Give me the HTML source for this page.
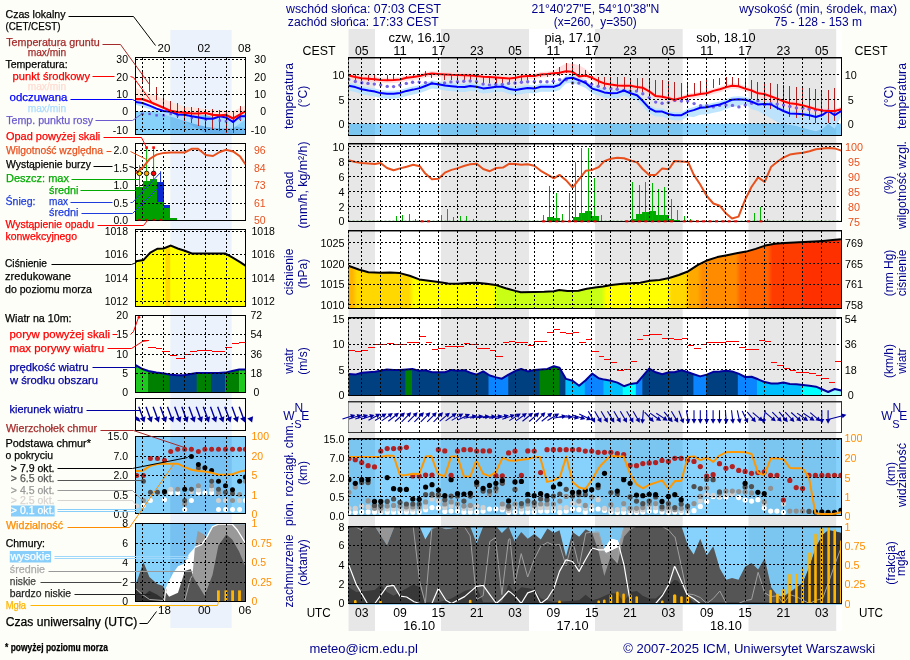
<!DOCTYPE html>
<html><head><meta charset="utf-8"><title>Meteogram</title>
<style>html,body{margin:0;padding:0;background:#fefef8}svg{display:block;will-change:transform;font-family:"Liberation Sans",sans-serif}</style></head>
<body><svg width="910" height="660" viewBox="0 0 910 660">
<rect width="910" height="660" fill="#fefef8"/>
<rect x="170.3" y="30" width="61.4" height="598" fill="#ecf2fc"/>
<defs>
<clipPath id="lc1"><rect x="135.5" y="57.5" width="110.0" height="77.0"/></clipPath>
<clipPath id="lc2"><rect x="135.5" y="143.5" width="110.0" height="77.0"/></clipPath>
<clipPath id="lc3"><rect x="135.5" y="229.5" width="110.0" height="77.0"/></clipPath>
<clipPath id="lc4"><rect x="135.5" y="315.5" width="110.0" height="77.0"/></clipPath>
<clipPath id="lc5"><rect x="135.5" y="398.5" width="110.0" height="32.0"/></clipPath>
<clipPath id="lc6"><rect x="135.5" y="436.5" width="110.0" height="77.0"/></clipPath>
<clipPath id="lc7"><rect x="135.5" y="523.5" width="110.0" height="78.0"/></clipPath>
</defs>
<g clip-path="url(#lc1)">
<rect x="135.5" y="111.4" width="110.0" height="23.1" fill="rgba(25,168,252,0.52)"/>
<rect x="170.3" y="111.4" width="61.4" height="23.1" fill="rgba(0,10,60,0.06)"/>
<polygon points="170.7,112.6 205.8,133.7 245.4,134.3 245.4,128.5 233.1,125.8 215.5,124.9 197.9,121.4 183.8,116.2" fill="#5aa5e6" fill-opacity="0.6"/>
<polygon points="135.8,88.0 142.5,90.7 156.6,95.9 170.7,102.1 184.7,106.5 198.8,108.2 212.9,110.0 226.0,110.0 233.1,110.9 245.4,105.6 245.4,113.4 240.1,116.4 233.1,120.4 226.0,116.9 219.9,117.3 212.9,116.9 205.8,115.0 198.8,115.5 191.8,115.5 184.7,114.6 177.7,114.1 170.7,112.9 163.6,109.7 156.6,106.7 149.6,103.7 142.5,101.1 135.8,101.1" fill="#ffe4dc"/>
<polygon points="135.8,102.1 142.5,103.0 149.6,105.6 156.6,108.6 163.6,110.9 170.7,111.8 177.7,114.4 184.7,114.7 191.8,116.2 198.8,117.4 205.8,118.8 212.9,118.8 219.9,116.2 226.0,117.4 233.1,122.0 240.1,116.2 245.4,116.2 245.4,119.7 240.1,123.2 233.1,128.5 219.9,128.5 205.8,126.7 191.8,123.2 177.7,118.8 163.6,114.4 149.6,109.1 135.8,104.7" fill="#b4e1ff" fill-opacity="0.9"/>
<line x1="142.5" y1="72.2" x2="142.5" y2="82.7" stroke="#b22222" stroke-width="1" shape-rendering="crispEdges"/>
<line x1="149.5" y1="77.5" x2="149.5" y2="92.4" stroke="#b22222" stroke-width="1" shape-rendering="crispEdges"/>
<line x1="156.5" y1="87.1" x2="156.5" y2="99.5" stroke="#b22222" stroke-width="1" shape-rendering="crispEdges"/>
<line x1="163.5" y1="95.9" x2="163.5" y2="107.4" stroke="#b22222" stroke-width="1" shape-rendering="crispEdges"/>
<line x1="170.5" y1="101.2" x2="170.5" y2="114.4" stroke="#b22222" stroke-width="1" shape-rendering="crispEdges"/>
<line x1="177.5" y1="103.0" x2="177.5" y2="117.9" stroke="#b22222" stroke-width="1" shape-rendering="crispEdges"/>
<line x1="184.5" y1="105.6" x2="184.5" y2="121.4" stroke="#b22222" stroke-width="1" shape-rendering="crispEdges"/>
<line x1="191.5" y1="107.4" x2="191.5" y2="123.2" stroke="#b22222" stroke-width="1" shape-rendering="crispEdges"/>
<line x1="198.5" y1="108.2" x2="198.5" y2="125.8" stroke="#b22222" stroke-width="1" shape-rendering="crispEdges"/>
<line x1="205.5" y1="109.1" x2="205.5" y2="127.6" stroke="#b22222" stroke-width="1" shape-rendering="crispEdges"/>
<line x1="212.5" y1="109.1" x2="212.5" y2="129.3" stroke="#b22222" stroke-width="1" shape-rendering="crispEdges"/>
<line x1="219.5" y1="110.0" x2="219.5" y2="131.1" stroke="#b22222" stroke-width="1" shape-rendering="crispEdges"/>
<line x1="226.5" y1="110.9" x2="226.5" y2="132.9" stroke="#b22222" stroke-width="1" shape-rendering="crispEdges"/>
<line x1="233.5" y1="111.8" x2="233.5" y2="132.9" stroke="#b22222" stroke-width="1" shape-rendering="crispEdges"/>
<line x1="240.5" y1="105.6" x2="240.5" y2="120.5" stroke="#b22222" stroke-width="1" shape-rendering="crispEdges"/>
<rect x="141.3" y="112.7" width="2.4" height="2.4" fill="#6a55e0"/>
<rect x="148.4" y="112.7" width="2.4" height="2.4" fill="#6a55e0"/>
<rect x="155.4" y="114.1" width="2.4" height="2.4" fill="#6a55e0"/>
<rect x="162.4" y="114.1" width="2.4" height="2.4" fill="#6a55e0"/>
<rect x="169.5" y="112.8" width="2.4" height="2.4" fill="#6a55e0"/>
<rect x="176.5" y="114.1" width="2.4" height="2.4" fill="#6a55e0"/>
<rect x="190.6" y="116.7" width="2.4" height="2.4" fill="#6a55e0"/>
<rect x="204.6" y="118.5" width="2.4" height="2.4" fill="#6a55e0"/>
<rect x="218.7" y="119.3" width="2.4" height="2.4" fill="#6a55e0"/>
<rect x="224.8" y="120.2" width="2.4" height="2.4" fill="#6a55e0"/>
<rect x="231.9" y="120.2" width="2.4" height="2.4" fill="#6a55e0"/>
<rect x="238.9" y="117.6" width="2.4" height="2.4" fill="#6a55e0"/>
<polyline points="135.8,102.1 142.5,103.0 149.6,105.6 156.6,108.6 163.6,110.9 170.7,111.8 177.7,114.4 184.7,114.7 191.8,116.2 198.8,117.4 205.8,118.8 212.9,118.8 219.9,116.2 226.0,117.4 233.1,122.0 240.1,116.2 245.4,116.2" fill="none" stroke="#0000ff" stroke-width="2"/>
<polyline points="135.8,99.1 142.5,99.1 149.6,101.7 156.6,104.7 163.6,107.7 170.7,110.9 177.7,112.1 184.7,112.6 191.8,113.5 198.8,113.5 205.8,113.0 212.9,114.9 219.9,115.3 226.0,114.9 233.1,118.4 240.1,114.4 245.4,111.4" fill="none" stroke="#ff0000" stroke-width="2.2"/>
</g>
<g clip-path="url(#lc2)">
<rect x="135.8" y="187.1" width="7.6" height="33.4" fill="#00a000" shape-rendering="crispEdges"/>
<rect x="143.4" y="181.0" width="6.2" height="39.6" fill="#00a000" shape-rendering="crispEdges"/>
<rect x="149.6" y="179.2" width="7.6" height="41.3" fill="#00a000" shape-rendering="crispEdges"/>
<rect x="157.1" y="202.1" width="6.5" height="18.5" fill="#00a000" shape-rendering="crispEdges"/>
<rect x="157.1" y="182.2" width="6.5" height="19.9" fill="#0a28d2" shape-rendering="crispEdges"/>
<rect x="163.6" y="207.9" width="6.5" height="12.7" fill="#00a000" shape-rendering="crispEdges"/>
<rect x="163.6" y="205.3" width="6.5" height="2.6" fill="#0a28d2" shape-rendering="crispEdges"/>
<rect x="170.1" y="218.4" width="6.7" height="2.1" fill="#00a000" shape-rendering="crispEdges"/>
<line x1="139.5" y1="165.2" x2="139.5" y2="187.1" stroke="#00b400" stroke-width="1"/>
<line x1="146.6" y1="147.6" x2="146.6" y2="181.0" stroke="#00b400" stroke-width="1"/>
<line x1="153.6" y1="147.6" x2="153.6" y2="179.2" stroke="#00b400" stroke-width="1"/>
<line x1="160.6" y1="171.3" x2="160.6" y2="182.2" stroke="#0a28d2" stroke-width="1"/>
</g>
<g clip-path="url(#lc3)">
<polygon points="135.8,261.3 143.4,260.1 150.4,252.5 157.5,248.7 163.6,248.5 170.7,245.5 177.7,248.5 184.7,250.8 191.8,253.4 205.8,253.4 225.2,253.4 233.1,257.8 240.1,262.2 245.4,265.7 245.5,306.5 135.5,306.5" fill="#ffff00"/>
<defs><clipPath id="lpp"><polygon points="135.8,261.3 143.4,260.1 150.4,252.5 157.5,248.7 163.6,248.5 170.7,245.5 177.7,248.5 184.7,250.8 191.8,253.4 205.8,253.4 225.2,253.4 233.1,257.8 240.1,262.2 245.4,265.7 245.5,306.5 135.5,306.5"/></clipPath></defs>
<rect x="165.4" y="229.5" width="4.8" height="77.0" fill="#ffd800" clip-path="url(#lpp)"/>
<polyline points="135.8,261.3 143.4,260.1 150.4,252.5 157.5,248.7 163.6,248.5 170.7,245.5 177.7,248.5 184.7,250.8 191.8,253.4 205.8,253.4 225.2,253.4 233.1,257.8 240.1,262.2 245.4,265.7" fill="none" stroke="#000" stroke-width="2"/>
</g>
<g clip-path="url(#lc4)">
<defs><clipPath id="lwp"><polygon points="135.6,365.1 142.5,369.0 148.4,371.0 156.3,372.4 164.2,373.4 169.1,374.4 177.0,375.3 183.9,375.3 190.8,374.0 196.7,373.0 204.6,373.0 211.5,373.0 218.4,373.0 225.3,372.6 232.2,371.0 239.1,369.6 245.6,369.6 245.5,392.5 135.5,392.5"/></clipPath></defs>
<g clip-path="url(#lwp)">
<rect x="135.6" y="315.5" width="12.7" height="77.0" fill="#1ec81e"/>
<rect x="148.0" y="315.5" width="21.4" height="77.0" fill="#008000"/>
<rect x="169.1" y="315.5" width="27.9" height="77.0" fill="#004488"/>
<rect x="196.7" y="315.5" width="14.5" height="77.0" fill="#008000"/>
<rect x="210.9" y="315.5" width="14.7" height="77.0" fill="#004488"/>
<rect x="225.3" y="315.5" width="14.1" height="77.0" fill="#008000"/>
<rect x="239.1" y="315.5" width="7.2" height="77.0" fill="#1ec81e"/>
</g>
<polyline points="135.6,365.1 142.5,369.0 148.4,371.0 156.3,372.4 164.2,373.4 169.1,374.4 177.0,375.3 183.9,375.3 190.8,374.0 196.7,373.0 204.6,373.0 211.5,373.0 218.4,373.0 225.3,372.6 232.2,371.0 239.1,369.6 245.6,369.6" fill="none" stroke="#00009c" stroke-width="2"/>
<line x1="142.5" y1="340.5" x2="149.4" y2="340.5" stroke="#f00" stroke-width="1" shape-rendering="crispEdges"/>
<line x1="148.4" y1="347.5" x2="156.3" y2="347.5" stroke="#f00" stroke-width="1" shape-rendering="crispEdges"/>
<line x1="156.3" y1="348.5" x2="162.2" y2="348.5" stroke="#f00" stroke-width="1" shape-rendering="crispEdges"/>
<line x1="162.2" y1="351.5" x2="170.1" y2="351.5" stroke="#f00" stroke-width="1" shape-rendering="crispEdges"/>
<line x1="170.1" y1="355.5" x2="177.0" y2="355.5" stroke="#f00" stroke-width="1" shape-rendering="crispEdges"/>
<line x1="176.0" y1="358.5" x2="184.9" y2="358.5" stroke="#f00" stroke-width="1" shape-rendering="crispEdges"/>
<line x1="183.9" y1="354.5" x2="190.8" y2="354.5" stroke="#f00" stroke-width="1" shape-rendering="crispEdges"/>
<line x1="189.8" y1="351.5" x2="196.7" y2="351.5" stroke="#f00" stroke-width="1" shape-rendering="crispEdges"/>
<line x1="196.7" y1="350.5" x2="204.6" y2="350.5" stroke="#f00" stroke-width="1" shape-rendering="crispEdges"/>
<line x1="204.6" y1="350.5" x2="211.5" y2="350.5" stroke="#f00" stroke-width="1" shape-rendering="crispEdges"/>
<line x1="211.5" y1="351.5" x2="218.4" y2="351.5" stroke="#f00" stroke-width="1" shape-rendering="crispEdges"/>
<line x1="218.4" y1="351.5" x2="225.3" y2="351.5" stroke="#f00" stroke-width="1" shape-rendering="crispEdges"/>
<line x1="225.3" y1="347.5" x2="232.2" y2="347.5" stroke="#f00" stroke-width="1" shape-rendering="crispEdges"/>
<line x1="232.2" y1="343.5" x2="239.1" y2="343.5" stroke="#f00" stroke-width="1" shape-rendering="crispEdges"/>
<line x1="239.1" y1="342.5" x2="245.6" y2="342.5" stroke="#f00" stroke-width="1" shape-rendering="crispEdges"/>
</g>
<g clip-path="url(#lc5)" stroke="#0000a0" fill="#0000a0" stroke-width="1">
</g>
<g clip-path="url(#lc6)">
<rect x="135.5" y="436.5" width="110.0" height="77.0" fill="rgba(25,168,252,0.52)"/>
<rect x="170.3" y="436.5" width="61.4" height="77.0" fill="rgba(0,10,60,0.06)"/>
<circle cx="143.4" cy="505.5" r="2.5" fill="#fff"/>
<circle cx="150.4" cy="500.6" r="2.5" fill="#fff"/>
<circle cx="164.5" cy="499.7" r="2.5" fill="#fff"/>
<circle cx="170.7" cy="492.7" r="2.5" fill="#fff"/>
<circle cx="177.7" cy="492.7" r="2.5" fill="#fff"/>
<circle cx="184.7" cy="509.4" r="2.5" fill="#fff"/>
<circle cx="191.4" cy="500.6" r="2.5" fill="#fff"/>
<circle cx="198.4" cy="492.7" r="2.5" fill="#fff"/>
<circle cx="204.9" cy="492.7" r="2.5" fill="#fff"/>
<circle cx="211.6" cy="492.7" r="2.5" fill="#fff"/>
<circle cx="218.5" cy="509.4" r="2.5" fill="#fff"/>
<circle cx="225.5" cy="509.4" r="2.5" fill="#fff"/>
<circle cx="232.5" cy="509.4" r="2.5" fill="#fff"/>
<circle cx="239.6" cy="509.4" r="2.5" fill="#fff"/>
<circle cx="245.4" cy="500.6" r="2.5" fill="#fff"/>
<circle cx="170.7" cy="489.2" r="2.5" fill="#d0d0d0"/>
<circle cx="136.7" cy="505.9" r="2.5" fill="#d0d0d0"/>
<circle cx="198.4" cy="490.1" r="2.5" fill="#d0d0d0"/>
<circle cx="211.6" cy="489.2" r="2.5" fill="#d0d0d0"/>
<circle cx="218.5" cy="500.6" r="2.5" fill="#d0d0d0"/>
<circle cx="225.5" cy="500.6" r="2.5" fill="#d0d0d0"/>
<circle cx="239.6" cy="500.6" r="2.5" fill="#d0d0d0"/>
<circle cx="191.4" cy="491.8" r="2.5" fill="#d0d0d0"/>
<circle cx="143.4" cy="500.6" r="2.5" fill="#909090"/>
<circle cx="177.7" cy="489.2" r="2.5" fill="#909090"/>
<circle cx="198.4" cy="485.7" r="2.5" fill="#909090"/>
<circle cx="211.6" cy="485.7" r="2.5" fill="#909090"/>
<circle cx="218.5" cy="492.7" r="2.5" fill="#909090"/>
<circle cx="239.6" cy="494.5" r="2.5" fill="#909090"/>
<circle cx="232.5" cy="500.6" r="2.5" fill="#909090"/>
<circle cx="245.4" cy="481.3" r="2.5" fill="#909090"/>
<circle cx="184.7" cy="504.1" r="2.5" fill="#909090"/>
<circle cx="143.4" cy="481.3" r="2.5" fill="#505050"/>
<circle cx="150.4" cy="492.3" r="2.5" fill="#505050"/>
<circle cx="157.5" cy="492.3" r="2.5" fill="#505050"/>
<circle cx="164.5" cy="492.3" r="2.5" fill="#505050"/>
<circle cx="191.4" cy="489.2" r="2.5" fill="#505050"/>
<circle cx="184.7" cy="500.6" r="2.5" fill="#505050"/>
<circle cx="211.6" cy="481.3" r="2.5" fill="#505050"/>
<circle cx="218.5" cy="489.2" r="2.5" fill="#505050"/>
<circle cx="225.5" cy="492.3" r="2.5" fill="#505050"/>
<circle cx="232.5" cy="493.6" r="2.5" fill="#505050"/>
<circle cx="198.4" cy="468.1" r="2.5" fill="#505050"/>
<circle cx="191.4" cy="456.6" r="2.5" fill="#000"/>
<circle cx="198.4" cy="464.6" r="2.5" fill="#000"/>
<circle cx="204.9" cy="467.7" r="2.5" fill="#000"/>
<circle cx="211.6" cy="470.4" r="2.5" fill="#000"/>
<circle cx="218.5" cy="481.3" r="2.5" fill="#000"/>
<circle cx="225.5" cy="485.7" r="2.5" fill="#000"/>
<circle cx="232.5" cy="489.7" r="2.5" fill="#000"/>
<circle cx="239.6" cy="481.3" r="2.5" fill="#000"/>
<circle cx="245.4" cy="476.9" r="2.5" fill="#000"/>
<circle cx="184.7" cy="489.2" r="2.5" fill="#000"/>
<circle cx="164.5" cy="491.5" r="2.5" fill="#000"/>
<circle cx="136.7" cy="475.5" r="2.5" fill="#b22222"/>
<circle cx="143.4" cy="475.5" r="2.5" fill="#b22222"/>
<circle cx="150.4" cy="458.4" r="2.5" fill="#b22222"/>
<circle cx="157.5" cy="458.4" r="2.5" fill="#b22222"/>
<circle cx="164.5" cy="460.2" r="2.5" fill="#b22222"/>
<circle cx="170.7" cy="451.4" r="2.5" fill="#b22222"/>
<circle cx="177.7" cy="449.3" r="2.5" fill="#b22222"/>
<circle cx="184.7" cy="449.3" r="2.5" fill="#b22222"/>
<circle cx="191.4" cy="449.3" r="2.5" fill="#b22222"/>
<circle cx="198.4" cy="451.4" r="2.5" fill="#b22222"/>
<circle cx="204.9" cy="449.3" r="2.5" fill="#b22222"/>
<circle cx="211.6" cy="449.3" r="2.5" fill="#b22222"/>
<circle cx="218.5" cy="449.3" r="2.5" fill="#b22222"/>
<circle cx="225.5" cy="449.3" r="2.5" fill="#b22222"/>
<circle cx="232.5" cy="449.3" r="2.5" fill="#b22222"/>
<circle cx="239.6" cy="449.3" r="2.5" fill="#b22222"/>
<circle cx="245.4" cy="449.3" r="2.5" fill="#b22222"/>
<polyline points="135.8,471.1 142.5,470.7 150.4,465.8 157.5,464.0 164.5,463.7 177.7,463.7 184.7,467.2 191.4,469.8 198.4,471.1 204.9,471.6 211.6,472.8 218.5,474.8 225.5,474.8 232.5,474.2 239.6,471.6 245.4,470.4" fill="none" stroke="#ff9800" stroke-width="2"/>
</g>
<g clip-path="url(#lc7)">
<rect x="135.5" y="523.5" width="110.0" height="78.0" fill="rgba(25,168,252,0.52)"/>
<rect x="170.3" y="523.5" width="61.4" height="78.0" fill="rgba(0,10,60,0.06)"/>
<polygon points="164.2,601.2 165.2,590.8 169.1,580.9 173.1,573.1 178.0,566.2 184.9,563.2 188.8,554.3 194.7,547.4 201.6,544.5 206.6,537.6 212.5,526.7 218.4,524.2 232.2,524.2 237.1,529.7 245.6,543.5 245.6,601.2" fill="#fff"/>
<polygon points="188.8,601.2 192.4,577.0 194.7,549.4 197.7,531.1 204.2,534.6 206.9,537.6 212.5,526.7 218.4,524.2 245.6,524.2 245.6,601.2" fill="#999"/>
<polygon points="135.6,601.2 135.6,584.9 143.5,562.2 149.4,577.0 157.3,583.9 163.2,585.9 166.2,592.8 169.1,596.7 178.0,592.8 184.9,571.1 190.8,569.1 193.7,578.0 204.6,595.7 212.5,575.0 218.4,545.5 226.3,534.6 232.2,539.6 239.1,551.4 245.6,567.1 245.6,601.2" fill="#555"/>
<polygon points="135.6,588.8 142.5,596.7 149.4,590.8 157.3,594.7 164.2,599.7 164.2,601.2 135.6,601.2" fill="#303030"/>
<polyline points="135.5,588.5 142.5,594.5 149.5,599.5 163.5,600.5 166.5,588.5" fill="none" stroke="#aaa" stroke-width="1"/>
<polyline points="184.5,601.5 190.5,578.5 192.5,575.5" fill="none" stroke="#aaa" stroke-width="1"/>
<polyline points="164.5,601.5 165.5,590.5 169.5,580.5" fill="none" stroke="#fff" stroke-width="1"/>
<polyline points="194.7,547.4 201.6,544.5 206.6,537.6 212.5,526.7 218.4,524.2 232.2,524.2 237.1,529.7 245.6,543.5" fill="none" stroke="#fff" stroke-width="1.3"/>
<rect x="217.0" y="590.4" width="2.8" height="10.8" fill="#ffb400"/>
<rect x="224.5" y="590.4" width="2.8" height="10.8" fill="#ffb400"/>
<rect x="231.2" y="590.4" width="2.8" height="10.8" fill="#ffb400"/>
<rect x="238.1" y="590.4" width="2.8" height="10.8" fill="#ffb400"/>
</g>
<g stroke="#000" stroke-width="1" stroke-dasharray="2 2" shape-rendering="crispEdges">
<line x1="142.5" y1="57.5" x2="142.5" y2="134.5"/>
<line x1="163.5" y1="57.5" x2="163.5" y2="134.5"/>
<line x1="184.5" y1="57.5" x2="184.5" y2="134.5"/>
<line x1="205.5" y1="57.5" x2="205.5" y2="134.5"/>
<line x1="226.5" y1="57.5" x2="226.5" y2="134.5"/>
<line x1="135.5" y1="59.5" x2="245.5" y2="59.5"/>
<line x1="135.5" y1="77.5" x2="245.5" y2="77.5"/>
<line x1="135.5" y1="94.5" x2="245.5" y2="94.5"/>
<line x1="135.5" y1="111.5" x2="245.5" y2="111.5"/>
<line x1="135.5" y1="129.5" x2="245.5" y2="129.5"/>
<line x1="142.5" y1="143.5" x2="142.5" y2="220.5"/>
<line x1="163.5" y1="143.5" x2="163.5" y2="220.5"/>
<line x1="184.5" y1="143.5" x2="184.5" y2="220.5"/>
<line x1="205.5" y1="143.5" x2="205.5" y2="220.5"/>
<line x1="226.5" y1="143.5" x2="226.5" y2="220.5"/>
<line x1="135.5" y1="150.5" x2="245.5" y2="150.5"/>
<line x1="135.5" y1="167.5" x2="245.5" y2="167.5"/>
<line x1="135.5" y1="185.5" x2="245.5" y2="185.5"/>
<line x1="135.5" y1="203.5" x2="245.5" y2="203.5"/>
<line x1="142.5" y1="229.5" x2="142.5" y2="306.5"/>
<line x1="163.5" y1="229.5" x2="163.5" y2="306.5"/>
<line x1="184.5" y1="229.5" x2="184.5" y2="306.5"/>
<line x1="205.5" y1="229.5" x2="205.5" y2="306.5"/>
<line x1="226.5" y1="229.5" x2="226.5" y2="306.5"/>
<line x1="135.5" y1="231.5" x2="245.5" y2="231.5"/>
<line x1="135.5" y1="254.5" x2="245.5" y2="254.5"/>
<line x1="135.5" y1="278.5" x2="245.5" y2="278.5"/>
<line x1="135.5" y1="301.5" x2="245.5" y2="301.5"/>
<line x1="142.5" y1="315.5" x2="142.5" y2="392.5"/>
<line x1="163.5" y1="315.5" x2="163.5" y2="392.5"/>
<line x1="184.5" y1="315.5" x2="184.5" y2="392.5"/>
<line x1="205.5" y1="315.5" x2="205.5" y2="392.5"/>
<line x1="226.5" y1="315.5" x2="226.5" y2="392.5"/>
<line x1="135.5" y1="334.5" x2="245.5" y2="334.5"/>
<line x1="135.5" y1="354.5" x2="245.5" y2="354.5"/>
<line x1="135.5" y1="373.5" x2="245.5" y2="373.5"/>
<line x1="142.5" y1="398.5" x2="142.5" y2="430.5"/>
<line x1="163.5" y1="398.5" x2="163.5" y2="430.5"/>
<line x1="184.5" y1="398.5" x2="184.5" y2="430.5"/>
<line x1="205.5" y1="398.5" x2="205.5" y2="430.5"/>
<line x1="226.5" y1="398.5" x2="226.5" y2="430.5"/>
<line x1="142.5" y1="436.5" x2="142.5" y2="513.5"/>
<line x1="163.5" y1="436.5" x2="163.5" y2="513.5"/>
<line x1="184.5" y1="436.5" x2="184.5" y2="513.5"/>
<line x1="205.5" y1="436.5" x2="205.5" y2="513.5"/>
<line x1="226.5" y1="436.5" x2="226.5" y2="513.5"/>
<line x1="135.5" y1="456.5" x2="245.5" y2="456.5"/>
<line x1="135.5" y1="475.5" x2="245.5" y2="475.5"/>
<line x1="135.5" y1="495.5" x2="245.5" y2="495.5"/>
<line x1="142.5" y1="523.5" x2="142.5" y2="601.5"/>
<line x1="163.5" y1="523.5" x2="163.5" y2="601.5"/>
<line x1="184.5" y1="523.5" x2="184.5" y2="601.5"/>
<line x1="205.5" y1="523.5" x2="205.5" y2="601.5"/>
<line x1="226.5" y1="523.5" x2="226.5" y2="601.5"/>
<line x1="135.5" y1="543.5" x2="245.5" y2="543.5"/>
<line x1="135.5" y1="562.5" x2="245.5" y2="562.5"/>
<line x1="135.5" y1="582.5" x2="245.5" y2="582.5"/>
</g>
<rect x="135.5" y="57.5" width="110.0" height="77.0" fill="none" stroke="#000" stroke-width="1" shape-rendering="crispEdges"/>
<rect x="135.5" y="143.5" width="110.0" height="77.0" fill="none" stroke="#000" stroke-width="1" shape-rendering="crispEdges"/>
<rect x="135.5" y="229.5" width="110.0" height="77.0" fill="none" stroke="#000" stroke-width="1" shape-rendering="crispEdges"/>
<rect x="135.5" y="315.5" width="110.0" height="77.0" fill="none" stroke="#000" stroke-width="1" shape-rendering="crispEdges"/>
<rect x="135.5" y="398.5" width="110.0" height="32.0" fill="none" stroke="#000" stroke-width="1" shape-rendering="crispEdges"/>
<rect x="135.5" y="436.5" width="110.0" height="77.0" fill="none" stroke="#000" stroke-width="1" shape-rendering="crispEdges"/>
<rect x="135.5" y="523.5" width="110.0" height="78.0" fill="none" stroke="#000" stroke-width="1" shape-rendering="crispEdges"/>
<g clip-path="url(#lc2)"><polyline points="135.8,173.1 142.5,167.8 149.6,159.0 156.6,154.6 163.6,152.9 170.7,152.5 184.7,152.5 191.8,148.8 197.9,148.8 205.8,155.1 212.9,156.0 219.9,152.0 226.0,149.7 233.1,151.5 240.1,156.4 245.4,164.3" fill="none" stroke="#e8501e" stroke-width="2"/></g>
<circle cx="139.5" cy="173.4" r="2.3" fill="#ffe600" stroke="#000" stroke-width="0.8"/>
<circle cx="146.6" cy="173.4" r="2.3" fill="#ffa500" stroke="#000" stroke-width="0.8"/>
<circle cx="153.6" cy="173.4" r="2.3" fill="#ff0000" stroke="#000" stroke-width="0.8"/>
<rect x="145.3" y="146.3" width="2.6" height="2.6" fill="#f00"/>
<rect x="152.3" y="146.3" width="2.6" height="2.6" fill="#f00"/>
<rect x="138.2" y="218.9" width="2.6" height="1.6" fill="#e00000"/>
<rect x="145.3" y="218.9" width="2.6" height="1.6" fill="#e00000"/>
<rect x="152.7" y="218.9" width="2.6" height="1.6" fill="#e00000"/>
<rect x="159.7" y="218.9" width="2.6" height="1.6" fill="#e00000"/>
<g stroke="#0000a0" fill="#0000a0" stroke-width="1.4">
<line x1="138.8" y1="406.8" x2="143.8" y2="420.6"/>
<polygon stroke="none" points="144.5,422.5 139.7,418.4 145.5,416.3"/>
<line x1="146.0" y1="406.8" x2="151.0" y2="420.6"/>
<polygon stroke="none" points="151.7,422.5 146.9,418.4 152.7,416.3"/>
<line x1="153.1" y1="406.8" x2="158.2" y2="420.6"/>
<polygon stroke="none" points="158.9,422.5 154.1,418.4 159.9,416.3"/>
<line x1="160.3" y1="406.8" x2="165.3" y2="420.6"/>
<polygon stroke="none" points="166.0,422.5 161.2,418.4 167.1,416.3"/>
<line x1="167.5" y1="406.8" x2="172.5" y2="420.6"/>
<polygon stroke="none" points="173.2,422.5 168.4,418.4 174.2,416.3"/>
<line x1="174.7" y1="406.8" x2="179.7" y2="420.6"/>
<polygon stroke="none" points="180.4,422.5 175.6,418.4 181.4,416.3"/>
<line x1="181.8" y1="406.8" x2="186.8" y2="420.6"/>
<polygon stroke="none" points="187.5,422.5 182.7,418.4 188.6,416.3"/>
<line x1="189.0" y1="406.8" x2="194.0" y2="420.6"/>
<polygon stroke="none" points="194.7,422.5 189.9,418.4 195.7,416.3"/>
<line x1="196.2" y1="406.8" x2="201.2" y2="420.6"/>
<polygon stroke="none" points="201.9,422.5 197.1,418.4 202.9,416.3"/>
<line x1="203.3" y1="406.8" x2="208.4" y2="420.6"/>
<polygon stroke="none" points="209.0,422.5 204.2,418.4 210.1,416.3"/>
<line x1="210.5" y1="406.8" x2="215.5" y2="420.6"/>
<polygon stroke="none" points="216.2,422.5 211.4,418.4 217.2,416.3"/>
<line x1="217.7" y1="406.8" x2="222.7" y2="420.6"/>
<polygon stroke="none" points="223.4,422.5 218.6,418.4 224.4,416.3"/>
<line x1="224.8" y1="406.8" x2="229.9" y2="420.6"/>
<polygon stroke="none" points="230.6,422.5 225.8,418.4 231.6,416.3"/>
<line x1="232.0" y1="406.8" x2="237.0" y2="420.6"/>
<polygon stroke="none" points="237.7,422.5 232.9,418.4 238.8,416.3"/>
<line x1="239.2" y1="406.8" x2="244.2" y2="420.6"/>
<polygon stroke="none" points="244.9,422.5 240.1,418.4 245.9,416.3"/>
<polygon stroke="none" points="252.1,422.5 247.3,418.4 253.1,416.3"/>
<polygon stroke="none" points="140.5,422 135.5,420 135.5,416 139,418"/>
</g>
<text x="128" y="63.3" fill="#000" stroke="#000" stroke-width="0" font-size="10.5" text-anchor="end">30</text>
<text x="128" y="80.9" fill="#000" stroke="#000" stroke-width="0" font-size="10.5" text-anchor="end">20</text>
<text x="128" y="98.3" fill="#000" stroke="#000" stroke-width="0" font-size="10.5" text-anchor="end">10</text>
<text x="128" y="115.2" fill="#000" stroke="#000" stroke-width="0" font-size="10.5" text-anchor="end">0</text>
<text x="128" y="133.5" fill="#000" stroke="#000" stroke-width="0" font-size="10.5" text-anchor="end">-10</text>
<text x="266" y="63.3" fill="#000" stroke="#000" stroke-width="0" font-size="10.5" text-anchor="end">30</text>
<text x="266" y="80.9" fill="#000" stroke="#000" stroke-width="0" font-size="10.5" text-anchor="end">20</text>
<text x="266" y="98.3" fill="#000" stroke="#000" stroke-width="0" font-size="10.5" text-anchor="end">10</text>
<text x="266" y="115.2" fill="#000" stroke="#000" stroke-width="0" font-size="10.5" text-anchor="end">0</text>
<text x="266" y="133.5" fill="#000" stroke="#000" stroke-width="0" font-size="10.5" text-anchor="end">-10</text>
<text x="128" y="154.4" fill="#000" stroke="#000" stroke-width="0" font-size="10.5" text-anchor="end">2.0</text>
<text x="128" y="171.6" fill="#000" stroke="#000" stroke-width="0" font-size="10.5" text-anchor="end">1.5</text>
<text x="128" y="189.2" fill="#000" stroke="#000" stroke-width="0" font-size="10.5" text-anchor="end">1.0</text>
<text x="128" y="206.8" fill="#000" stroke="#000" stroke-width="0" font-size="10.5" text-anchor="end">0.5</text>
<text x="128" y="223.8" fill="#000" stroke="#000" stroke-width="0" font-size="10.5" text-anchor="end">0.0</text>
<text x="265.6" y="154.4" fill="#e8501e" stroke="#e8501e" stroke-width="0" font-size="10.5" text-anchor="end">96</text>
<text x="265.6" y="171.6" fill="#e8501e" stroke="#e8501e" stroke-width="0" font-size="10.5" text-anchor="end">84</text>
<text x="265.6" y="189.2" fill="#e8501e" stroke="#e8501e" stroke-width="0" font-size="10.5" text-anchor="end">73</text>
<text x="265.6" y="206.8" fill="#e8501e" stroke="#e8501e" stroke-width="0" font-size="10.5" text-anchor="end">61</text>
<text x="265.6" y="224.3" fill="#e8501e" stroke="#e8501e" stroke-width="0" font-size="10.5" text-anchor="end">50</text>
<text x="128" y="235.2" fill="#000" stroke="#000" stroke-width="0" font-size="10.5" text-anchor="end">1018</text>
<text x="128" y="258.1" fill="#000" stroke="#000" stroke-width="0" font-size="10.5" text-anchor="end">1016</text>
<text x="128" y="281.8" fill="#000" stroke="#000" stroke-width="0" font-size="10.5" text-anchor="end">1014</text>
<text x="128" y="305.2" fill="#000" stroke="#000" stroke-width="0" font-size="10.5" text-anchor="end">1012</text>
<text x="251.5" y="235.2" fill="#000" stroke="#000" stroke-width="0" font-size="10.5" text-anchor="start">1018</text>
<text x="251.5" y="258.1" fill="#000" stroke="#000" stroke-width="0" font-size="10.5" text-anchor="start">1016</text>
<text x="251.5" y="281.8" fill="#000" stroke="#000" stroke-width="0" font-size="10.5" text-anchor="start">1014</text>
<text x="251.5" y="305.2" fill="#000" stroke="#000" stroke-width="0" font-size="10.5" text-anchor="start">1012</text>
<text x="128" y="319.3" fill="#000" stroke="#000" stroke-width="0" font-size="10.5" text-anchor="end">20</text>
<text x="128" y="338.1" fill="#000" stroke="#000" stroke-width="0" font-size="10.5" text-anchor="end">15</text>
<text x="128" y="358.1" fill="#000" stroke="#000" stroke-width="0" font-size="10.5" text-anchor="end">10</text>
<text x="128" y="377.2" fill="#000" stroke="#000" stroke-width="0" font-size="10.5" text-anchor="end">5</text>
<text x="128" y="396.1" fill="#000" stroke="#000" stroke-width="0" font-size="10.5" text-anchor="end">0</text>
<text x="256.3" y="319.3" fill="#000" stroke="#000" stroke-width="0" font-size="10.5" text-anchor="middle">72</text>
<text x="256.3" y="338.1" fill="#000" stroke="#000" stroke-width="0" font-size="10.5" text-anchor="middle">54</text>
<text x="256.3" y="358.1" fill="#000" stroke="#000" stroke-width="0" font-size="10.5" text-anchor="middle">36</text>
<text x="256.3" y="377.2" fill="#000" stroke="#000" stroke-width="0" font-size="10.5" text-anchor="middle">18</text>
<text x="256.3" y="396.1" fill="#000" stroke="#000" stroke-width="0" font-size="10.5" text-anchor="middle">0</text>
<text x="128" y="440.1" fill="#000" stroke="#000" stroke-width="0" font-size="10.5" text-anchor="end">15.0</text>
<text x="128" y="460.3" fill="#000" stroke="#000" stroke-width="0" font-size="10.5" text-anchor="end">7.0</text>
<text x="128" y="479.3" fill="#000" stroke="#000" stroke-width="0" font-size="10.5" text-anchor="end">2.0</text>
<text x="128" y="499.1" fill="#000" stroke="#000" stroke-width="0" font-size="10.5" text-anchor="end">0.5</text>
<text x="128" y="517.8" fill="#000" stroke="#000" stroke-width="0" font-size="10.5" text-anchor="end">0.0</text>
<text x="251.5" y="440.1" fill="#ff8c00" stroke="#ff8c00" stroke-width="0" font-size="10.5" text-anchor="start">100</text>
<text x="251.5" y="460.3" fill="#ff8c00" stroke="#ff8c00" stroke-width="0" font-size="10.5" text-anchor="start">20</text>
<text x="251.5" y="479.3" fill="#ff8c00" stroke="#ff8c00" stroke-width="0" font-size="10.5" text-anchor="start">5</text>
<text x="251.5" y="499.1" fill="#ff8c00" stroke="#ff8c00" stroke-width="0" font-size="10.5" text-anchor="start">1</text>
<text x="251.5" y="517.8" fill="#ff8c00" stroke="#ff8c00" stroke-width="0" font-size="10.5" text-anchor="start">0</text>
<text x="128" y="526.8" fill="#000" stroke="#000" stroke-width="0" font-size="10.5" text-anchor="end">8</text>
<text x="128" y="546.8" fill="#000" stroke="#000" stroke-width="0" font-size="10.5" text-anchor="end">6</text>
<text x="128" y="566.3" fill="#000" stroke="#000" stroke-width="0" font-size="10.5" text-anchor="end">4</text>
<text x="128" y="586.3" fill="#000" stroke="#000" stroke-width="0" font-size="10.5" text-anchor="end">2</text>
<text x="128" y="605.3" fill="#000" stroke="#000" stroke-width="0" font-size="10.5" text-anchor="end">0</text>
<text x="251.5" y="527.3" fill="#ff8c00" stroke="#ff8c00" stroke-width="0" font-size="10.5" text-anchor="start">1</text>
<text x="251.5" y="547.3" fill="#ff8c00" stroke="#ff8c00" stroke-width="0" font-size="10.5" text-anchor="start">0.75</text>
<text x="251.5" y="566.0" fill="#ff8c00" stroke="#ff8c00" stroke-width="0" font-size="10.5" text-anchor="start">0.5</text>
<text x="251.5" y="586.3" fill="#ff8c00" stroke="#ff8c00" stroke-width="0" font-size="10.5" text-anchor="start">0.25</text>
<text x="251.5" y="605.0" fill="#ff8c00" stroke="#ff8c00" stroke-width="0" font-size="10.5" text-anchor="start">0</text>
<text x="164" y="51.6" fill="#000" stroke="#000" stroke-width="0" font-size="11.5" text-anchor="middle">20</text>
<text x="204" y="51.6" fill="#000" stroke="#000" stroke-width="0" font-size="11.5" text-anchor="middle">02</text>
<text x="244.5" y="51.6" fill="#000" stroke="#000" stroke-width="0" font-size="11.5" text-anchor="middle">08</text>
<text x="164.5" y="614" fill="#000" stroke="#000" stroke-width="0" font-size="11.5" text-anchor="middle">18</text>
<text x="204.3" y="614" fill="#000" stroke="#000" stroke-width="0" font-size="11.5" text-anchor="middle">00</text>
<text x="245" y="614" fill="#000" stroke="#000" stroke-width="0" font-size="11.5" text-anchor="middle">06</text>
<text x="5.5" y="18.2" fill="#000" stroke="#000" stroke-width="0.25" font-size="11" text-anchor="start" textLength="60" lengthAdjust="spacingAndGlyphs">Czas lokalny</text>
<text x="5.5" y="30" fill="#000" stroke="#000" stroke-width="0.25" font-size="11" text-anchor="start" textLength="55" lengthAdjust="spacingAndGlyphs">(CET/CEST)</text>
<polyline points="68.5,16.5 133.5,16.5 155.5,45.5" fill="none" stroke="#000" stroke-width="1"/>
<text x="6.2" y="45.8" fill="#a52a2a" stroke="#a52a2a" stroke-width="0.25" font-size="11" text-anchor="start" textLength="93.5" lengthAdjust="spacingAndGlyphs">Temperatura gruntu</text>
<text x="27.7" y="55.7" fill="#a52a2a" stroke="#a52a2a" stroke-width="0.25" font-size="11" text-anchor="start" textLength="38.5" lengthAdjust="spacingAndGlyphs">max/min</text>
<polyline points="102.5,44.5 120.5,44.5 149.5,84.5" fill="none" stroke="#a52a2a" stroke-width="1"/>
<text x="5.4" y="67.7" fill="#000" stroke="#000" stroke-width="0.25" font-size="11" text-anchor="start" textLength="62.3" lengthAdjust="spacingAndGlyphs">Temperatura:</text>
<text x="12.6" y="80" fill="#f00" stroke="#f00" stroke-width="0.25" font-size="11" text-anchor="start" textLength="77.4" lengthAdjust="spacingAndGlyphs">punkt środkowy</text>
<polyline points="92.5,76.5 114.5,76.5" fill="none" stroke="#f00" stroke-width="1"/>
<polyline points="130.5,76.5 133.5,77.5 153.5,104.5" fill="none" stroke="#f00" stroke-width="1"/>
<text x="27.7" y="90" fill="#ffdcd2" stroke="#ffdcd2" stroke-width="0.25" font-size="11" text-anchor="start" textLength="38.5" lengthAdjust="spacingAndGlyphs">max/min</text>
<text x="9.5" y="101.2" fill="#00f" stroke="#00f" stroke-width="0.25" font-size="11" text-anchor="start" textLength="58" lengthAdjust="spacingAndGlyphs">odczuwana</text>
<polyline points="70.5,99.5 132.5,99.5 136.5,101.5" fill="none" stroke="#00f" stroke-width="1"/>
<text x="27.7" y="111.5" fill="#aadcff" stroke="#aadcff" stroke-width="0.25" font-size="11" text-anchor="start" textLength="38.5" lengthAdjust="spacingAndGlyphs">max/min</text>
<text x="6.2" y="123.5" fill="#6a5acd" stroke="#6a5acd" stroke-width="0.25" font-size="11" text-anchor="start" textLength="87" lengthAdjust="spacingAndGlyphs">Temp. punktu rosy</text>
<polyline points="95.5,120.5 132.5,120.5 142.5,113.5" fill="none" stroke="#6a5acd" stroke-width="1"/>
<text x="6" y="140.4" fill="#f00" stroke="#f00" stroke-width="0.25" font-size="11" text-anchor="start" textLength="94.3" lengthAdjust="spacingAndGlyphs">Opad powyżej skali</text>
<polyline points="103.5,137.5 141.5,137.5 146.5,147.5" fill="none" stroke="#f00" stroke-width="1"/>
<text x="6" y="154.2" fill="#e8501e" stroke="#e8501e" stroke-width="0.25" font-size="11" text-anchor="start" textLength="97" lengthAdjust="spacingAndGlyphs">Wilgotność względna</text>
<polyline points="106.5,151.5 111.5,151.5" fill="none" stroke="#e8501e" stroke-width="1"/>
<polyline points="130.5,151.5 146.5,159.5" fill="none" stroke="#e8501e" stroke-width="1"/>
<text x="6" y="168" fill="#000" stroke="#000" stroke-width="0.25" font-size="11" text-anchor="start" textLength="85" lengthAdjust="spacingAndGlyphs">Wystąpienie burzy</text>
<polyline points="93.5,166.5 112.5,166.5" fill="none" stroke="#000" stroke-width="1"/>
<polyline points="129.5,166.5 133.5,167.5 138.5,172.5" fill="none" stroke="#000" stroke-width="1"/>
<text x="6" y="182.3" fill="#00aa00" stroke="#00aa00" stroke-width="0.25" font-size="11" text-anchor="start" textLength="63" lengthAdjust="spacingAndGlyphs">Deszcz: max</text>
<polyline points="71.5,179.5 139.5,179.5" fill="none" stroke="#00aa00" stroke-width="1"/>
<text x="49" y="193.5" fill="#00aa00" stroke="#00aa00" stroke-width="0.25" font-size="11" text-anchor="start" textLength="29.5" lengthAdjust="spacingAndGlyphs">średni</text>
<polyline points="80.5,190.5 136.5,190.5" fill="none" stroke="#00aa00" stroke-width="1"/>
<text x="5.5" y="205" fill="#1e3cdc" stroke="#1e3cdc" stroke-width="0.25" font-size="11" text-anchor="start" textLength="30" lengthAdjust="spacingAndGlyphs">Śnieg:</text>
<text x="49" y="205" fill="#1e3cdc" stroke="#1e3cdc" stroke-width="0.25" font-size="11" text-anchor="start" textLength="19" lengthAdjust="spacingAndGlyphs">max</text>
<polyline points="70.5,202.5 112.5,202.5" fill="none" stroke="#1e3cdc" stroke-width="1"/>
<polyline points="130.5,202.5 132.5,202.5 160.5,172.5" fill="none" stroke="#1e3cdc" stroke-width="1"/>
<text x="49" y="215.8" fill="#1e3cdc" stroke="#1e3cdc" stroke-width="0.25" font-size="11" text-anchor="start" textLength="29.5" lengthAdjust="spacingAndGlyphs">średni</text>
<polyline points="81.5,213.5 132.5,213.5 157.5,188.5" fill="none" stroke="#1e3cdc" stroke-width="1"/>
<text x="5.5" y="227.6" fill="#f00" stroke="#f00" stroke-width="0.25" font-size="11" text-anchor="start" textLength="88.5" lengthAdjust="spacingAndGlyphs">Wystąpienie opadu</text>
<polyline points="97.5,225.5 143.5,225.5 147.5,220.5" fill="none" stroke="#f00" stroke-width="1"/>
<text x="5.5" y="240.4" fill="#f00" stroke="#f00" stroke-width="0.25" font-size="11" text-anchor="start" textLength="71.5" lengthAdjust="spacingAndGlyphs">konwekcyjnego</text>
<text x="5" y="266.5" fill="#000" stroke="#000" stroke-width="0.25" font-size="11" text-anchor="start" textLength="42" lengthAdjust="spacingAndGlyphs">Ciśnienie</text>
<polyline points="51.5,264.5 131.5,264.5 136.5,262.5" fill="none" stroke="#000" stroke-width="1"/>
<text x="5" y="279.6" fill="#000" stroke="#000" stroke-width="0.25" font-size="11" text-anchor="start" textLength="66" lengthAdjust="spacingAndGlyphs">zredukowane</text>
<text x="5" y="292.7" fill="#000" stroke="#000" stroke-width="0.25" font-size="11" text-anchor="start" textLength="87" lengthAdjust="spacingAndGlyphs">do poziomu morza</text>
<text x="5" y="321.6" fill="#000" stroke="#000" stroke-width="0.25" font-size="11" text-anchor="start" textLength="66.5" lengthAdjust="spacingAndGlyphs">Wiatr na 10m:</text>
<text x="9.5" y="337.6" fill="#f00" stroke="#f00" stroke-width="0.25" font-size="11" text-anchor="start" textLength="100.5" lengthAdjust="spacingAndGlyphs">poryw powyżej skali</text>
<polyline points="112.5,334.5 117.5,334.5" fill="none" stroke="#f00" stroke-width="1"/>
<polyline points="130.5,334.5 133.5,331.5 138.5,317.5" fill="none" stroke="#f00" stroke-width="1"/>
<circle cx="139" cy="317.2" r="1.3" fill="#f00"/>
<text x="9.5" y="352" fill="#f00" stroke="#f00" stroke-width="0.25" font-size="11" text-anchor="start" textLength="94.5" lengthAdjust="spacingAndGlyphs">max porywy wiatru</text>
<polyline points="107.5,348.5 131.5,348.5 142.5,341.5 148.5,340.5" fill="none" stroke="#f00" stroke-width="1"/>
<text x="9.5" y="371.2" fill="#0000a0" stroke="#0000a0" stroke-width="0.25" font-size="11" text-anchor="start" textLength="79" lengthAdjust="spacingAndGlyphs">prędkość wiatru</text>
<polyline points="92.5,367.5 136.5,367.5" fill="none" stroke="#0000a0" stroke-width="1"/>
<text x="10" y="384.2" fill="#0000a0" stroke="#0000a0" stroke-width="0.25" font-size="11" text-anchor="start" textLength="88" lengthAdjust="spacingAndGlyphs">w środku obszaru</text>
<text x="9.5" y="412.7" fill="#0000a0" stroke="#0000a0" stroke-width="0.25" font-size="11" text-anchor="start" textLength="73.5" lengthAdjust="spacingAndGlyphs">kierunek wiatru</text>
<polyline points="86.5,410.5 140.5,410.5" fill="none" stroke="#0000a0" stroke-width="1"/>
<text x="6" y="432.2" fill="#a52a2a" stroke="#a52a2a" stroke-width="0.25" font-size="11" text-anchor="start" textLength="91" lengthAdjust="spacingAndGlyphs">Wierzchołek chmur</text>
<polyline points="100.5,430.5 133.5,430.5 184.5,447.5" fill="none" stroke="#a52a2a" stroke-width="1"/>
<text x="5.5" y="447.3" fill="#000" stroke="#000" stroke-width="0.25" font-size="11" text-anchor="start" textLength="85.5" lengthAdjust="spacingAndGlyphs">Podstawa chmur*</text>
<text x="5.5" y="458.5" fill="#000" stroke="#000" stroke-width="0.25" font-size="11" text-anchor="start" textLength="47.5" lengthAdjust="spacingAndGlyphs">o pokryciu</text>
<text x="10.8" y="471.5" fill="#000" stroke="#000" stroke-width="0.25" font-size="11" text-anchor="start" textLength="43.7" lengthAdjust="spacingAndGlyphs">&gt; 7.9 okt.</text>
<polyline points="57.5,468.5 132.5,468.5 187.5,457.5" fill="none" stroke="#000" stroke-width="1"/>
<text x="10.8" y="482.4" fill="#555" stroke="#555" stroke-width="0.25" font-size="11" text-anchor="start" textLength="43.7" lengthAdjust="spacingAndGlyphs">&gt; 6.5 okt.</text>
<polyline points="57.5,480.5 141.5,480.5" fill="none" stroke="#555" stroke-width="1"/>
<text x="10.8" y="493.5" fill="#999" stroke="#999" stroke-width="0.25" font-size="11" text-anchor="start" textLength="43.7" lengthAdjust="spacingAndGlyphs">&gt; 4.5 okt.</text>
<polyline points="57.5,490.5 132.5,490.5 141.5,499.5" fill="none" stroke="#999" stroke-width="1"/>
<text x="10.8" y="503.5" fill="#d8d4d0" stroke="#d8d4d0" stroke-width="0.25" font-size="11" text-anchor="start" textLength="43.7" lengthAdjust="spacingAndGlyphs">&gt; 2.5 okt.</text>
<polyline points="57.5,500.5 132.5,500.5 136.5,505.5" fill="none" stroke="#d8d4d0" stroke-width="1"/>
<rect x="11" y="505.5" width="43.6" height="11" fill="#87cefa"/>
<text x="10.8" y="514.2" fill="#fff" stroke="#fff" stroke-width="0.25" font-size="11" text-anchor="start" textLength="43.7" lengthAdjust="spacingAndGlyphs">&gt; 0.1 okt.</text>
<polyline points="57.5,509.5 136.5,509.5" fill="none" stroke="#87cefa" stroke-width="1"/>
<polyline points="57.5,511.5 136.5,511.5" fill="none" stroke="#87cefa" stroke-width="1"/>
<text x="6" y="529.3" fill="#ff8c00" stroke="#ff8c00" stroke-width="0.25" font-size="11" text-anchor="start" textLength="57" lengthAdjust="spacingAndGlyphs">Widzialność</text>
<polyline points="67.5,527.5 129.5,527.5 173.5,464.5" fill="none" stroke="#ff8c00" stroke-width="1"/>
<text x="5.7" y="546.7" fill="#000" stroke="#000" stroke-width="0.25" font-size="11" text-anchor="start" textLength="39.3" lengthAdjust="spacingAndGlyphs">Chmury:</text>
<rect x="9.8" y="551" width="41.3" height="11.5" fill="#87cefa"/>
<text x="10.5" y="559.7" fill="#fff" stroke="#fff" stroke-width="0.25" font-size="11" text-anchor="start" textLength="40" lengthAdjust="spacingAndGlyphs">wysokie</text>
<polyline points="54.5,556.5 188.5,556.5" fill="none" stroke="#9fd8fb" stroke-width="1"/>
<polyline points="54.5,558.5 188.5,558.5" fill="none" stroke="#9fd8fb" stroke-width="1"/>
<text x="9.8" y="572.5" fill="#aaa" stroke="#aaa" stroke-width="0.25" font-size="11" text-anchor="start" textLength="35.2" lengthAdjust="spacingAndGlyphs">średnie</text>
<polyline points="48.5,571.5 192.5,571.5" fill="none" stroke="#999" stroke-width="1"/>
<text x="9.8" y="584.6" fill="#444" stroke="#444" stroke-width="0.25" font-size="11" text-anchor="start" textLength="26.2" lengthAdjust="spacingAndGlyphs">niskie</text>
<polyline points="40.5,582.5 121.5,582.5" fill="none" stroke="#444" stroke-width="1"/>
<polyline points="130.5,582.5 136.5,582.5" fill="none" stroke="#444" stroke-width="1"/>
<text x="9.8" y="596.5" fill="#222" stroke="#222" stroke-width="0.25" font-size="11" text-anchor="start" textLength="61.2" lengthAdjust="spacingAndGlyphs">bardzo niskie</text>
<polyline points="74.5,594.5 150.5,594.5" fill="none" stroke="#222" stroke-width="1"/>
<text x="5.7" y="608.5" fill="#ffb400" stroke="#ffb400" stroke-width="0.25" font-size="11" text-anchor="start" textLength="20.3" lengthAdjust="spacingAndGlyphs">Mgła</text>
<polyline points="30.5,605.5 217.5,605.5 218.5,601.5" fill="none" stroke="#ffb400" stroke-width="1"/>
<text x="5.7" y="625.5" fill="#000" stroke="#000" stroke-width="0.25" font-size="12" text-anchor="start" textLength="131.5" lengthAdjust="spacingAndGlyphs">Czas uniwersalny (UTC)</text>
<polyline points="139.5,623.5 147.5,623.5 156.5,611.5" fill="none" stroke="#000" stroke-width="1"/>
<text x="5" y="650.5" fill="#000" stroke="#000" stroke-width="0.25" font-size="10" text-anchor="start" textLength="103" lengthAdjust="spacingAndGlyphs" font-weight="bold">* powyżej poziomu morza</text>
<rect x="348.5" y="29" width="493.0" height="602" fill="#fff"/>
<rect x="348.5" y="29" width="26.5" height="602" fill="#e7e7e7"/>
<rect x="441" y="29" width="88.0" height="602" fill="#e7e7e7"/>
<rect x="595" y="29" width="87.7" height="602" fill="#e7e7e7"/>
<rect x="748.5" y="29" width="87.7" height="602" fill="#e7e7e7"/>
<defs>
<clipPath id="cp1"><rect x="348.5" y="57.5" width="493.0" height="78.0"/></clipPath>
<clipPath id="cp2"><rect x="348.5" y="143.5" width="493.0" height="78.0"/></clipPath>
<clipPath id="cp3"><rect x="348.5" y="230.5" width="493.0" height="78.0"/></clipPath>
<clipPath id="cp4"><rect x="348.5" y="317.5" width="493.0" height="78.0"/></clipPath>
<clipPath id="cp5"><rect x="348.5" y="401.5" width="493.0" height="31.0"/></clipPath>
<clipPath id="cp6"><rect x="348.5" y="438.5" width="493.0" height="77.0"/></clipPath>
<clipPath id="cp7"><rect x="348.5" y="526.5" width="493.0" height="77.0"/></clipPath>
</defs>
<g clip-path="url(#cp1)">
<rect x="348.5" y="123.6" width="493.0" height="11.9" fill="rgba(25,168,252,0.52)"/>
<polygon points="348.7,82.8 355.3,84.1 361.8,86.2 368.4,87.5 374.9,88.6 380.5,90.1 387.0,90.7 393.6,90.7 400.1,89.9 406.6,87.9 413.2,86.6 419.7,85.1 425.3,83.0 431.9,80.4 438.4,81.3 444.9,82.5 451.5,83.2 457.1,83.8 464.6,84.1 470.2,83.0 476.7,83.8 483.2,85.4 489.8,84.7 496.3,83.8 502.9,83.8 509.4,86.0 515.6,87.1 521.2,86.0 527.7,85.1 534.3,85.6 540.8,83.8 547.4,83.8 553.9,83.8 559.5,81.9 566.0,75.4 572.6,74.8 579.1,77.2 585.7,80.0 592.2,85.6 598.7,87.5 604.3,89.4 610.9,90.3 617.4,89.9 624.0,87.5 630.5,90.3 637.0,92.2 642.6,97.8 649.2,105.2 655.7,108.6 662.3,108.6 668.8,111.2 674.4,112.3 681.5,112.2 688.1,108.6 693.7,107.1 700.2,104.7 706.8,104.3 713.3,102.8 719.8,101.5 726.4,99.1 732.0,96.8 738.5,96.3 745.1,96.8 751.6,98.7 758.1,101.5 764.7,100.9 771.2,101.5 777.7,105.2 783.4,108.0 789.9,110.5 796.4,110.8 803.0,111.2 809.5,112.3 816.0,114.0 822.6,111.8 828.2,108.0 834.7,112.2 841.3,108.0 841.3,116.0 834.7,128.8 828.2,124.1 822.6,128.8 816.0,131.2 809.5,129.7 803.0,127.9 796.4,126.0 789.9,125.1 783.4,124.1 777.7,122.2 771.2,118.5 764.7,114.8 758.1,111.0 751.6,109.2 745.1,103.6 738.5,106.3 732.0,106.8 726.4,109.1 719.8,111.5 713.3,112.8 706.8,114.3 700.2,114.7 693.7,117.1 688.1,116.6 681.5,120.2 674.4,120.3 668.8,119.2 662.3,116.6 655.7,116.6 649.2,113.2 642.6,105.8 637.0,100.2 630.5,98.3 624.0,95.5 617.4,97.9 610.9,98.3 604.3,97.4 598.7,95.5 592.2,93.6 585.7,88.0 579.1,85.2 572.6,82.8 566.0,83.4 559.5,89.9 553.9,91.8 547.4,91.8 540.8,91.8 534.3,93.6 527.7,93.1 521.2,94.0 515.6,95.1 509.4,94.0 502.9,91.8 496.3,91.8 489.8,92.7 483.2,93.4 476.7,91.8 470.2,91.0 464.6,92.1 457.1,91.8 451.5,91.2 444.9,90.5 438.4,89.3 431.9,88.4 425.3,91.0 419.7,93.1 413.2,94.6 406.6,95.9 400.1,97.9 393.6,98.7 387.0,98.7 380.5,98.1 374.9,96.6 368.4,95.5 361.8,94.2 355.3,92.1 348.7,90.8" fill="#b4e1ff" fill-opacity="0.85"/>
<polygon points="348.7,73.0 355.3,74.4 361.8,75.7 368.4,76.2 374.9,76.8 380.5,77.5 387.0,77.7 393.6,77.5 400.1,77.0 406.6,75.3 413.2,74.5 419.7,73.6 425.3,71.9 431.9,71.0 438.4,71.6 444.9,71.9 451.5,72.3 457.1,72.5 464.6,72.7 470.2,73.0 476.7,73.6 483.2,74.2 489.8,74.4 496.3,74.9 502.9,75.5 509.4,76.0 515.6,75.3 521.2,74.0 527.7,73.6 534.3,73.4 540.8,72.1 547.4,71.6 553.9,70.8 559.5,67.1 566.0,63.4 572.6,63.4 579.1,65.3 585.7,69.1 592.2,75.3 598.7,78.7 604.3,80.9 610.9,82.0 617.4,83.0 624.0,83.3 630.5,83.3 637.0,84.6 642.6,85.2 649.2,88.9 655.7,93.6 662.3,94.2 668.8,95.8 674.4,97.3 681.5,95.5 688.1,93.6 693.7,92.7 700.2,91.4 706.8,90.8 713.3,88.4 719.8,86.7 726.4,84.6 732.0,83.3 738.5,83.7 745.1,86.1 751.6,88.0 758.1,90.8 764.7,91.7 771.2,94.0 777.7,96.4 783.4,98.8 789.9,100.7 796.4,101.4 803.0,102.9 809.5,104.8 816.0,106.7 822.6,108.0 828.2,108.5 834.7,108.5 841.3,106.7 841.3,114.2 834.7,116.0 828.2,116.0 822.6,115.5 816.0,114.2 809.5,112.3 803.0,110.4 796.4,108.9 789.9,108.2 783.4,106.3 777.7,103.9 771.2,101.5 764.7,99.2 758.1,96.3 751.6,93.5 745.1,91.6 738.5,89.2 732.0,88.8 726.4,90.1 719.8,92.2 713.3,93.9 706.8,96.3 700.2,96.9 693.7,98.2 688.1,99.1 681.5,101.0 674.4,102.8 668.8,101.3 662.3,99.7 655.7,99.1 649.2,94.4 642.6,90.7 637.0,90.1 630.5,88.8 624.0,88.8 617.4,88.5 610.9,87.5 604.3,86.4 598.7,84.2 592.2,80.8 585.7,78.5 579.1,79.5 572.6,74.8 566.0,74.3 559.5,75.7 553.9,76.3 547.4,77.1 540.8,77.6 534.3,78.9 527.7,79.1 521.2,79.5 515.6,80.8 509.4,81.5 502.9,81.0 496.3,80.4 489.8,79.9 483.2,79.7 476.7,79.1 470.2,78.5 464.6,78.2 457.1,78.0 451.5,77.8 444.9,77.4 438.4,77.1 431.9,76.5 425.3,77.4 419.7,79.1 413.2,80.0 406.6,80.8 400.1,82.5 393.6,83.0 387.0,83.2 380.5,83.0 374.9,82.3 368.4,81.7 361.8,81.2 355.3,79.9 348.7,78.5" fill="#ffd2d2" fill-opacity="0.7"/>
<line x1="355.5" y1="73.7" x2="355.5" y2="80.6" stroke="#b22222" stroke-width="1" shape-rendering="crispEdges"/>
<line x1="361.5" y1="75.5" x2="361.5" y2="81.2" stroke="#b22222" stroke-width="1" shape-rendering="crispEdges"/>
<line x1="368.5" y1="75.2" x2="368.5" y2="81.2" stroke="#b22222" stroke-width="1" shape-rendering="crispEdges"/>
<line x1="374.5" y1="75.2" x2="374.5" y2="81.2" stroke="#b22222" stroke-width="1" shape-rendering="crispEdges"/>
<line x1="387.5" y1="74.6" x2="387.5" y2="80.2" stroke="#b22222" stroke-width="1" shape-rendering="crispEdges"/>
<line x1="393.5" y1="74.6" x2="393.5" y2="80.2" stroke="#b22222" stroke-width="1" shape-rendering="crispEdges"/>
<line x1="406.5" y1="75.9" x2="406.5" y2="78.4" stroke="#b22222" stroke-width="1" shape-rendering="crispEdges"/>
<line x1="413.5" y1="75.2" x2="413.5" y2="77.4" stroke="#b22222" stroke-width="1" shape-rendering="crispEdges"/>
<line x1="425.5" y1="71.4" x2="425.5" y2="77.4" stroke="#b22222" stroke-width="1" shape-rendering="crispEdges"/>
<line x1="431.5" y1="73.1" x2="431.5" y2="78.4" stroke="#b22222" stroke-width="1" shape-rendering="crispEdges"/>
<line x1="444.5" y1="73.7" x2="444.5" y2="80.2" stroke="#b22222" stroke-width="1" shape-rendering="crispEdges"/>
<line x1="451.5" y1="73.7" x2="451.5" y2="80.2" stroke="#b22222" stroke-width="1" shape-rendering="crispEdges"/>
<line x1="457.5" y1="74.4" x2="457.5" y2="81.2" stroke="#b22222" stroke-width="1" shape-rendering="crispEdges"/>
<line x1="464.5" y1="74.6" x2="464.5" y2="81.2" stroke="#b22222" stroke-width="1" shape-rendering="crispEdges"/>
<line x1="470.5" y1="74.8" x2="470.5" y2="81.2" stroke="#b22222" stroke-width="1" shape-rendering="crispEdges"/>
<line x1="476.5" y1="75.2" x2="476.5" y2="82.1" stroke="#b22222" stroke-width="1" shape-rendering="crispEdges"/>
<line x1="483.5" y1="75.9" x2="483.5" y2="84.0" stroke="#b22222" stroke-width="1" shape-rendering="crispEdges"/>
<line x1="489.5" y1="76.5" x2="489.5" y2="83.0" stroke="#b22222" stroke-width="1" shape-rendering="crispEdges"/>
<line x1="496.5" y1="77.0" x2="496.5" y2="84.9" stroke="#b22222" stroke-width="1" shape-rendering="crispEdges"/>
<line x1="502.5" y1="77.4" x2="502.5" y2="85.8" stroke="#b22222" stroke-width="1" shape-rendering="crispEdges"/>
<line x1="509.5" y1="77.8" x2="509.5" y2="83.0" stroke="#b22222" stroke-width="1" shape-rendering="crispEdges"/>
<line x1="515.5" y1="74.6" x2="515.5" y2="81.2" stroke="#b22222" stroke-width="1" shape-rendering="crispEdges"/>
<line x1="521.5" y1="74.6" x2="521.5" y2="80.8" stroke="#b22222" stroke-width="1" shape-rendering="crispEdges"/>
<line x1="527.5" y1="74.6" x2="527.5" y2="80.2" stroke="#b22222" stroke-width="1" shape-rendering="crispEdges"/>
<line x1="540.5" y1="73.7" x2="540.5" y2="77.4" stroke="#b22222" stroke-width="1" shape-rendering="crispEdges"/>
<line x1="547.5" y1="73.7" x2="547.5" y2="77.0" stroke="#b22222" stroke-width="1" shape-rendering="crispEdges"/>
<line x1="559.5" y1="67.1" x2="559.5" y2="75.5" stroke="#b22222" stroke-width="1" shape-rendering="crispEdges"/>
<line x1="566.5" y1="62.5" x2="566.5" y2="72.7" stroke="#b22222" stroke-width="1" shape-rendering="crispEdges"/>
<line x1="572.5" y1="63.4" x2="572.5" y2="73.7" stroke="#b22222" stroke-width="1" shape-rendering="crispEdges"/>
<line x1="579.5" y1="64.3" x2="579.5" y2="76.5" stroke="#b22222" stroke-width="1" shape-rendering="crispEdges"/>
<line x1="585.5" y1="69.9" x2="585.5" y2="76.5" stroke="#b22222" stroke-width="1" shape-rendering="crispEdges"/>
<line x1="592.5" y1="75.5" x2="592.5" y2="78.4" stroke="#b22222" stroke-width="1" shape-rendering="crispEdges"/>
<line x1="598.5" y1="76.5" x2="598.5" y2="85.8" stroke="#b22222" stroke-width="1" shape-rendering="crispEdges"/>
<line x1="604.5" y1="76.5" x2="604.5" y2="86.8" stroke="#b22222" stroke-width="1" shape-rendering="crispEdges"/>
<line x1="610.5" y1="77.4" x2="610.5" y2="87.7" stroke="#b22222" stroke-width="1" shape-rendering="crispEdges"/>
<line x1="617.5" y1="77.4" x2="617.5" y2="89.6" stroke="#b22222" stroke-width="1" shape-rendering="crispEdges"/>
<line x1="624.5" y1="77.4" x2="624.5" y2="90.5" stroke="#b22222" stroke-width="1" shape-rendering="crispEdges"/>
<line x1="630.5" y1="78.0" x2="630.5" y2="91.4" stroke="#b22222" stroke-width="1" shape-rendering="crispEdges"/>
<line x1="637.5" y1="78.0" x2="637.5" y2="92.4" stroke="#b22222" stroke-width="1" shape-rendering="crispEdges"/>
<line x1="642.5" y1="78.4" x2="642.5" y2="92.4" stroke="#b22222" stroke-width="1" shape-rendering="crispEdges"/>
<line x1="649.5" y1="79.3" x2="649.5" y2="95.2" stroke="#b22222" stroke-width="1" shape-rendering="crispEdges"/>
<line x1="655.5" y1="80.2" x2="655.5" y2="97.0" stroke="#b22222" stroke-width="1" shape-rendering="crispEdges"/>
<line x1="662.5" y1="80.2" x2="662.5" y2="98.0" stroke="#b22222" stroke-width="1" shape-rendering="crispEdges"/>
<line x1="668.5" y1="81.2" x2="668.5" y2="99.8" stroke="#b22222" stroke-width="1" shape-rendering="crispEdges"/>
<line x1="674.5" y1="82.1" x2="674.5" y2="101.7" stroke="#b22222" stroke-width="1" shape-rendering="crispEdges"/>
<line x1="681.5" y1="83.0" x2="681.5" y2="98.9" stroke="#b22222" stroke-width="1" shape-rendering="crispEdges"/>
<line x1="687.5" y1="83.0" x2="687.5" y2="96.1" stroke="#b22222" stroke-width="1" shape-rendering="crispEdges"/>
<line x1="694.5" y1="82.6" x2="694.5" y2="96.1" stroke="#b22222" stroke-width="1" shape-rendering="crispEdges"/>
<line x1="700.5" y1="81.2" x2="700.5" y2="94.2" stroke="#b22222" stroke-width="1" shape-rendering="crispEdges"/>
<line x1="706.5" y1="80.2" x2="706.5" y2="93.3" stroke="#b22222" stroke-width="1" shape-rendering="crispEdges"/>
<line x1="713.5" y1="79.3" x2="713.5" y2="87.7" stroke="#b22222" stroke-width="1" shape-rendering="crispEdges"/>
<line x1="719.5" y1="78.4" x2="719.5" y2="84.9" stroke="#b22222" stroke-width="1" shape-rendering="crispEdges"/>
<line x1="726.5" y1="77.4" x2="726.5" y2="86.8" stroke="#b22222" stroke-width="1" shape-rendering="crispEdges"/>
<line x1="732.5" y1="77.4" x2="732.5" y2="84.9" stroke="#b22222" stroke-width="1" shape-rendering="crispEdges"/>
<line x1="738.5" y1="78.4" x2="738.5" y2="86.8" stroke="#b22222" stroke-width="1" shape-rendering="crispEdges"/>
<line x1="745.5" y1="79.3" x2="745.5" y2="88.6" stroke="#b22222" stroke-width="1" shape-rendering="crispEdges"/>
<line x1="751.5" y1="80.2" x2="751.5" y2="98.9" stroke="#b22222" stroke-width="1" shape-rendering="crispEdges"/>
<line x1="757.5" y1="82.1" x2="757.5" y2="101.7" stroke="#b22222" stroke-width="1" shape-rendering="crispEdges"/>
<line x1="764.5" y1="82.1" x2="764.5" y2="105.4" stroke="#b22222" stroke-width="1" shape-rendering="crispEdges"/>
<line x1="770.5" y1="82.6" x2="770.5" y2="109.2" stroke="#b22222" stroke-width="1" shape-rendering="crispEdges"/>
<line x1="777.5" y1="84.0" x2="777.5" y2="110.1" stroke="#b22222" stroke-width="1" shape-rendering="crispEdges"/>
<line x1="783.5" y1="84.9" x2="783.5" y2="111.0" stroke="#b22222" stroke-width="1" shape-rendering="crispEdges"/>
<line x1="789.5" y1="86.4" x2="789.5" y2="116.6" stroke="#b22222" stroke-width="1" shape-rendering="crispEdges"/>
<line x1="796.5" y1="87.1" x2="796.5" y2="117.6" stroke="#b22222" stroke-width="1" shape-rendering="crispEdges"/>
<line x1="802.5" y1="87.7" x2="802.5" y2="116.6" stroke="#b22222" stroke-width="1" shape-rendering="crispEdges"/>
<line x1="809.5" y1="88.3" x2="809.5" y2="120.4" stroke="#b22222" stroke-width="1" shape-rendering="crispEdges"/>
<line x1="815.5" y1="88.6" x2="815.5" y2="123.2" stroke="#b22222" stroke-width="1" shape-rendering="crispEdges"/>
<line x1="821.5" y1="90.5" x2="821.5" y2="116.6" stroke="#b22222" stroke-width="1" shape-rendering="crispEdges"/>
<line x1="828.5" y1="90.1" x2="828.5" y2="123.2" stroke="#b22222" stroke-width="1" shape-rendering="crispEdges"/>
<line x1="834.5" y1="88.3" x2="834.5" y2="121.3" stroke="#b22222" stroke-width="1" shape-rendering="crispEdges"/>
<line x1="841.5" y1="91.4" x2="841.5" y2="111.0" stroke="#b22222" stroke-width="1" shape-rendering="crispEdges"/>
<circle cx="348.7" cy="79.5" r="1.7" fill="#7565e6"/>
<circle cx="355.3" cy="81.5" r="1.7" fill="#7565e6"/>
<circle cx="361.8" cy="82.8" r="1.7" fill="#7565e6"/>
<circle cx="368.0" cy="83.4" r="1.7" fill="#7565e6"/>
<circle cx="374.3" cy="84.1" r="1.7" fill="#7565e6"/>
<circle cx="380.7" cy="84.9" r="1.7" fill="#7565e6"/>
<circle cx="387.2" cy="86.4" r="1.7" fill="#7565e6"/>
<circle cx="393.6" cy="86.6" r="1.7" fill="#7565e6"/>
<circle cx="399.9" cy="85.1" r="1.7" fill="#7565e6"/>
<circle cx="406.3" cy="83.4" r="1.7" fill="#7565e6"/>
<circle cx="412.6" cy="82.3" r="1.7" fill="#7565e6"/>
<circle cx="419.2" cy="82.1" r="1.7" fill="#7565e6"/>
<circle cx="425.5" cy="82.6" r="1.7" fill="#7565e6"/>
<circle cx="431.9" cy="83.2" r="1.7" fill="#7565e6"/>
<circle cx="438.2" cy="84.1" r="1.7" fill="#7565e6"/>
<circle cx="444.6" cy="83.0" r="1.7" fill="#7565e6"/>
<circle cx="450.9" cy="81.9" r="1.7" fill="#7565e6"/>
<circle cx="457.5" cy="81.7" r="1.7" fill="#7565e6"/>
<circle cx="463.8" cy="81.2" r="1.7" fill="#7565e6"/>
<circle cx="470.2" cy="81.0" r="1.7" fill="#7565e6"/>
<circle cx="476.5" cy="81.7" r="1.7" fill="#7565e6"/>
<circle cx="483.1" cy="84.1" r="1.7" fill="#7565e6"/>
<circle cx="489.4" cy="84.9" r="1.7" fill="#7565e6"/>
<circle cx="495.8" cy="84.5" r="1.7" fill="#7565e6"/>
<circle cx="502.3" cy="84.5" r="1.7" fill="#7565e6"/>
<circle cx="508.6" cy="83.4" r="1.7" fill="#7565e6"/>
<circle cx="515.0" cy="83.0" r="1.7" fill="#7565e6"/>
<circle cx="521.4" cy="82.3" r="1.7" fill="#7565e6"/>
<circle cx="527.7" cy="81.7" r="1.7" fill="#7565e6"/>
<circle cx="534.3" cy="81.7" r="1.7" fill="#7565e6"/>
<circle cx="540.6" cy="81.7" r="1.7" fill="#7565e6"/>
<circle cx="547.0" cy="81.7" r="1.7" fill="#7565e6"/>
<circle cx="553.3" cy="81.2" r="1.7" fill="#7565e6"/>
<circle cx="559.7" cy="79.7" r="1.7" fill="#7565e6"/>
<circle cx="566.2" cy="79.7" r="1.7" fill="#7565e6"/>
<circle cx="572.6" cy="83.0" r="1.7" fill="#7565e6"/>
<circle cx="578.9" cy="83.0" r="1.7" fill="#7565e6"/>
<circle cx="585.3" cy="81.7" r="1.7" fill="#7565e6"/>
<circle cx="591.6" cy="84.3" r="1.7" fill="#7565e6"/>
<circle cx="598.2" cy="86.2" r="1.7" fill="#7565e6"/>
<circle cx="604.5" cy="88.3" r="1.7" fill="#7565e6"/>
<circle cx="610.9" cy="88.8" r="1.7" fill="#7565e6"/>
<circle cx="617.2" cy="89.2" r="1.7" fill="#7565e6"/>
<circle cx="623.8" cy="90.5" r="1.7" fill="#7565e6"/>
<circle cx="630.1" cy="91.1" r="1.7" fill="#7565e6"/>
<circle cx="636.5" cy="91.1" r="1.7" fill="#7565e6"/>
<circle cx="642.8" cy="93.7" r="1.7" fill="#7565e6"/>
<circle cx="649.2" cy="97.6" r="1.7" fill="#7565e6"/>
<circle cx="655.7" cy="102.1" r="1.7" fill="#7565e6"/>
<circle cx="662.1" cy="103.2" r="1.7" fill="#7565e6"/>
<circle cx="668.4" cy="102.6" r="1.7" fill="#7565e6"/>
<circle cx="674.8" cy="100.4" r="1.7" fill="#7565e6"/>
<circle cx="681.4" cy="101.1" r="1.7" fill="#7565e6"/>
<circle cx="687.7" cy="101.1" r="1.7" fill="#7565e6"/>
<circle cx="694.1" cy="103.6" r="1.7" fill="#7565e6"/>
<circle cx="700.6" cy="105.8" r="1.7" fill="#7565e6"/>
<circle cx="706.9" cy="105.8" r="1.7" fill="#7565e6"/>
<circle cx="713.3" cy="106.9" r="1.7" fill="#7565e6"/>
<circle cx="719.6" cy="105.4" r="1.7" fill="#7565e6"/>
<circle cx="726.0" cy="105.1" r="1.7" fill="#7565e6"/>
<circle cx="732.5" cy="105.4" r="1.7" fill="#7565e6"/>
<circle cx="738.9" cy="106.9" r="1.7" fill="#7565e6"/>
<circle cx="745.2" cy="105.1" r="1.7" fill="#7565e6"/>
<circle cx="751.6" cy="103.2" r="1.7" fill="#7565e6"/>
<circle cx="757.9" cy="100.8" r="1.7" fill="#7565e6"/>
<circle cx="764.5" cy="104.5" r="1.7" fill="#7565e6"/>
<circle cx="770.8" cy="103.6" r="1.7" fill="#7565e6"/>
<circle cx="777.2" cy="104.1" r="1.7" fill="#7565e6"/>
<circle cx="783.5" cy="105.1" r="1.7" fill="#7565e6"/>
<circle cx="789.9" cy="106.4" r="1.7" fill="#7565e6"/>
<circle cx="796.4" cy="107.9" r="1.7" fill="#7565e6"/>
<circle cx="802.8" cy="108.2" r="1.7" fill="#7565e6"/>
<circle cx="809.1" cy="109.2" r="1.7" fill="#7565e6"/>
<circle cx="815.5" cy="110.1" r="1.7" fill="#7565e6"/>
<circle cx="821.8" cy="110.5" r="1.7" fill="#7565e6"/>
<circle cx="828.4" cy="111.0" r="1.7" fill="#7565e6"/>
<circle cx="834.7" cy="111.4" r="1.7" fill="#7565e6"/>
<circle cx="841.1" cy="110.7" r="1.7" fill="#7565e6"/>
<polyline points="348.7,85.8 355.3,87.1 361.8,89.2 368.4,90.5 374.9,91.6 380.5,93.1 387.0,93.7 393.6,93.7 400.1,92.9 406.6,90.9 413.2,89.6 419.7,88.1 425.3,86.0 431.9,83.4 438.4,84.3 444.9,85.5 451.5,86.2 457.1,86.8 464.6,87.1 470.2,86.0 476.7,86.8 483.2,88.4 489.8,87.7 496.3,86.8 502.9,86.8 509.4,89.0 515.6,90.1 521.2,89.0 527.7,88.1 534.3,88.6 540.8,86.8 547.4,86.8 553.9,86.8 559.5,84.9 566.0,78.4 572.6,77.8 579.1,80.2 585.7,83.0 592.2,88.6 598.7,90.5 604.3,92.4 610.9,93.3 617.4,92.9 624.0,90.5 630.5,93.3 637.0,95.2 642.6,100.8 649.2,108.2 655.7,111.6 662.3,111.6 668.8,114.2 674.4,115.3 681.5,115.2 688.1,111.6 693.7,110.1 700.2,107.7 706.8,107.3 713.3,105.8 719.8,104.5 726.4,102.1 732.0,99.8 738.5,99.3 745.1,99.8 751.6,101.7 758.1,104.5 764.7,103.9 771.2,104.5 777.7,108.2 783.4,111.0 789.9,113.5 796.4,113.8 803.0,114.2 809.5,115.3 816.0,117.0 822.6,114.8 828.2,111.0 834.7,115.2 841.3,111.0" fill="none" stroke="#0000ff" stroke-width="2" stroke-linejoin="round"/>
<polyline points="348.7,75.5 355.3,76.9 361.8,78.2 368.4,78.7 374.9,79.3 380.5,80.0 387.0,80.2 393.6,80.0 400.1,79.5 406.6,77.8 413.2,77.0 419.7,76.1 425.3,74.4 431.9,73.5 438.4,74.1 444.9,74.4 451.5,74.8 457.1,75.0 464.6,75.2 470.2,75.5 476.7,76.1 483.2,76.7 489.8,76.9 496.3,77.4 502.9,78.0 509.4,78.5 515.6,77.8 521.2,76.5 527.7,76.1 534.3,75.9 540.8,74.6 547.4,74.1 553.9,73.3 559.5,72.7 566.0,71.3 572.6,71.8 579.1,76.5 585.7,75.5 592.2,77.8 598.7,81.2 604.3,83.4 610.9,84.5 617.4,85.5 624.0,85.8 630.5,85.8 637.0,87.1 642.6,87.7 649.2,91.4 655.7,96.1 662.3,96.7 668.8,98.3 674.4,99.8 681.5,98.0 688.1,96.1 693.7,95.2 700.2,93.9 706.8,93.3 713.3,90.9 719.8,89.2 726.4,87.1 732.0,85.8 738.5,86.2 745.1,88.6 751.6,90.5 758.1,93.3 764.7,94.2 771.2,96.5 777.7,98.9 783.4,101.3 789.9,103.2 796.4,103.9 803.0,105.4 809.5,107.3 816.0,109.2 822.6,110.5 828.2,111.0 834.7,111.0 841.3,109.2" fill="none" stroke="#ff0000" stroke-width="2" stroke-linejoin="round"/>
</g>
<g clip-path="url(#cp2)">
<rect x="547.0" y="217.0" width="6.3" height="4.5" fill="#00aa00" shape-rendering="crispEdges"/>
<rect x="553.3" y="218.1" width="6.4" height="3.4" fill="#00aa00" shape-rendering="crispEdges"/>
<rect x="559.7" y="220.7" width="6.3" height="0.8" fill="#00aa00" shape-rendering="crispEdges"/>
<rect x="572.6" y="217.0" width="6.5" height="4.5" fill="#00aa00" shape-rendering="crispEdges"/>
<rect x="579.1" y="213.2" width="6.2" height="8.3" fill="#00aa00" shape-rendering="crispEdges"/>
<rect x="585.3" y="211.0" width="6.3" height="10.5" fill="#00aa00" shape-rendering="crispEdges"/>
<rect x="591.6" y="216.2" width="7.1" height="5.3" fill="#00aa00" shape-rendering="crispEdges"/>
<rect x="630.5" y="219.4" width="5.6" height="2.1" fill="#00aa00" shape-rendering="crispEdges"/>
<rect x="636.1" y="214.2" width="6.2" height="7.3" fill="#00aa00" shape-rendering="crispEdges"/>
<rect x="642.3" y="211.9" width="6.9" height="9.6" fill="#00aa00" shape-rendering="crispEdges"/>
<rect x="649.2" y="211.0" width="6.5" height="10.5" fill="#00aa00" shape-rendering="crispEdges"/>
<rect x="655.7" y="215.1" width="6.6" height="6.4" fill="#00aa00" shape-rendering="crispEdges"/>
<rect x="662.3" y="215.1" width="6.5" height="6.4" fill="#00aa00" shape-rendering="crispEdges"/>
<rect x="668.8" y="219.4" width="5.6" height="2.1" fill="#00aa00" shape-rendering="crispEdges"/>
<rect x="674.4" y="220.3" width="6.0" height="1.2" fill="#00aa00" shape-rendering="crispEdges"/>
<line x1="396.5" y1="216.2" x2="396.5" y2="221.5" stroke="#00b400" stroke-width="1" shape-rendering="crispEdges"/>
<line x1="402.5" y1="215.3" x2="402.5" y2="221.5" stroke="#00b400" stroke-width="1" shape-rendering="crispEdges"/>
<line x1="409.5" y1="214.4" x2="409.5" y2="221.5" stroke="#00b400" stroke-width="1" shape-rendering="crispEdges"/>
<line x1="415.5" y1="219.4" x2="415.5" y2="221.5" stroke="#00b400" stroke-width="1" shape-rendering="crispEdges"/>
<line x1="441.5" y1="215.3" x2="441.5" y2="221.5" stroke="#00b400" stroke-width="1" shape-rendering="crispEdges"/>
<line x1="447.5" y1="209.1" x2="447.5" y2="221.5" stroke="#00b400" stroke-width="1" shape-rendering="crispEdges"/>
<line x1="453.5" y1="217.2" x2="453.5" y2="221.5" stroke="#00b400" stroke-width="1" shape-rendering="crispEdges"/>
<line x1="460.5" y1="216.2" x2="460.5" y2="221.5" stroke="#00b400" stroke-width="1" shape-rendering="crispEdges"/>
<line x1="466.5" y1="216.2" x2="466.5" y2="221.5" stroke="#00b400" stroke-width="1" shape-rendering="crispEdges"/>
<line x1="473.5" y1="218.5" x2="473.5" y2="221.5" stroke="#00b400" stroke-width="1" shape-rendering="crispEdges"/>
<line x1="543.5" y1="215.3" x2="543.5" y2="221.5" stroke="#00b400" stroke-width="1" shape-rendering="crispEdges"/>
<line x1="549.5" y1="186.3" x2="549.5" y2="221.5" stroke="#00b400" stroke-width="1" shape-rendering="crispEdges"/>
<line x1="556.5" y1="192.7" x2="556.5" y2="221.5" stroke="#00b400" stroke-width="1" shape-rendering="crispEdges"/>
<line x1="562.5" y1="214.4" x2="562.5" y2="221.5" stroke="#00b400" stroke-width="1" shape-rendering="crispEdges"/>
<line x1="569.5" y1="192.7" x2="569.5" y2="221.5" stroke="#00b400" stroke-width="1" shape-rendering="crispEdges"/>
<line x1="575.5" y1="162.0" x2="575.5" y2="221.5" stroke="#00b400" stroke-width="1" shape-rendering="crispEdges"/>
<line x1="581.5" y1="148.4" x2="581.5" y2="221.5" stroke="#00b400" stroke-width="1" shape-rendering="crispEdges"/>
<line x1="588.5" y1="148.4" x2="588.5" y2="221.5" stroke="#00b400" stroke-width="1" shape-rendering="crispEdges"/>
<line x1="594.5" y1="177.7" x2="594.5" y2="221.5" stroke="#00b400" stroke-width="1" shape-rendering="crispEdges"/>
<line x1="601.5" y1="215.3" x2="601.5" y2="221.5" stroke="#00b400" stroke-width="1" shape-rendering="crispEdges"/>
<line x1="632.5" y1="181.5" x2="632.5" y2="221.5" stroke="#00b400" stroke-width="1" shape-rendering="crispEdges"/>
<line x1="639.5" y1="184.5" x2="639.5" y2="221.5" stroke="#00b400" stroke-width="1" shape-rendering="crispEdges"/>
<line x1="645.5" y1="181.5" x2="645.5" y2="221.5" stroke="#00b400" stroke-width="1" shape-rendering="crispEdges"/>
<line x1="652.5" y1="183.3" x2="652.5" y2="221.5" stroke="#00b400" stroke-width="1" shape-rendering="crispEdges"/>
<line x1="658.5" y1="188.6" x2="658.5" y2="221.5" stroke="#00b400" stroke-width="1" shape-rendering="crispEdges"/>
<line x1="664.5" y1="187.3" x2="664.5" y2="221.5" stroke="#00b400" stroke-width="1" shape-rendering="crispEdges"/>
<line x1="671.5" y1="198.5" x2="671.5" y2="221.5" stroke="#00b400" stroke-width="1" shape-rendering="crispEdges"/>
<line x1="677.5" y1="210.6" x2="677.5" y2="221.5" stroke="#00b400" stroke-width="1" shape-rendering="crispEdges"/>
<line x1="677.5" y1="210.1" x2="677.5" y2="221.5" stroke="#00b400" stroke-width="1" shape-rendering="crispEdges"/>
<line x1="684.5" y1="216.2" x2="684.5" y2="221.5" stroke="#00b400" stroke-width="1" shape-rendering="crispEdges"/>
<line x1="690.5" y1="219.4" x2="690.5" y2="221.5" stroke="#00b400" stroke-width="1" shape-rendering="crispEdges"/>
<line x1="696.5" y1="219.8" x2="696.5" y2="221.5" stroke="#00b400" stroke-width="1" shape-rendering="crispEdges"/>
<line x1="754.5" y1="213.2" x2="754.5" y2="221.5" stroke="#00b400" stroke-width="1" shape-rendering="crispEdges"/>
<line x1="760.5" y1="207.3" x2="760.5" y2="221.5" stroke="#00b400" stroke-width="1" shape-rendering="crispEdges"/>
<line x1="767.5" y1="218.5" x2="767.5" y2="221.5" stroke="#00b400" stroke-width="1" shape-rendering="crispEdges"/>
<polyline points="348.7,160.2 355.3,162.0 361.8,163.0 368.4,163.4 374.9,163.9 380.5,163.0 387.0,168.0 393.6,170.3 400.1,168.4 406.6,166.7 413.2,164.7 419.7,166.2 425.3,173.6 431.9,179.2 438.4,178.7 444.9,172.7 451.5,169.9 457.1,168.4 464.6,165.8 470.2,164.3 476.7,163.7 483.2,169.0 489.8,171.2 496.3,168.0 502.9,167.6 509.4,163.7 515.6,163.9 521.2,164.8 527.7,164.3 534.3,165.8 540.8,170.8 547.4,174.6 553.9,178.3 559.5,174.9 566.0,180.2 572.6,187.6 579.1,179.2 585.7,170.8 592.2,169.9 598.7,167.1 604.3,161.1 610.9,158.7 617.4,157.7 624.0,158.3 630.5,160.5 637.0,162.4 642.6,169.0 649.2,175.1 655.7,174.9 662.3,168.4 668.8,169.3 674.4,161.1 681.5,161.5 688.1,162.0 693.7,174.6 700.2,184.5 706.8,196.0 713.3,203.5 719.8,205.8 726.4,213.8 732.0,218.5 738.5,216.6 745.1,199.8 751.6,186.7 758.1,177.4 764.7,182.0 771.2,166.7 777.7,161.5 783.4,157.7 789.9,154.6 796.4,153.6 803.0,152.7 809.5,151.2 816.0,149.3 822.6,148.4 828.2,148.0 834.7,148.4 841.3,150.6" fill="none" stroke="#e8501e" stroke-width="2" stroke-linejoin="round"/>
</g>
<g clip-path="url(#cp3)">
<defs><clipPath id="ppoly"><polygon points="348.3,265.7 358.7,269.5 368.4,272.3 380.7,272.8 390.3,272.5 399.9,273.1 409.6,275.8 419.2,279.4 428.8,280.8 438.4,282.1 448.0,283.5 457.6,283.8 467.3,283.0 476.9,282.7 486.5,283.8 495.5,284.9 505.7,288.2 515.3,290.9 520.8,292.3 534.6,292.0 544.2,291.8 553.8,291.2 559.3,290.1 567.5,290.9 578.5,290.7 586.8,288.7 595.0,287.6 603.2,286.5 611.5,284.9 622.5,283.8 630.7,283.2 640.3,282.7 649.9,280.8 659.6,279.9 669.2,278.0 678.8,275.0 688.4,271.2 698.0,264.8 707.6,260.2 717.3,257.1 726.9,255.2 736.5,253.3 746.1,251.6 755.7,248.9 765.3,245.6 774.9,243.7 784.6,243.1 794.2,242.6 803.8,242.0 813.4,241.5 823.0,240.9 832.6,240.1 840.9,239.3 841.5,308.5 348.5,308.5"/></clipPath></defs>
<defs><linearGradient id="pg" gradientUnits="userSpaceOnUse" x1="348.5" y1="0" x2="841.5" y2="0"><stop offset="0.0000" stop-color="#ffb400"/><stop offset="0.0075" stop-color="#ffb400"/><stop offset="0.0176" stop-color="#ffd800"/><stop offset="0.1225" stop-color="#ffd800"/><stop offset="0.1327" stop-color="#ffff00"/><stop offset="0.2931" stop-color="#ffff00"/><stop offset="0.3032" stop-color="#c8ff14"/><stop offset="0.5128" stop-color="#c8ff14"/><stop offset="0.5229" stop-color="#ffff00"/><stop offset="0.6454" stop-color="#ffff00"/><stop offset="0.6556" stop-color="#ffd800"/><stop offset="0.6832" stop-color="#ffd800"/><stop offset="0.6933" stop-color="#ffa800"/><stop offset="0.7075" stop-color="#ffa800"/><stop offset="0.7176" stop-color="#ff8c00"/><stop offset="0.7854" stop-color="#ff8c00"/><stop offset="0.7955" stop-color="#ff6400"/><stop offset="0.8499" stop-color="#ff6400"/><stop offset="0.8600" stop-color="#ff3c00"/><stop offset="0.9148" stop-color="#ff3c00"/><stop offset="0.9249" stop-color="#ff3000"/><stop offset="1.0000" stop-color="#ff3000"/></linearGradient></defs>
<rect x="348.5" y="230.5" width="493.0" height="78.0" fill="url(#pg)" clip-path="url(#ppoly)"/>
<polyline points="348.3,265.7 358.7,269.5 368.4,272.3 380.7,272.8 390.3,272.5 399.9,273.1 409.6,275.8 419.2,279.4 428.8,280.8 438.4,282.1 448.0,283.5 457.6,283.8 467.3,283.0 476.9,282.7 486.5,283.8 495.5,284.9 505.7,288.2 515.3,290.9 520.8,292.3 534.6,292.0 544.2,291.8 553.8,291.2 559.3,290.1 567.5,290.9 578.5,290.7 586.8,288.7 595.0,287.6 603.2,286.5 611.5,284.9 622.5,283.8 630.7,283.2 640.3,282.7 649.9,280.8 659.6,279.9 669.2,278.0 678.8,275.0 688.4,271.2 698.0,264.8 707.6,260.2 717.3,257.1 726.9,255.2 736.5,253.3 746.1,251.6 755.7,248.9 765.3,245.6 774.9,243.7 784.6,243.1 794.2,242.6 803.8,242.0 813.4,241.5 823.0,240.9 832.6,240.1 840.9,239.3" fill="none" stroke="#000" stroke-width="2" stroke-linejoin="round"/>
</g>
<g clip-path="url(#cp4)">
<defs><clipPath id="wpoly"><polygon points="348.7,374.0 355.3,374.6 361.8,372.7 368.4,372.3 374.9,371.8 380.5,370.8 387.0,369.5 393.6,369.9 400.1,369.9 406.6,369.4 412.3,369.0 418.8,370.8 425.3,370.3 431.9,372.3 438.4,372.3 444.9,372.2 451.5,369.9 457.1,370.8 464.6,370.3 470.2,372.7 476.7,374.6 483.2,371.4 489.8,375.5 496.3,377.4 501.9,378.7 508.5,374.6 515.6,370.8 521.2,369.0 527.7,371.4 534.3,369.9 540.8,369.5 547.4,369.0 553.9,366.2 559.5,367.7 566.0,378.9 572.6,380.7 579.1,385.8 585.7,380.2 592.2,373.6 598.7,378.3 604.3,379.6 610.9,380.7 617.4,382.6 624.0,386.2 630.5,383.9 637.0,383.0 642.6,376.4 649.2,368.6 655.7,372.3 662.3,374.2 668.8,372.3 674.4,372.2 681.5,370.3 688.1,372.3 693.7,374.2 700.2,376.4 706.8,374.6 713.3,371.8 719.8,371.4 726.4,370.8 732.0,371.4 738.5,373.6 745.1,377.0 751.6,376.8 758.1,379.3 764.7,382.1 771.2,383.5 777.7,383.4 783.4,382.6 789.9,383.9 796.4,384.3 803.0,384.9 809.5,385.8 816.0,386.7 822.6,389.5 828.2,392.0 834.7,389.0 841.3,390.5 841.5,395.5 348.5,395.5"/></clipPath></defs>
<g clip-path="url(#wpoly)">
<rect x="348.6" y="317.5" width="57.4" height="78.0" fill="#004080"/>
<rect x="405.4" y="317.5" width="7.2" height="78.0" fill="#008000"/>
<rect x="412.0" y="317.5" width="77.1" height="78.0" fill="#004080"/>
<rect x="488.5" y="317.5" width="20.3" height="78.0" fill="#0a84ff"/>
<rect x="508.2" y="317.5" width="32.0" height="78.0" fill="#004080"/>
<rect x="539.6" y="317.5" width="20.2" height="78.0" fill="#008000"/>
<rect x="559.2" y="317.5" width="6.8" height="78.0" fill="#004080"/>
<rect x="565.4" y="317.5" width="20.0" height="78.0" fill="#00bfff"/>
<rect x="584.8" y="317.5" width="19.3" height="78.0" fill="#0a84ff"/>
<rect x="603.5" y="317.5" width="19.8" height="78.0" fill="#00bfff"/>
<rect x="622.7" y="317.5" width="13.7" height="78.0" fill="#00ffff"/>
<rect x="635.8" y="317.5" width="7.1" height="78.0" fill="#0a84ff"/>
<rect x="642.3" y="317.5" width="51.7" height="78.0" fill="#004080"/>
<rect x="693.4" y="317.5" width="13.3" height="78.0" fill="#0a84ff"/>
<rect x="706.1" y="317.5" width="32.3" height="78.0" fill="#004080"/>
<rect x="737.8" y="317.5" width="19.7" height="78.0" fill="#0a84ff"/>
<rect x="756.9" y="317.5" width="45.4" height="78.0" fill="#00bfff"/>
<rect x="801.7" y="317.5" width="20.2" height="78.0" fill="#00ffff"/>
<rect x="821.3" y="317.5" width="20.3" height="78.0" fill="#9ff"/>
</g>
<polyline points="348.7,374.0 355.3,374.6 361.8,372.7 368.4,372.3 374.9,371.8 380.5,370.8 387.0,369.5 393.6,369.9 400.1,369.9 406.6,369.4 412.3,369.0 418.8,370.8 425.3,370.3 431.9,372.3 438.4,372.3 444.9,372.2 451.5,369.9 457.1,370.8 464.6,370.3 470.2,372.7 476.7,374.6 483.2,371.4 489.8,375.5 496.3,377.4 501.9,378.7 508.5,374.6 515.6,370.8 521.2,369.0 527.7,371.4 534.3,369.9 540.8,369.5 547.4,369.0 553.9,366.2 559.5,367.7 566.0,378.9 572.6,380.7 579.1,385.8 585.7,380.2 592.2,373.6 598.7,378.3 604.3,379.6 610.9,380.7 617.4,382.6 624.0,386.2 630.5,383.9 637.0,383.0 642.6,376.4 649.2,368.6 655.7,372.3 662.3,374.2 668.8,372.3 674.4,372.2 681.5,370.3 688.1,372.3 693.7,374.2 700.2,376.4 706.8,374.6 713.3,371.8 719.8,371.4 726.4,370.8 732.0,371.4 738.5,373.6 745.1,377.0 751.6,376.8 758.1,379.3 764.7,382.1 771.2,383.5 777.7,383.4 783.4,382.6 789.9,383.9 796.4,384.3 803.0,384.9 809.5,385.8 816.0,386.7 822.6,389.5 828.2,392.0 834.7,389.0 841.3,390.5" fill="none" stroke="#00009c" stroke-width="2" stroke-linejoin="round"/>
<line x1="348.7" y1="350.5" x2="355.3" y2="350.5" stroke="#ff0000" stroke-width="1" shape-rendering="crispEdges"/>
<line x1="355.3" y1="351.5" x2="361.8" y2="351.5" stroke="#ff0000" stroke-width="1" shape-rendering="crispEdges"/>
<line x1="361.8" y1="350.5" x2="368.4" y2="350.5" stroke="#ff0000" stroke-width="1" shape-rendering="crispEdges"/>
<line x1="368.4" y1="347.5" x2="374.9" y2="347.5" stroke="#ff0000" stroke-width="1" shape-rendering="crispEdges"/>
<line x1="374.9" y1="344.5" x2="380.5" y2="344.5" stroke="#ff0000" stroke-width="1" shape-rendering="crispEdges"/>
<line x1="380.5" y1="344.5" x2="387.0" y2="344.5" stroke="#ff0000" stroke-width="1" shape-rendering="crispEdges"/>
<line x1="387.0" y1="343.5" x2="393.6" y2="343.5" stroke="#ff0000" stroke-width="1" shape-rendering="crispEdges"/>
<line x1="393.6" y1="344.5" x2="400.1" y2="344.5" stroke="#ff0000" stroke-width="1" shape-rendering="crispEdges"/>
<line x1="400.1" y1="344.5" x2="406.6" y2="344.5" stroke="#ff0000" stroke-width="1" shape-rendering="crispEdges"/>
<line x1="406.6" y1="342.5" x2="412.3" y2="342.5" stroke="#ff0000" stroke-width="1" shape-rendering="crispEdges"/>
<line x1="412.3" y1="342.5" x2="418.8" y2="342.5" stroke="#ff0000" stroke-width="1" shape-rendering="crispEdges"/>
<line x1="419.4" y1="336.5" x2="425.7" y2="336.5" stroke="#ff0000" stroke-width="1" shape-rendering="crispEdges"/>
<line x1="425.7" y1="342.5" x2="431.9" y2="342.5" stroke="#ff0000" stroke-width="1" shape-rendering="crispEdges"/>
<line x1="431.9" y1="349.5" x2="438.4" y2="349.5" stroke="#ff0000" stroke-width="1" shape-rendering="crispEdges"/>
<line x1="438.4" y1="348.5" x2="444.9" y2="348.5" stroke="#ff0000" stroke-width="1" shape-rendering="crispEdges"/>
<line x1="444.9" y1="346.5" x2="451.5" y2="346.5" stroke="#ff0000" stroke-width="1" shape-rendering="crispEdges"/>
<line x1="451.5" y1="346.5" x2="457.1" y2="346.5" stroke="#ff0000" stroke-width="1" shape-rendering="crispEdges"/>
<line x1="457.1" y1="346.5" x2="463.6" y2="346.5" stroke="#ff0000" stroke-width="1" shape-rendering="crispEdges"/>
<line x1="463.6" y1="343.5" x2="470.2" y2="343.5" stroke="#ff0000" stroke-width="1" shape-rendering="crispEdges"/>
<line x1="470.2" y1="344.5" x2="476.7" y2="344.5" stroke="#ff0000" stroke-width="1" shape-rendering="crispEdges"/>
<line x1="476.7" y1="348.5" x2="483.2" y2="348.5" stroke="#ff0000" stroke-width="1" shape-rendering="crispEdges"/>
<line x1="483.2" y1="348.5" x2="489.8" y2="348.5" stroke="#ff0000" stroke-width="1" shape-rendering="crispEdges"/>
<line x1="489.8" y1="350.5" x2="495.4" y2="350.5" stroke="#ff0000" stroke-width="1" shape-rendering="crispEdges"/>
<line x1="495.4" y1="356.5" x2="502.9" y2="356.5" stroke="#ff0000" stroke-width="1" shape-rendering="crispEdges"/>
<line x1="502.9" y1="342.5" x2="508.5" y2="342.5" stroke="#ff0000" stroke-width="1" shape-rendering="crispEdges"/>
<line x1="508.5" y1="341.5" x2="515.0" y2="341.5" stroke="#ff0000" stroke-width="1" shape-rendering="crispEdges"/>
<line x1="515.6" y1="342.5" x2="527.7" y2="342.5" stroke="#ff0000" stroke-width="1" shape-rendering="crispEdges"/>
<line x1="527.7" y1="345.5" x2="534.3" y2="345.5" stroke="#ff0000" stroke-width="1" shape-rendering="crispEdges"/>
<line x1="534.3" y1="341.5" x2="547.4" y2="341.5" stroke="#ff0000" stroke-width="1" shape-rendering="crispEdges"/>
<line x1="547.4" y1="332.5" x2="553.9" y2="332.5" stroke="#ff0000" stroke-width="1" shape-rendering="crispEdges"/>
<line x1="553.9" y1="329.5" x2="559.5" y2="329.5" stroke="#ff0000" stroke-width="1" shape-rendering="crispEdges"/>
<line x1="559.5" y1="332.5" x2="566.0" y2="332.5" stroke="#ff0000" stroke-width="1" shape-rendering="crispEdges"/>
<line x1="566.0" y1="333.5" x2="572.6" y2="333.5" stroke="#ff0000" stroke-width="1" shape-rendering="crispEdges"/>
<line x1="572.6" y1="332.5" x2="579.1" y2="332.5" stroke="#ff0000" stroke-width="1" shape-rendering="crispEdges"/>
<line x1="579.1" y1="342.5" x2="585.7" y2="342.5" stroke="#ff0000" stroke-width="1" shape-rendering="crispEdges"/>
<line x1="585.7" y1="339.5" x2="591.6" y2="339.5" stroke="#ff0000" stroke-width="1" shape-rendering="crispEdges"/>
<line x1="591.6" y1="351.5" x2="598.7" y2="351.5" stroke="#ff0000" stroke-width="1" shape-rendering="crispEdges"/>
<line x1="598.7" y1="356.5" x2="604.3" y2="356.5" stroke="#ff0000" stroke-width="1" shape-rendering="crispEdges"/>
<line x1="604.3" y1="359.5" x2="610.9" y2="359.5" stroke="#ff0000" stroke-width="1" shape-rendering="crispEdges"/>
<line x1="610.9" y1="362.5" x2="617.4" y2="362.5" stroke="#ff0000" stroke-width="1" shape-rendering="crispEdges"/>
<line x1="617.4" y1="370.5" x2="624.0" y2="370.5" stroke="#ff0000" stroke-width="1" shape-rendering="crispEdges"/>
<line x1="624.0" y1="369.5" x2="630.5" y2="369.5" stroke="#ff0000" stroke-width="1" shape-rendering="crispEdges"/>
<line x1="630.5" y1="361.5" x2="637.0" y2="361.5" stroke="#ff0000" stroke-width="1" shape-rendering="crispEdges"/>
<line x1="637.0" y1="339.5" x2="642.6" y2="339.5" stroke="#ff0000" stroke-width="1" shape-rendering="crispEdges"/>
<line x1="642.6" y1="335.5" x2="649.2" y2="335.5" stroke="#ff0000" stroke-width="1" shape-rendering="crispEdges"/>
<line x1="649.2" y1="334.5" x2="662.3" y2="334.5" stroke="#ff0000" stroke-width="1" shape-rendering="crispEdges"/>
<line x1="662.3" y1="338.5" x2="668.8" y2="338.5" stroke="#ff0000" stroke-width="1" shape-rendering="crispEdges"/>
<line x1="668.8" y1="338.5" x2="674.4" y2="338.5" stroke="#ff0000" stroke-width="1" shape-rendering="crispEdges"/>
<line x1="674.4" y1="339.5" x2="680.0" y2="339.5" stroke="#ff0000" stroke-width="1" shape-rendering="crispEdges"/>
<line x1="675.0" y1="339.5" x2="681.5" y2="339.5" stroke="#ff0000" stroke-width="1" shape-rendering="crispEdges"/>
<line x1="681.5" y1="338.5" x2="687.7" y2="338.5" stroke="#ff0000" stroke-width="1" shape-rendering="crispEdges"/>
<line x1="687.7" y1="345.5" x2="694.2" y2="345.5" stroke="#ff0000" stroke-width="1" shape-rendering="crispEdges"/>
<line x1="694.2" y1="348.5" x2="700.6" y2="348.5" stroke="#ff0000" stroke-width="1" shape-rendering="crispEdges"/>
<line x1="700.6" y1="344.5" x2="706.8" y2="344.5" stroke="#ff0000" stroke-width="1" shape-rendering="crispEdges"/>
<line x1="706.8" y1="342.5" x2="726.4" y2="342.5" stroke="#ff0000" stroke-width="1" shape-rendering="crispEdges"/>
<line x1="726.4" y1="341.5" x2="738.5" y2="341.5" stroke="#ff0000" stroke-width="1" shape-rendering="crispEdges"/>
<line x1="738.5" y1="347.5" x2="745.1" y2="347.5" stroke="#ff0000" stroke-width="1" shape-rendering="crispEdges"/>
<line x1="745.1" y1="349.5" x2="758.5" y2="349.5" stroke="#ff0000" stroke-width="1" shape-rendering="crispEdges"/>
<line x1="758.5" y1="340.5" x2="764.7" y2="340.5" stroke="#ff0000" stroke-width="1" shape-rendering="crispEdges"/>
<line x1="764.7" y1="341.5" x2="770.8" y2="341.5" stroke="#ff0000" stroke-width="1" shape-rendering="crispEdges"/>
<line x1="770.8" y1="362.5" x2="777.4" y2="362.5" stroke="#ff0000" stroke-width="1" shape-rendering="crispEdges"/>
<line x1="777.4" y1="365.5" x2="783.7" y2="365.5" stroke="#ff0000" stroke-width="1" shape-rendering="crispEdges"/>
<line x1="783.7" y1="368.5" x2="789.9" y2="368.5" stroke="#ff0000" stroke-width="1" shape-rendering="crispEdges"/>
<line x1="789.9" y1="370.5" x2="796.4" y2="370.5" stroke="#ff0000" stroke-width="1" shape-rendering="crispEdges"/>
<line x1="796.4" y1="372.5" x2="803.0" y2="372.5" stroke="#ff0000" stroke-width="1" shape-rendering="crispEdges"/>
<line x1="803.0" y1="372.5" x2="809.1" y2="372.5" stroke="#ff0000" stroke-width="1" shape-rendering="crispEdges"/>
<line x1="809.1" y1="373.5" x2="815.5" y2="373.5" stroke="#ff0000" stroke-width="1" shape-rendering="crispEdges"/>
<line x1="815.5" y1="375.5" x2="821.6" y2="375.5" stroke="#ff0000" stroke-width="1" shape-rendering="crispEdges"/>
<line x1="821.6" y1="378.5" x2="828.6" y2="378.5" stroke="#ff0000" stroke-width="1" shape-rendering="crispEdges"/>
<line x1="828.6" y1="382.5" x2="834.7" y2="382.5" stroke="#ff0000" stroke-width="1" shape-rendering="crispEdges"/>
<line x1="834.7" y1="361.5" x2="841.3" y2="361.5" stroke="#ff0000" stroke-width="1" shape-rendering="crispEdges"/>
</g>
<g clip-path="url(#cp6)">
<rect x="348.5" y="438.5" width="493.0" height="77.0" fill="rgba(25,168,252,0.52)"/>
<circle cx="348.9" cy="512.3" r="2.6" fill="#fff"/>
<circle cx="355.3" cy="512.3" r="2.6" fill="#fff"/>
<circle cx="361.7" cy="511.9" r="2.6" fill="#fff"/>
<circle cx="368.1" cy="511.9" r="2.6" fill="#fff"/>
<circle cx="374.5" cy="511.9" r="2.6" fill="#fff"/>
<circle cx="380.8" cy="511.9" r="2.6" fill="#fff"/>
<circle cx="387.2" cy="511.9" r="2.6" fill="#fff"/>
<circle cx="393.6" cy="511.9" r="2.6" fill="#fff"/>
<circle cx="400.0" cy="511.9" r="2.6" fill="#fff"/>
<circle cx="406.4" cy="511.9" r="2.6" fill="#fff"/>
<circle cx="412.8" cy="511.9" r="2.6" fill="#fff"/>
<circle cx="419.2" cy="511.9" r="2.6" fill="#fff"/>
<circle cx="425.6" cy="509.7" r="2.6" fill="#fff"/>
<circle cx="432.0" cy="507.6" r="2.6" fill="#fff"/>
<circle cx="438.4" cy="507.9" r="2.6" fill="#fff"/>
<circle cx="444.8" cy="511.4" r="2.6" fill="#fff"/>
<circle cx="451.1" cy="511.1" r="2.6" fill="#fff"/>
<circle cx="457.5" cy="511.1" r="2.6" fill="#fff"/>
<circle cx="463.9" cy="511.9" r="2.6" fill="#fff"/>
<circle cx="470.3" cy="512.0" r="2.6" fill="#fff"/>
<circle cx="476.7" cy="511.9" r="2.6" fill="#fff"/>
<circle cx="483.1" cy="511.1" r="2.6" fill="#fff"/>
<circle cx="489.5" cy="509.0" r="2.6" fill="#fff"/>
<circle cx="495.9" cy="509.0" r="2.6" fill="#fff"/>
<circle cx="502.3" cy="509.7" r="2.6" fill="#fff"/>
<circle cx="508.6" cy="512.3" r="2.6" fill="#fff"/>
<circle cx="515.0" cy="511.9" r="2.6" fill="#fff"/>
<circle cx="521.4" cy="511.9" r="2.6" fill="#fff"/>
<circle cx="527.8" cy="511.9" r="2.6" fill="#fff"/>
<circle cx="534.2" cy="511.9" r="2.6" fill="#fff"/>
<circle cx="540.6" cy="511.1" r="2.6" fill="#fff"/>
<circle cx="547.0" cy="511.1" r="2.6" fill="#fff"/>
<circle cx="553.4" cy="510.4" r="2.6" fill="#fff"/>
<circle cx="559.8" cy="512.3" r="2.6" fill="#fff"/>
<circle cx="566.2" cy="511.1" r="2.6" fill="#fff"/>
<circle cx="572.5" cy="509.0" r="2.6" fill="#fff"/>
<circle cx="578.9" cy="509.7" r="2.6" fill="#fff"/>
<circle cx="585.3" cy="511.9" r="2.6" fill="#fff"/>
<circle cx="591.7" cy="509.7" r="2.6" fill="#fff"/>
<circle cx="598.1" cy="509.0" r="2.6" fill="#fff"/>
<circle cx="604.5" cy="510.4" r="2.6" fill="#fff"/>
<circle cx="610.9" cy="511.9" r="2.6" fill="#fff"/>
<circle cx="617.3" cy="512.3" r="2.6" fill="#fff"/>
<circle cx="623.7" cy="512.3" r="2.6" fill="#fff"/>
<circle cx="630.1" cy="512.3" r="2.6" fill="#fff"/>
<circle cx="636.5" cy="512.3" r="2.6" fill="#fff"/>
<circle cx="642.8" cy="511.9" r="2.6" fill="#fff"/>
<circle cx="649.2" cy="511.1" r="2.6" fill="#fff"/>
<circle cx="655.6" cy="511.1" r="2.6" fill="#fff"/>
<circle cx="662.0" cy="511.9" r="2.6" fill="#fff"/>
<circle cx="668.4" cy="512.3" r="2.6" fill="#fff"/>
<circle cx="674.8" cy="511.9" r="2.6" fill="#fff"/>
<circle cx="681.2" cy="512.3" r="2.6" fill="#fff"/>
<circle cx="687.6" cy="512.3" r="2.6" fill="#fff"/>
<circle cx="694.0" cy="510.7" r="2.6" fill="#fff"/>
<circle cx="700.3" cy="506.4" r="2.6" fill="#fff"/>
<circle cx="706.7" cy="501.4" r="2.6" fill="#fff"/>
<circle cx="713.1" cy="496.4" r="2.6" fill="#fff"/>
<circle cx="719.5" cy="496.9" r="2.6" fill="#fff"/>
<circle cx="725.9" cy="496.9" r="2.6" fill="#fff"/>
<circle cx="738.7" cy="497.6" r="2.6" fill="#fff"/>
<circle cx="745.1" cy="500.0" r="2.6" fill="#fff"/>
<circle cx="751.5" cy="501.1" r="2.6" fill="#fff"/>
<circle cx="757.9" cy="499.7" r="2.6" fill="#fff"/>
<circle cx="764.2" cy="508.0" r="2.6" fill="#fff"/>
<circle cx="770.6" cy="511.1" r="2.6" fill="#fff"/>
<circle cx="777.0" cy="511.1" r="2.6" fill="#fff"/>
<circle cx="783.4" cy="512.3" r="2.6" fill="#fff"/>
<circle cx="348.9" cy="508.3" r="2.6" fill="#d0d0d0"/>
<circle cx="355.3" cy="508.3" r="2.6" fill="#d0d0d0"/>
<circle cx="361.7" cy="506.1" r="2.6" fill="#d0d0d0"/>
<circle cx="368.1" cy="506.9" r="2.6" fill="#d0d0d0"/>
<circle cx="380.8" cy="510.4" r="2.6" fill="#d0d0d0"/>
<circle cx="387.2" cy="509.0" r="2.6" fill="#d0d0d0"/>
<circle cx="393.6" cy="509.0" r="2.6" fill="#d0d0d0"/>
<circle cx="400.0" cy="509.0" r="2.6" fill="#d0d0d0"/>
<circle cx="406.4" cy="509.0" r="2.6" fill="#d0d0d0"/>
<circle cx="412.8" cy="509.0" r="2.6" fill="#d0d0d0"/>
<circle cx="419.2" cy="509.0" r="2.6" fill="#d0d0d0"/>
<circle cx="425.6" cy="506.9" r="2.6" fill="#d0d0d0"/>
<circle cx="432.0" cy="499.0" r="2.6" fill="#d0d0d0"/>
<circle cx="438.4" cy="501.1" r="2.6" fill="#d0d0d0"/>
<circle cx="444.8" cy="507.6" r="2.6" fill="#d0d0d0"/>
<circle cx="451.1" cy="506.1" r="2.6" fill="#d0d0d0"/>
<circle cx="457.5" cy="506.9" r="2.6" fill="#d0d0d0"/>
<circle cx="463.9" cy="508.3" r="2.6" fill="#d0d0d0"/>
<circle cx="470.3" cy="508.3" r="2.6" fill="#d0d0d0"/>
<circle cx="476.7" cy="506.1" r="2.6" fill="#d0d0d0"/>
<circle cx="483.1" cy="507.6" r="2.6" fill="#d0d0d0"/>
<circle cx="502.3" cy="507.6" r="2.6" fill="#d0d0d0"/>
<circle cx="508.6" cy="510.4" r="2.6" fill="#d0d0d0"/>
<circle cx="515.0" cy="507.6" r="2.6" fill="#d0d0d0"/>
<circle cx="521.4" cy="509.0" r="2.6" fill="#d0d0d0"/>
<circle cx="527.8" cy="508.3" r="2.6" fill="#d0d0d0"/>
<circle cx="534.2" cy="508.3" r="2.6" fill="#d0d0d0"/>
<circle cx="540.6" cy="507.6" r="2.6" fill="#d0d0d0"/>
<circle cx="547.0" cy="507.6" r="2.6" fill="#d0d0d0"/>
<circle cx="553.4" cy="508.3" r="2.6" fill="#d0d0d0"/>
<circle cx="559.8" cy="507.6" r="2.6" fill="#d0d0d0"/>
<circle cx="566.2" cy="507.6" r="2.6" fill="#d0d0d0"/>
<circle cx="572.5" cy="503.3" r="2.6" fill="#d0d0d0"/>
<circle cx="578.9" cy="504.0" r="2.6" fill="#d0d0d0"/>
<circle cx="585.3" cy="508.3" r="2.6" fill="#d0d0d0"/>
<circle cx="591.7" cy="506.1" r="2.6" fill="#d0d0d0"/>
<circle cx="598.1" cy="499.7" r="2.6" fill="#d0d0d0"/>
<circle cx="604.5" cy="508.3" r="2.6" fill="#d0d0d0"/>
<circle cx="610.9" cy="509.7" r="2.6" fill="#d0d0d0"/>
<circle cx="617.3" cy="509.7" r="2.6" fill="#d0d0d0"/>
<circle cx="623.7" cy="509.0" r="2.6" fill="#d0d0d0"/>
<circle cx="630.1" cy="510.4" r="2.6" fill="#d0d0d0"/>
<circle cx="636.5" cy="510.4" r="2.6" fill="#d0d0d0"/>
<circle cx="642.8" cy="509.7" r="2.6" fill="#d0d0d0"/>
<circle cx="649.2" cy="507.6" r="2.6" fill="#d0d0d0"/>
<circle cx="655.6" cy="507.6" r="2.6" fill="#d0d0d0"/>
<circle cx="668.4" cy="510.4" r="2.6" fill="#d0d0d0"/>
<circle cx="681.2" cy="510.4" r="2.6" fill="#d0d0d0"/>
<circle cx="687.6" cy="511.1" r="2.6" fill="#d0d0d0"/>
<circle cx="700.3" cy="500.9" r="2.6" fill="#d0d0d0"/>
<circle cx="706.7" cy="494.7" r="2.6" fill="#d0d0d0"/>
<circle cx="713.1" cy="495.4" r="2.6" fill="#d0d0d0"/>
<circle cx="719.5" cy="496.1" r="2.6" fill="#d0d0d0"/>
<circle cx="725.9" cy="494.7" r="2.6" fill="#d0d0d0"/>
<circle cx="732.3" cy="494.0" r="2.6" fill="#d0d0d0"/>
<circle cx="764.2" cy="504.0" r="2.6" fill="#d0d0d0"/>
<circle cx="777.0" cy="476.6" r="2.6" fill="#d0d0d0"/>
<circle cx="783.4" cy="503.7" r="2.6" fill="#d0d0d0"/>
<circle cx="348.9" cy="492.3" r="2.6" fill="#909090"/>
<circle cx="355.3" cy="487.1" r="2.6" fill="#909090"/>
<circle cx="368.1" cy="500.9" r="2.6" fill="#909090"/>
<circle cx="374.5" cy="508.3" r="2.6" fill="#909090"/>
<circle cx="380.8" cy="508.3" r="2.6" fill="#909090"/>
<circle cx="387.2" cy="506.1" r="2.6" fill="#909090"/>
<circle cx="393.6" cy="505.4" r="2.6" fill="#909090"/>
<circle cx="400.0" cy="506.1" r="2.6" fill="#909090"/>
<circle cx="406.4" cy="506.9" r="2.6" fill="#909090"/>
<circle cx="412.8" cy="506.9" r="2.6" fill="#909090"/>
<circle cx="419.2" cy="506.9" r="2.6" fill="#909090"/>
<circle cx="425.6" cy="501.9" r="2.6" fill="#909090"/>
<circle cx="432.0" cy="495.4" r="2.6" fill="#909090"/>
<circle cx="438.4" cy="496.1" r="2.6" fill="#909090"/>
<circle cx="444.8" cy="504.0" r="2.6" fill="#909090"/>
<circle cx="451.1" cy="501.9" r="2.6" fill="#909090"/>
<circle cx="457.5" cy="504.0" r="2.6" fill="#909090"/>
<circle cx="463.9" cy="506.1" r="2.6" fill="#909090"/>
<circle cx="470.3" cy="505.4" r="2.6" fill="#909090"/>
<circle cx="489.5" cy="494.0" r="2.6" fill="#909090"/>
<circle cx="495.9" cy="491.1" r="2.6" fill="#909090"/>
<circle cx="502.3" cy="504.0" r="2.6" fill="#909090"/>
<circle cx="508.6" cy="508.3" r="2.6" fill="#909090"/>
<circle cx="515.0" cy="504.0" r="2.6" fill="#909090"/>
<circle cx="521.4" cy="506.1" r="2.6" fill="#909090"/>
<circle cx="527.8" cy="504.0" r="2.6" fill="#909090"/>
<circle cx="534.2" cy="505.4" r="2.6" fill="#909090"/>
<circle cx="540.6" cy="504.0" r="2.6" fill="#909090"/>
<circle cx="547.0" cy="504.0" r="2.6" fill="#909090"/>
<circle cx="553.4" cy="504.0" r="2.6" fill="#909090"/>
<circle cx="559.8" cy="501.1" r="2.6" fill="#909090"/>
<circle cx="566.2" cy="496.4" r="2.6" fill="#909090"/>
<circle cx="578.9" cy="501.1" r="2.6" fill="#909090"/>
<circle cx="585.3" cy="505.4" r="2.6" fill="#909090"/>
<circle cx="591.7" cy="496.9" r="2.6" fill="#909090"/>
<circle cx="610.9" cy="504.7" r="2.6" fill="#909090"/>
<circle cx="623.7" cy="503.6" r="2.6" fill="#909090"/>
<circle cx="630.1" cy="508.3" r="2.6" fill="#909090"/>
<circle cx="636.5" cy="508.3" r="2.6" fill="#909090"/>
<circle cx="642.8" cy="507.6" r="2.6" fill="#909090"/>
<circle cx="649.2" cy="504.0" r="2.6" fill="#909090"/>
<circle cx="655.6" cy="503.6" r="2.6" fill="#909090"/>
<circle cx="662.0" cy="509.0" r="2.6" fill="#909090"/>
<circle cx="668.4" cy="507.6" r="2.6" fill="#909090"/>
<circle cx="674.8" cy="509.7" r="2.6" fill="#909090"/>
<circle cx="681.2" cy="508.3" r="2.6" fill="#909090"/>
<circle cx="687.6" cy="508.3" r="2.6" fill="#909090"/>
<circle cx="694.0" cy="503.6" r="2.6" fill="#909090"/>
<circle cx="700.3" cy="496.4" r="2.6" fill="#909090"/>
<circle cx="706.7" cy="488.0" r="2.6" fill="#909090"/>
<circle cx="719.5" cy="493.3" r="2.6" fill="#909090"/>
<circle cx="725.9" cy="491.1" r="2.6" fill="#909090"/>
<circle cx="732.3" cy="491.1" r="2.6" fill="#909090"/>
<circle cx="738.7" cy="491.6" r="2.6" fill="#909090"/>
<circle cx="745.1" cy="491.9" r="2.6" fill="#909090"/>
<circle cx="751.5" cy="492.9" r="2.6" fill="#909090"/>
<circle cx="764.2" cy="501.9" r="2.6" fill="#909090"/>
<circle cx="770.6" cy="488.3" r="2.6" fill="#909090"/>
<circle cx="789.8" cy="511.1" r="2.6" fill="#909090"/>
<circle cx="796.2" cy="511.1" r="2.6" fill="#909090"/>
<circle cx="802.6" cy="511.1" r="2.6" fill="#909090"/>
<circle cx="361.7" cy="482.6" r="2.6" fill="#505050"/>
<circle cx="368.1" cy="482.6" r="2.6" fill="#505050"/>
<circle cx="374.5" cy="505.4" r="2.6" fill="#505050"/>
<circle cx="380.8" cy="505.4" r="2.6" fill="#505050"/>
<circle cx="387.2" cy="501.4" r="2.6" fill="#505050"/>
<circle cx="393.6" cy="499.0" r="2.6" fill="#505050"/>
<circle cx="400.0" cy="502.3" r="2.6" fill="#505050"/>
<circle cx="406.4" cy="504.0" r="2.6" fill="#505050"/>
<circle cx="412.8" cy="504.0" r="2.6" fill="#505050"/>
<circle cx="419.2" cy="504.0" r="2.6" fill="#505050"/>
<circle cx="425.6" cy="494.7" r="2.6" fill="#505050"/>
<circle cx="432.0" cy="494.0" r="2.6" fill="#505050"/>
<circle cx="438.4" cy="494.7" r="2.6" fill="#505050"/>
<circle cx="444.8" cy="499.7" r="2.6" fill="#505050"/>
<circle cx="451.1" cy="496.1" r="2.6" fill="#505050"/>
<circle cx="457.5" cy="496.1" r="2.6" fill="#505050"/>
<circle cx="463.9" cy="501.1" r="2.6" fill="#505050"/>
<circle cx="470.3" cy="496.1" r="2.6" fill="#505050"/>
<circle cx="476.7" cy="484.7" r="2.6" fill="#505050"/>
<circle cx="483.1" cy="491.1" r="2.6" fill="#505050"/>
<circle cx="489.5" cy="491.1" r="2.6" fill="#505050"/>
<circle cx="495.9" cy="488.3" r="2.6" fill="#505050"/>
<circle cx="502.3" cy="483.3" r="2.6" fill="#505050"/>
<circle cx="508.6" cy="506.1" r="2.6" fill="#505050"/>
<circle cx="515.0" cy="489.4" r="2.6" fill="#505050"/>
<circle cx="521.4" cy="503.6" r="2.6" fill="#505050"/>
<circle cx="527.8" cy="500.9" r="2.6" fill="#505050"/>
<circle cx="534.2" cy="502.6" r="2.6" fill="#505050"/>
<circle cx="540.6" cy="499.0" r="2.6" fill="#505050"/>
<circle cx="547.0" cy="499.7" r="2.6" fill="#505050"/>
<circle cx="553.4" cy="496.1" r="2.6" fill="#505050"/>
<circle cx="559.8" cy="494.0" r="2.6" fill="#505050"/>
<circle cx="566.2" cy="489.3" r="2.6" fill="#505050"/>
<circle cx="572.5" cy="496.1" r="2.6" fill="#505050"/>
<circle cx="578.9" cy="494.7" r="2.6" fill="#505050"/>
<circle cx="585.3" cy="494.7" r="2.6" fill="#505050"/>
<circle cx="598.1" cy="487.6" r="2.6" fill="#505050"/>
<circle cx="610.9" cy="492.6" r="2.6" fill="#505050"/>
<circle cx="617.3" cy="494.0" r="2.6" fill="#505050"/>
<circle cx="630.1" cy="496.9" r="2.6" fill="#505050"/>
<circle cx="636.5" cy="501.1" r="2.6" fill="#505050"/>
<circle cx="642.8" cy="503.7" r="2.6" fill="#505050"/>
<circle cx="649.2" cy="501.1" r="2.6" fill="#505050"/>
<circle cx="655.6" cy="496.9" r="2.6" fill="#505050"/>
<circle cx="662.0" cy="506.9" r="2.6" fill="#505050"/>
<circle cx="668.4" cy="503.6" r="2.6" fill="#505050"/>
<circle cx="674.8" cy="507.6" r="2.6" fill="#505050"/>
<circle cx="681.2" cy="504.0" r="2.6" fill="#505050"/>
<circle cx="687.6" cy="506.1" r="2.6" fill="#505050"/>
<circle cx="694.0" cy="486.6" r="2.6" fill="#505050"/>
<circle cx="700.3" cy="488.6" r="2.6" fill="#505050"/>
<circle cx="706.7" cy="479.4" r="2.6" fill="#505050"/>
<circle cx="713.1" cy="479.7" r="2.6" fill="#505050"/>
<circle cx="719.5" cy="491.9" r="2.6" fill="#505050"/>
<circle cx="745.1" cy="486.9" r="2.6" fill="#505050"/>
<circle cx="751.5" cy="486.6" r="2.6" fill="#505050"/>
<circle cx="809.0" cy="511.4" r="2.6" fill="#505050"/>
<circle cx="348.9" cy="479.7" r="2.6" fill="#000"/>
<circle cx="355.3" cy="483.3" r="2.6" fill="#000"/>
<circle cx="361.7" cy="479.7" r="2.6" fill="#000"/>
<circle cx="368.1" cy="479.7" r="2.6" fill="#000"/>
<circle cx="374.5" cy="501.4" r="2.6" fill="#000"/>
<circle cx="380.8" cy="501.4" r="2.6" fill="#000"/>
<circle cx="387.2" cy="477.6" r="2.6" fill="#000"/>
<circle cx="393.6" cy="488.7" r="2.6" fill="#000"/>
<circle cx="400.0" cy="489.4" r="2.6" fill="#000"/>
<circle cx="406.4" cy="489.4" r="2.6" fill="#000"/>
<circle cx="412.8" cy="499.0" r="2.6" fill="#000"/>
<circle cx="419.2" cy="499.3" r="2.6" fill="#000"/>
<circle cx="425.6" cy="487.1" r="2.6" fill="#000"/>
<circle cx="432.0" cy="484.7" r="2.6" fill="#000"/>
<circle cx="438.4" cy="490.0" r="2.6" fill="#000"/>
<circle cx="444.8" cy="495.7" r="2.6" fill="#000"/>
<circle cx="451.1" cy="479.7" r="2.6" fill="#000"/>
<circle cx="457.5" cy="493.6" r="2.6" fill="#000"/>
<circle cx="463.9" cy="494.0" r="2.6" fill="#000"/>
<circle cx="470.3" cy="493.3" r="2.6" fill="#000"/>
<circle cx="476.7" cy="482.3" r="2.6" fill="#000"/>
<circle cx="483.1" cy="488.3" r="2.6" fill="#000"/>
<circle cx="489.5" cy="485.4" r="2.6" fill="#000"/>
<circle cx="495.9" cy="483.3" r="2.6" fill="#000"/>
<circle cx="502.3" cy="480.4" r="2.6" fill="#000"/>
<circle cx="508.6" cy="500.9" r="2.6" fill="#000"/>
<circle cx="515.0" cy="481.9" r="2.6" fill="#000"/>
<circle cx="521.4" cy="481.4" r="2.6" fill="#000"/>
<circle cx="527.8" cy="494.3" r="2.6" fill="#000"/>
<circle cx="534.2" cy="495.7" r="2.6" fill="#000"/>
<circle cx="540.6" cy="493.7" r="2.6" fill="#000"/>
<circle cx="547.0" cy="495.7" r="2.6" fill="#000"/>
<circle cx="553.4" cy="486.9" r="2.6" fill="#000"/>
<circle cx="559.8" cy="484.0" r="2.6" fill="#000"/>
<circle cx="572.5" cy="492.3" r="2.6" fill="#000"/>
<circle cx="578.9" cy="492.1" r="2.6" fill="#000"/>
<circle cx="585.3" cy="490.4" r="2.6" fill="#000"/>
<circle cx="591.7" cy="489.7" r="2.6" fill="#000"/>
<circle cx="598.1" cy="485.0" r="2.6" fill="#000"/>
<circle cx="604.5" cy="473.3" r="2.6" fill="#000"/>
<circle cx="617.3" cy="491.1" r="2.6" fill="#000"/>
<circle cx="623.7" cy="479.7" r="2.6" fill="#000"/>
<circle cx="630.1" cy="483.3" r="2.6" fill="#000"/>
<circle cx="636.5" cy="495.1" r="2.6" fill="#000"/>
<circle cx="642.8" cy="495.7" r="2.6" fill="#000"/>
<circle cx="649.2" cy="494.3" r="2.6" fill="#000"/>
<circle cx="655.6" cy="494.7" r="2.6" fill="#000"/>
<circle cx="662.0" cy="501.4" r="2.6" fill="#000"/>
<circle cx="668.4" cy="496.4" r="2.6" fill="#000"/>
<circle cx="674.8" cy="494.7" r="2.6" fill="#000"/>
<circle cx="681.2" cy="499.7" r="2.6" fill="#000"/>
<circle cx="745.1" cy="483.3" r="2.6" fill="#000"/>
<circle cx="757.9" cy="492.3" r="2.6" fill="#000"/>
<circle cx="764.2" cy="493.7" r="2.6" fill="#000"/>
<circle cx="815.4" cy="511.9" r="2.6" fill="#000"/>
<circle cx="821.8" cy="511.9" r="2.6" fill="#000"/>
<circle cx="828.1" cy="512.3" r="2.6" fill="#000"/>
<circle cx="834.5" cy="512.3" r="2.6" fill="#000"/>
<circle cx="840.9" cy="510.4" r="2.6" fill="#000"/>
<circle cx="348.9" cy="458.6" r="2.6" fill="#b22222"/>
<circle cx="355.3" cy="459.7" r="2.6" fill="#b22222"/>
<circle cx="361.7" cy="462.6" r="2.6" fill="#b22222"/>
<circle cx="368.1" cy="465.7" r="2.6" fill="#b22222"/>
<circle cx="374.5" cy="466.9" r="2.6" fill="#b22222"/>
<circle cx="380.8" cy="451.1" r="2.6" fill="#b22222"/>
<circle cx="387.2" cy="448.6" r="2.6" fill="#b22222"/>
<circle cx="393.6" cy="448.6" r="2.6" fill="#b22222"/>
<circle cx="400.0" cy="448.3" r="2.6" fill="#b22222"/>
<circle cx="406.4" cy="447.3" r="2.6" fill="#b22222"/>
<circle cx="412.8" cy="475.9" r="2.6" fill="#b22222"/>
<circle cx="419.2" cy="476.1" r="2.6" fill="#b22222"/>
<circle cx="425.6" cy="475.0" r="2.6" fill="#b22222"/>
<circle cx="432.0" cy="475.0" r="2.6" fill="#b22222"/>
<circle cx="438.4" cy="449.7" r="2.6" fill="#b22222"/>
<circle cx="444.8" cy="450.9" r="2.6" fill="#b22222"/>
<circle cx="451.1" cy="475.4" r="2.6" fill="#b22222"/>
<circle cx="457.5" cy="451.1" r="2.6" fill="#b22222"/>
<circle cx="463.9" cy="449.7" r="2.6" fill="#b22222"/>
<circle cx="470.3" cy="449.7" r="2.6" fill="#b22222"/>
<circle cx="476.7" cy="451.1" r="2.6" fill="#b22222"/>
<circle cx="483.1" cy="450.9" r="2.6" fill="#b22222"/>
<circle cx="489.5" cy="450.9" r="2.6" fill="#b22222"/>
<circle cx="495.9" cy="475.7" r="2.6" fill="#b22222"/>
<circle cx="502.3" cy="475.9" r="2.6" fill="#b22222"/>
<circle cx="508.6" cy="452.9" r="2.6" fill="#b22222"/>
<circle cx="515.0" cy="451.1" r="2.6" fill="#b22222"/>
<circle cx="521.4" cy="475.4" r="2.6" fill="#b22222"/>
<circle cx="527.8" cy="450.9" r="2.6" fill="#b22222"/>
<circle cx="534.2" cy="451.1" r="2.6" fill="#b22222"/>
<circle cx="540.6" cy="472.6" r="2.6" fill="#b22222"/>
<circle cx="547.0" cy="449.7" r="2.6" fill="#b22222"/>
<circle cx="553.4" cy="449.7" r="2.6" fill="#b22222"/>
<circle cx="559.8" cy="449.7" r="2.6" fill="#b22222"/>
<circle cx="566.2" cy="449.7" r="2.6" fill="#b22222"/>
<circle cx="572.5" cy="449.7" r="2.6" fill="#b22222"/>
<circle cx="578.9" cy="449.7" r="2.6" fill="#b22222"/>
<circle cx="585.3" cy="451.1" r="2.6" fill="#b22222"/>
<circle cx="591.7" cy="451.1" r="2.6" fill="#b22222"/>
<circle cx="598.1" cy="452.3" r="2.6" fill="#b22222"/>
<circle cx="604.5" cy="452.3" r="2.6" fill="#b22222"/>
<circle cx="610.9" cy="452.3" r="2.6" fill="#b22222"/>
<circle cx="617.3" cy="453.7" r="2.6" fill="#b22222"/>
<circle cx="623.7" cy="454.7" r="2.6" fill="#b22222"/>
<circle cx="630.1" cy="465.4" r="2.6" fill="#b22222"/>
<circle cx="636.5" cy="465.7" r="2.6" fill="#b22222"/>
<circle cx="642.8" cy="463.6" r="2.6" fill="#b22222"/>
<circle cx="649.2" cy="462.9" r="2.6" fill="#b22222"/>
<circle cx="655.6" cy="462.6" r="2.6" fill="#b22222"/>
<circle cx="662.0" cy="460.4" r="2.6" fill="#b22222"/>
<circle cx="668.4" cy="461.4" r="2.6" fill="#b22222"/>
<circle cx="674.8" cy="458.3" r="2.6" fill="#b22222"/>
<circle cx="681.2" cy="458.3" r="2.6" fill="#b22222"/>
<circle cx="687.6" cy="460.1" r="2.6" fill="#b22222"/>
<circle cx="694.0" cy="461.4" r="2.6" fill="#b22222"/>
<circle cx="700.3" cy="466.6" r="2.6" fill="#b22222"/>
<circle cx="706.7" cy="476.1" r="2.6" fill="#b22222"/>
<circle cx="713.1" cy="474.7" r="2.6" fill="#b22222"/>
<circle cx="719.5" cy="463.7" r="2.6" fill="#b22222"/>
<circle cx="725.9" cy="468.3" r="2.6" fill="#b22222"/>
<circle cx="732.3" cy="466.6" r="2.6" fill="#b22222"/>
<circle cx="738.7" cy="470.4" r="2.6" fill="#b22222"/>
<circle cx="745.1" cy="471.4" r="2.6" fill="#b22222"/>
<circle cx="751.5" cy="473.3" r="2.6" fill="#b22222"/>
<circle cx="757.9" cy="472.6" r="2.6" fill="#b22222"/>
<circle cx="764.2" cy="471.9" r="2.6" fill="#b22222"/>
<circle cx="770.6" cy="475.4" r="2.6" fill="#b22222"/>
<circle cx="777.0" cy="475.4" r="2.6" fill="#b22222"/>
<circle cx="783.4" cy="500.0" r="2.6" fill="#b22222"/>
<circle cx="789.8" cy="480.4" r="2.6" fill="#b22222"/>
<circle cx="796.2" cy="487.6" r="2.6" fill="#b22222"/>
<circle cx="802.6" cy="488.6" r="2.6" fill="#b22222"/>
<circle cx="809.0" cy="475.4" r="2.6" fill="#b22222"/>
<circle cx="815.4" cy="475.4" r="2.6" fill="#b22222"/>
<circle cx="821.8" cy="475.4" r="2.6" fill="#b22222"/>
<circle cx="828.1" cy="475.4" r="2.6" fill="#b22222"/>
<circle cx="834.5" cy="475.4" r="2.6" fill="#b22222"/>
<circle cx="840.9" cy="475.4" r="2.6" fill="#b22222"/>
<polyline points="349.0,456.9 380.7,456.9 386.4,455.7 393.6,455.7 400.0,475.4 406.4,475.1 412.9,473.7 419.3,474.0 425.7,456.6 431.4,456.1 437.9,474.0 444.7,476.4 451.1,456.6 457.4,456.6 463.9,476.4 470.3,476.4 476.4,460.4 483.1,473.7 489.6,476.1 496.0,471.9 502.6,457.6 508.7,460.4 515.1,460.7 521.4,459.7 527.9,459.0 534.3,457.3 540.0,456.9 547.1,481.9 553.6,480.4 559.9,476.9 566.3,456.6 572.6,481.9 579.0,487.6 585.4,489.0 591.9,479.7 598.1,469.0 601.4,464.7 609.3,456.9 611.0,455.7 617.4,456.6 623.7,456.6 630.1,474.0 636.6,484.3 643.0,488.3 649.3,484.7 655.7,482.6 662.1,480.4 668.6,489.0 674.9,481.1 681.3,480.9 687.7,456.9 694.0,456.4 700.4,460.1 706.9,457.6 713.3,461.9 719.6,455.4 720.0,455.4 726.0,452.3 732.4,451.9 738.7,452.1 745.1,452.3 751.6,454.0 758.0,472.6 764.3,475.4 770.7,458.6 777.1,458.3 783.6,459.4 789.9,467.9 796.3,468.3 802.7,468.3 809.0,477.6 815.4,513.3 821.9,514.0 828.3,514.0 834.6,513.7 841.0,512.3" fill="none" stroke="#ff9800" stroke-width="2" stroke-linejoin="round"/>
</g>
<g clip-path="url(#cp7)">
<rect x="348.5" y="526.5" width="493.0" height="77.0" fill="rgba(25,168,252,0.52)"/>
<polygon points="604.3,549.0 611.8,538.7 618.0,540.5 618.4,547.1 605.3,553.3" fill="#fff"/>
<polygon points="374.9,526.5 394.5,526.5 387.0,545.2" fill="#969696"/>
<polygon points="591.6,532.7 598.7,532.7 604.3,550.8 605.3,553.3 618.4,547.1 624.0,526.5 637.0,526.5 637.0,603.1 591.6,603.1" fill="#969696"/>
<polygon points="348.5,526.5 348.7,526.5 374.9,526.5 387.0,545.2 394.5,526.5 419.7,526.5 425.3,539.6 431.9,528.4 438.4,526.5 445.9,529.3 451.5,528.4 457.1,526.5 470.2,526.5 476.7,543.4 483.2,526.5 496.3,526.5 501.9,533.1 508.5,526.5 514.7,541.5 521.2,532.1 527.7,538.7 534.3,534.0 540.8,539.6 547.4,528.4 553.9,533.1 559.5,530.3 566.0,556.4 572.6,532.1 579.1,536.8 585.7,529.3 592.2,533.1 598.7,551.8 604.3,576.0 610.9,555.5 617.4,563.9 624.0,536.8 630.5,529.3 637.0,526.5 675.0,526.5 679.1,526.5 681.5,526.5 688.1,546.2 693.7,554.6 700.2,538.7 706.8,555.5 713.3,546.2 719.8,568.6 726.4,579.8 732.0,577.9 738.5,579.8 745.1,566.7 751.6,563.0 758.1,569.5 764.7,558.3 771.2,587.3 777.7,595.7 783.4,596.6 789.9,591.9 796.4,587.3 803.0,582.6 809.5,566.7 816.0,547.1 822.6,534.9 828.2,530.3 834.7,531.2 841.3,533.1 841.5,533.1 841.5,603.5 348.5,603.5" fill="#555"/>
<polygon points="348.5,587.3 348.7,587.3 356.2,591.9 374.9,590.1 380.5,584.4 387.0,591.9 393.6,595.7 400.1,591.9 413.2,584.4 419.7,587.3 425.3,602.2 438.4,602.2 451.5,598.5 464.6,591.0 476.7,587.3 483.2,602.2 501.9,602.2 508.5,584.4 515.0,592.9 521.2,587.3 534.3,589.1 540.8,598.5 553.9,602.2 579.1,600.3 585.7,594.7 592.2,600.3 598.7,598.5 610.9,592.9 617.4,593.8 624.0,601.8 630.5,591.9 637.0,591.0 642.6,595.7 649.2,598.5 655.7,598.5 662.3,592.9 668.8,585.4 674.4,579.8 677.8,580.7 680.0,583.5 688.1,596.6 693.7,602.2 779.6,602.2 783.4,598.5 789.9,592.9 796.4,588.2 803.0,582.6 809.5,566.7 816.0,547.1 822.6,534.9 828.2,530.3 834.7,531.2 841.3,533.1 841.5,533.1 841.5,603.5 348.5,603.5" fill="#383838"/>
<polygon points="604.3,549.0 611.8,538.7 618.0,540.5 618.4,547.1 605.3,553.3" fill="#fff"/>
<polyline points="348.7,526.5 356.2,527.1 361.8,530.3 363.7,527.5 374.9,526.5 413.2,526.5 419.7,581.6 425.3,603.5 431.9,528.4 438.4,526.5 445.9,528.4 451.5,527.5 464.6,527.1 470.2,535.9 476.7,599.4 483.2,595.7 489.8,541.5 495.4,537.7 501.9,594.7 508.5,539.6 510.0,538.7 514.7,584.4 521.2,553.6 527.7,577.0 534.3,559.2 540.8,546.2 547.4,542.4 553.9,545.2 559.5,544.3 566.0,565.8 572.6,540.5 579.1,566.7 585.7,533.1 592.2,532.1 598.7,532.1 604.3,551.8 610.9,556.4 617.4,562.0 619.3,546.2 624.0,526.5 662.3,526.5 668.8,530.3 674.4,536.8 675.0,536.8 681.5,566.7 687.1,593.8 693.7,594.7 700.2,597.5 706.8,603.5 713.3,598.5 719.8,591.0 726.4,603.5 738.5,603.5 745.1,600.7 751.6,599.4 758.1,572.3 764.7,592.9 771.2,596.6 777.7,595.7 783.4,603.5 789.9,594.7 796.4,596.6 803.0,600.3 809.5,603.5 816.0,600.3 822.6,598.5 828.2,583.5 834.7,564.8 841.3,547.1" fill="none" stroke="#a0a0a0" stroke-width="1" stroke-linejoin="round"/>
<polyline points="348.7,564.8 356.2,584.4 367.4,603.5 374.9,603.5 387.0,586.3 393.6,585.4 400.1,596.2 406.6,597.0 414.1,601.8 419.7,603.5 431.9,603.5 438.4,588.2 445.9,600.3 451.5,603.5 464.6,596.6 476.7,586.3 483.2,585.4 489.8,594.7 496.3,603.5 501.9,598.5 508.5,591.0 510.0,591.9 515.6,596.6 521.2,603.5 527.7,592.9 534.3,590.6 540.8,603.5 547.4,598.5 553.9,588.2 559.5,571.4 566.0,559.8 572.6,561.5 579.1,571.4 585.7,559.2 592.2,548.0 598.7,549.9 604.3,549.9 610.9,539.6 618.0,542.4 624.0,564.8 630.5,603.5 655.7,603.5 662.3,595.7 668.8,584.4 674.4,566.7 675.0,566.7 681.5,581.6 687.1,594.7 693.7,598.5 700.2,603.5" fill="none" stroke="#fff" stroke-width="1.2" stroke-linejoin="round"/>
<line x1="355.3" y1="601.4" x2="355.3" y2="603.5" stroke="#ffb400" stroke-width="2.6" stroke-linecap="round"/>
<line x1="380.5" y1="601.8" x2="380.5" y2="603.5" stroke="#ffb400" stroke-width="2.6" stroke-linecap="round"/>
<line x1="470.2" y1="601.1" x2="470.2" y2="603.5" stroke="#ffb400" stroke-width="2.6" stroke-linecap="round"/>
<line x1="559.5" y1="601.8" x2="559.5" y2="603.5" stroke="#ffb400" stroke-width="2.6" stroke-linecap="round"/>
<line x1="598.7" y1="601.8" x2="598.7" y2="603.5" stroke="#ffb400" stroke-width="2.6" stroke-linecap="round"/>
<line x1="604.3" y1="600.7" x2="604.3" y2="603.5" stroke="#ffb400" stroke-width="2.6" stroke-linecap="round"/>
<line x1="610.9" y1="595.7" x2="610.9" y2="603.5" stroke="#ffb400" stroke-width="2.6" stroke-linecap="round"/>
<line x1="617.4" y1="592.9" x2="617.4" y2="603.5" stroke="#ffb400" stroke-width="2.6" stroke-linecap="round"/>
<line x1="623.6" y1="594.7" x2="623.6" y2="603.5" stroke="#ffb400" stroke-width="2.6" stroke-linecap="round"/>
<line x1="630.5" y1="595.7" x2="630.5" y2="603.5" stroke="#ffb400" stroke-width="2.6" stroke-linecap="round"/>
<line x1="636.7" y1="597.5" x2="636.7" y2="603.5" stroke="#ffb400" stroke-width="2.6" stroke-linecap="round"/>
<line x1="662.3" y1="601.8" x2="662.3" y2="603.5" stroke="#ffb400" stroke-width="2.6" stroke-linecap="round"/>
<line x1="674.4" y1="595.7" x2="674.4" y2="603.5" stroke="#ffb400" stroke-width="2.6" stroke-linecap="round"/>
<line x1="675.0" y1="595.7" x2="675.0" y2="603.5" stroke="#ffb400" stroke-width="2.6" stroke-linecap="round"/>
<line x1="681.5" y1="597.5" x2="681.5" y2="603.5" stroke="#ffb400" stroke-width="2.6" stroke-linecap="round"/>
<line x1="687.7" y1="597.5" x2="687.7" y2="603.5" stroke="#ffb400" stroke-width="2.6" stroke-linecap="round"/>
<line x1="770.6" y1="591.0" x2="770.6" y2="603.5" stroke="#ffb400" stroke-width="2.6" stroke-linecap="round"/>
<line x1="777.4" y1="594.7" x2="777.4" y2="603.5" stroke="#ffb400" stroke-width="2.6" stroke-linecap="round"/>
<line x1="783.4" y1="590.1" x2="783.4" y2="603.5" stroke="#ffb400" stroke-width="2.6" stroke-linecap="round"/>
<line x1="789.5" y1="575.1" x2="789.5" y2="603.5" stroke="#ffb400" stroke-width="2.6" stroke-linecap="round"/>
<line x1="796.4" y1="575.1" x2="796.4" y2="603.5" stroke="#ffb400" stroke-width="2.6" stroke-linecap="round"/>
<line x1="802.6" y1="570.4" x2="802.6" y2="603.5" stroke="#ffb400" stroke-width="2.6" stroke-linecap="round"/>
<line x1="809.5" y1="553.6" x2="809.5" y2="603.5" stroke="#ffb400" stroke-width="2.6" stroke-linecap="round"/>
<line x1="815.5" y1="534.9" x2="815.5" y2="603.5" stroke="#ffb400" stroke-width="2.6" stroke-linecap="round"/>
<line x1="821.6" y1="529.0" x2="821.6" y2="603.5" stroke="#ffb400" stroke-width="2.6" stroke-linecap="round"/>
<line x1="828.6" y1="527.8" x2="828.6" y2="603.5" stroke="#ffb400" stroke-width="2.6" stroke-linecap="round"/>
<line x1="834.7" y1="530.8" x2="834.7" y2="603.5" stroke="#ffb400" stroke-width="2.6" stroke-linecap="round"/>
<line x1="841.3" y1="541.5" x2="841.3" y2="603.5" stroke="#ffb400" stroke-width="2.6" stroke-linecap="round"/>
</g>
<g stroke="#000" stroke-width="1" stroke-dasharray="2 2" shape-rendering="crispEdges">
<line x1="361.5" y1="57.5" x2="361.5" y2="135.5"/>
<line x1="380.5" y1="57.5" x2="380.5" y2="135.5"/>
<line x1="400.5" y1="57.5" x2="400.5" y2="135.5"/>
<line x1="419.5" y1="57.5" x2="419.5" y2="135.5"/>
<line x1="438.5" y1="57.5" x2="438.5" y2="135.5"/>
<line x1="457.5" y1="57.5" x2="457.5" y2="135.5"/>
<line x1="476.5" y1="57.5" x2="476.5" y2="135.5"/>
<line x1="495.5" y1="57.5" x2="495.5" y2="135.5"/>
<line x1="515.5" y1="57.5" x2="515.5" y2="135.5"/>
<line x1="534.5" y1="57.5" x2="534.5" y2="135.5"/>
<line x1="553.5" y1="57.5" x2="553.5" y2="135.5"/>
<line x1="572.5" y1="57.5" x2="572.5" y2="135.5"/>
<line x1="591.5" y1="57.5" x2="591.5" y2="135.5"/>
<line x1="610.5" y1="57.5" x2="610.5" y2="135.5"/>
<line x1="630.5" y1="57.5" x2="630.5" y2="135.5"/>
<line x1="649.5" y1="57.5" x2="649.5" y2="135.5"/>
<line x1="668.5" y1="57.5" x2="668.5" y2="135.5"/>
<line x1="687.5" y1="57.5" x2="687.5" y2="135.5"/>
<line x1="706.5" y1="57.5" x2="706.5" y2="135.5"/>
<line x1="725.5" y1="57.5" x2="725.5" y2="135.5"/>
<line x1="745.5" y1="57.5" x2="745.5" y2="135.5"/>
<line x1="764.5" y1="57.5" x2="764.5" y2="135.5"/>
<line x1="783.5" y1="57.5" x2="783.5" y2="135.5"/>
<line x1="802.5" y1="57.5" x2="802.5" y2="135.5"/>
<line x1="821.5" y1="57.5" x2="821.5" y2="135.5"/>
<line x1="348.5" y1="74.5" x2="841.5" y2="74.5"/>
<line x1="348.5" y1="99.5" x2="841.5" y2="99.5"/>
<line x1="348.5" y1="123.5" x2="841.5" y2="123.5"/>
<line x1="361.5" y1="143.5" x2="361.5" y2="221.5"/>
<line x1="380.5" y1="143.5" x2="380.5" y2="221.5"/>
<line x1="400.5" y1="143.5" x2="400.5" y2="221.5"/>
<line x1="419.5" y1="143.5" x2="419.5" y2="221.5"/>
<line x1="438.5" y1="143.5" x2="438.5" y2="221.5"/>
<line x1="457.5" y1="143.5" x2="457.5" y2="221.5"/>
<line x1="476.5" y1="143.5" x2="476.5" y2="221.5"/>
<line x1="495.5" y1="143.5" x2="495.5" y2="221.5"/>
<line x1="515.5" y1="143.5" x2="515.5" y2="221.5"/>
<line x1="534.5" y1="143.5" x2="534.5" y2="221.5"/>
<line x1="553.5" y1="143.5" x2="553.5" y2="221.5"/>
<line x1="572.5" y1="143.5" x2="572.5" y2="221.5"/>
<line x1="591.5" y1="143.5" x2="591.5" y2="221.5"/>
<line x1="610.5" y1="143.5" x2="610.5" y2="221.5"/>
<line x1="630.5" y1="143.5" x2="630.5" y2="221.5"/>
<line x1="649.5" y1="143.5" x2="649.5" y2="221.5"/>
<line x1="668.5" y1="143.5" x2="668.5" y2="221.5"/>
<line x1="687.5" y1="143.5" x2="687.5" y2="221.5"/>
<line x1="706.5" y1="143.5" x2="706.5" y2="221.5"/>
<line x1="725.5" y1="143.5" x2="725.5" y2="221.5"/>
<line x1="745.5" y1="143.5" x2="745.5" y2="221.5"/>
<line x1="764.5" y1="143.5" x2="764.5" y2="221.5"/>
<line x1="783.5" y1="143.5" x2="783.5" y2="221.5"/>
<line x1="802.5" y1="143.5" x2="802.5" y2="221.5"/>
<line x1="821.5" y1="143.5" x2="821.5" y2="221.5"/>
<line x1="348.5" y1="146.5" x2="841.5" y2="146.5"/>
<line x1="348.5" y1="161.5" x2="841.5" y2="161.5"/>
<line x1="348.5" y1="176.5" x2="841.5" y2="176.5"/>
<line x1="348.5" y1="191.5" x2="841.5" y2="191.5"/>
<line x1="348.5" y1="206.5" x2="841.5" y2="206.5"/>
<line x1="361.5" y1="230.5" x2="361.5" y2="308.5"/>
<line x1="380.5" y1="230.5" x2="380.5" y2="308.5"/>
<line x1="400.5" y1="230.5" x2="400.5" y2="308.5"/>
<line x1="419.5" y1="230.5" x2="419.5" y2="308.5"/>
<line x1="438.5" y1="230.5" x2="438.5" y2="308.5"/>
<line x1="457.5" y1="230.5" x2="457.5" y2="308.5"/>
<line x1="476.5" y1="230.5" x2="476.5" y2="308.5"/>
<line x1="495.5" y1="230.5" x2="495.5" y2="308.5"/>
<line x1="515.5" y1="230.5" x2="515.5" y2="308.5"/>
<line x1="534.5" y1="230.5" x2="534.5" y2="308.5"/>
<line x1="553.5" y1="230.5" x2="553.5" y2="308.5"/>
<line x1="572.5" y1="230.5" x2="572.5" y2="308.5"/>
<line x1="591.5" y1="230.5" x2="591.5" y2="308.5"/>
<line x1="610.5" y1="230.5" x2="610.5" y2="308.5"/>
<line x1="630.5" y1="230.5" x2="630.5" y2="308.5"/>
<line x1="649.5" y1="230.5" x2="649.5" y2="308.5"/>
<line x1="668.5" y1="230.5" x2="668.5" y2="308.5"/>
<line x1="687.5" y1="230.5" x2="687.5" y2="308.5"/>
<line x1="706.5" y1="230.5" x2="706.5" y2="308.5"/>
<line x1="725.5" y1="230.5" x2="725.5" y2="308.5"/>
<line x1="745.5" y1="230.5" x2="745.5" y2="308.5"/>
<line x1="764.5" y1="230.5" x2="764.5" y2="308.5"/>
<line x1="783.5" y1="230.5" x2="783.5" y2="308.5"/>
<line x1="802.5" y1="230.5" x2="802.5" y2="308.5"/>
<line x1="821.5" y1="230.5" x2="821.5" y2="308.5"/>
<line x1="348.5" y1="242.5" x2="841.5" y2="242.5"/>
<line x1="348.5" y1="263.5" x2="841.5" y2="263.5"/>
<line x1="348.5" y1="284.5" x2="841.5" y2="284.5"/>
<line x1="348.5" y1="304.5" x2="841.5" y2="304.5"/>
<line x1="361.5" y1="317.5" x2="361.5" y2="395.5"/>
<line x1="380.5" y1="317.5" x2="380.5" y2="395.5"/>
<line x1="400.5" y1="317.5" x2="400.5" y2="395.5"/>
<line x1="419.5" y1="317.5" x2="419.5" y2="395.5"/>
<line x1="438.5" y1="317.5" x2="438.5" y2="395.5"/>
<line x1="457.5" y1="317.5" x2="457.5" y2="395.5"/>
<line x1="476.5" y1="317.5" x2="476.5" y2="395.5"/>
<line x1="495.5" y1="317.5" x2="495.5" y2="395.5"/>
<line x1="515.5" y1="317.5" x2="515.5" y2="395.5"/>
<line x1="534.5" y1="317.5" x2="534.5" y2="395.5"/>
<line x1="553.5" y1="317.5" x2="553.5" y2="395.5"/>
<line x1="572.5" y1="317.5" x2="572.5" y2="395.5"/>
<line x1="591.5" y1="317.5" x2="591.5" y2="395.5"/>
<line x1="610.5" y1="317.5" x2="610.5" y2="395.5"/>
<line x1="630.5" y1="317.5" x2="630.5" y2="395.5"/>
<line x1="649.5" y1="317.5" x2="649.5" y2="395.5"/>
<line x1="668.5" y1="317.5" x2="668.5" y2="395.5"/>
<line x1="687.5" y1="317.5" x2="687.5" y2="395.5"/>
<line x1="706.5" y1="317.5" x2="706.5" y2="395.5"/>
<line x1="725.5" y1="317.5" x2="725.5" y2="395.5"/>
<line x1="745.5" y1="317.5" x2="745.5" y2="395.5"/>
<line x1="764.5" y1="317.5" x2="764.5" y2="395.5"/>
<line x1="783.5" y1="317.5" x2="783.5" y2="395.5"/>
<line x1="802.5" y1="317.5" x2="802.5" y2="395.5"/>
<line x1="821.5" y1="317.5" x2="821.5" y2="395.5"/>
<line x1="348.5" y1="318.5" x2="841.5" y2="318.5"/>
<line x1="348.5" y1="344.5" x2="841.5" y2="344.5"/>
<line x1="348.5" y1="369.5" x2="841.5" y2="369.5"/>
<line x1="361.5" y1="401.5" x2="361.5" y2="432.5"/>
<line x1="380.5" y1="401.5" x2="380.5" y2="432.5"/>
<line x1="400.5" y1="401.5" x2="400.5" y2="432.5"/>
<line x1="419.5" y1="401.5" x2="419.5" y2="432.5"/>
<line x1="438.5" y1="401.5" x2="438.5" y2="432.5"/>
<line x1="457.5" y1="401.5" x2="457.5" y2="432.5"/>
<line x1="476.5" y1="401.5" x2="476.5" y2="432.5"/>
<line x1="495.5" y1="401.5" x2="495.5" y2="432.5"/>
<line x1="515.5" y1="401.5" x2="515.5" y2="432.5"/>
<line x1="534.5" y1="401.5" x2="534.5" y2="432.5"/>
<line x1="553.5" y1="401.5" x2="553.5" y2="432.5"/>
<line x1="572.5" y1="401.5" x2="572.5" y2="432.5"/>
<line x1="591.5" y1="401.5" x2="591.5" y2="432.5"/>
<line x1="610.5" y1="401.5" x2="610.5" y2="432.5"/>
<line x1="630.5" y1="401.5" x2="630.5" y2="432.5"/>
<line x1="649.5" y1="401.5" x2="649.5" y2="432.5"/>
<line x1="668.5" y1="401.5" x2="668.5" y2="432.5"/>
<line x1="687.5" y1="401.5" x2="687.5" y2="432.5"/>
<line x1="706.5" y1="401.5" x2="706.5" y2="432.5"/>
<line x1="725.5" y1="401.5" x2="725.5" y2="432.5"/>
<line x1="745.5" y1="401.5" x2="745.5" y2="432.5"/>
<line x1="764.5" y1="401.5" x2="764.5" y2="432.5"/>
<line x1="783.5" y1="401.5" x2="783.5" y2="432.5"/>
<line x1="802.5" y1="401.5" x2="802.5" y2="432.5"/>
<line x1="821.5" y1="401.5" x2="821.5" y2="432.5"/>
<line x1="361.5" y1="438.5" x2="361.5" y2="515.5"/>
<line x1="380.5" y1="438.5" x2="380.5" y2="515.5"/>
<line x1="400.5" y1="438.5" x2="400.5" y2="515.5"/>
<line x1="419.5" y1="438.5" x2="419.5" y2="515.5"/>
<line x1="438.5" y1="438.5" x2="438.5" y2="515.5"/>
<line x1="457.5" y1="438.5" x2="457.5" y2="515.5"/>
<line x1="476.5" y1="438.5" x2="476.5" y2="515.5"/>
<line x1="495.5" y1="438.5" x2="495.5" y2="515.5"/>
<line x1="515.5" y1="438.5" x2="515.5" y2="515.5"/>
<line x1="534.5" y1="438.5" x2="534.5" y2="515.5"/>
<line x1="553.5" y1="438.5" x2="553.5" y2="515.5"/>
<line x1="572.5" y1="438.5" x2="572.5" y2="515.5"/>
<line x1="591.5" y1="438.5" x2="591.5" y2="515.5"/>
<line x1="610.5" y1="438.5" x2="610.5" y2="515.5"/>
<line x1="630.5" y1="438.5" x2="630.5" y2="515.5"/>
<line x1="649.5" y1="438.5" x2="649.5" y2="515.5"/>
<line x1="668.5" y1="438.5" x2="668.5" y2="515.5"/>
<line x1="687.5" y1="438.5" x2="687.5" y2="515.5"/>
<line x1="706.5" y1="438.5" x2="706.5" y2="515.5"/>
<line x1="725.5" y1="438.5" x2="725.5" y2="515.5"/>
<line x1="745.5" y1="438.5" x2="745.5" y2="515.5"/>
<line x1="764.5" y1="438.5" x2="764.5" y2="515.5"/>
<line x1="783.5" y1="438.5" x2="783.5" y2="515.5"/>
<line x1="802.5" y1="438.5" x2="802.5" y2="515.5"/>
<line x1="821.5" y1="438.5" x2="821.5" y2="515.5"/>
<line x1="348.5" y1="439.5" x2="841.5" y2="439.5"/>
<line x1="348.5" y1="457.5" x2="841.5" y2="457.5"/>
<line x1="348.5" y1="477.5" x2="841.5" y2="477.5"/>
<line x1="348.5" y1="496.5" x2="841.5" y2="496.5"/>
<line x1="361.5" y1="526.5" x2="361.5" y2="603.5"/>
<line x1="380.5" y1="526.5" x2="380.5" y2="603.5"/>
<line x1="400.5" y1="526.5" x2="400.5" y2="603.5"/>
<line x1="419.5" y1="526.5" x2="419.5" y2="603.5"/>
<line x1="438.5" y1="526.5" x2="438.5" y2="603.5"/>
<line x1="457.5" y1="526.5" x2="457.5" y2="603.5"/>
<line x1="476.5" y1="526.5" x2="476.5" y2="603.5"/>
<line x1="495.5" y1="526.5" x2="495.5" y2="603.5"/>
<line x1="515.5" y1="526.5" x2="515.5" y2="603.5"/>
<line x1="534.5" y1="526.5" x2="534.5" y2="603.5"/>
<line x1="553.5" y1="526.5" x2="553.5" y2="603.5"/>
<line x1="572.5" y1="526.5" x2="572.5" y2="603.5"/>
<line x1="591.5" y1="526.5" x2="591.5" y2="603.5"/>
<line x1="610.5" y1="526.5" x2="610.5" y2="603.5"/>
<line x1="630.5" y1="526.5" x2="630.5" y2="603.5"/>
<line x1="649.5" y1="526.5" x2="649.5" y2="603.5"/>
<line x1="668.5" y1="526.5" x2="668.5" y2="603.5"/>
<line x1="687.5" y1="526.5" x2="687.5" y2="603.5"/>
<line x1="706.5" y1="526.5" x2="706.5" y2="603.5"/>
<line x1="725.5" y1="526.5" x2="725.5" y2="603.5"/>
<line x1="745.5" y1="526.5" x2="745.5" y2="603.5"/>
<line x1="764.5" y1="526.5" x2="764.5" y2="603.5"/>
<line x1="783.5" y1="526.5" x2="783.5" y2="603.5"/>
<line x1="802.5" y1="526.5" x2="802.5" y2="603.5"/>
<line x1="821.5" y1="526.5" x2="821.5" y2="603.5"/>
<line x1="348.5" y1="545.5" x2="841.5" y2="545.5"/>
<line x1="348.5" y1="564.5" x2="841.5" y2="564.5"/>
<line x1="348.5" y1="584.5" x2="841.5" y2="584.5"/>
</g>
<line x1="348.5" y1="221.2" x2="841.5" y2="221.2" stroke="#007800" stroke-width="1" stroke-dasharray="2 2"/>
<line x1="348.5" y1="604.5" x2="841.5" y2="604.5" stroke="#9cd4f5" stroke-width="1" shape-rendering="crispEdges"/>
<g stroke="#000" stroke-width="1" shape-rendering="crispEdges" fill="none">
<line x1="348.0" y1="57.5" x2="842.0" y2="57.5"/><line x1="348.0" y1="58.3" x2="842.0" y2="58.3" stroke-opacity="0.45"/>
<line x1="348.0" y1="135.5" x2="842.0" y2="135.5"/>
<line x1="841.5" y1="57.5" x2="841.5" y2="135.5"/>
<line x1="348.5" y1="57.5" x2="348.5" y2="135.5" stroke-opacity="0.5"/>
<line x1="348.5" y1="57.5" x2="348.5" y2="135.5" stroke-dasharray="2 2"/>
</g>
<g stroke="#000" stroke-width="1" shape-rendering="crispEdges" fill="none">
<line x1="348.0" y1="143.5" x2="842.0" y2="143.5"/><line x1="348.0" y1="144.3" x2="842.0" y2="144.3" stroke-opacity="0.45"/>
<line x1="348.0" y1="221.5" x2="842.0" y2="221.5"/>
<line x1="841.5" y1="143.5" x2="841.5" y2="221.5"/>
<line x1="348.5" y1="143.5" x2="348.5" y2="221.5" stroke-opacity="0.5"/>
<line x1="348.5" y1="143.5" x2="348.5" y2="221.5" stroke-dasharray="2 2"/>
</g>
<g stroke="#000" stroke-width="1" shape-rendering="crispEdges" fill="none">
<line x1="348.0" y1="230.5" x2="842.0" y2="230.5"/><line x1="348.0" y1="231.3" x2="842.0" y2="231.3" stroke-opacity="0.45"/>
<line x1="348.0" y1="308.5" x2="842.0" y2="308.5"/>
<line x1="841.5" y1="230.5" x2="841.5" y2="308.5"/>
<line x1="348.5" y1="230.5" x2="348.5" y2="308.5" stroke-opacity="0.5"/>
<line x1="348.5" y1="230.5" x2="348.5" y2="308.5" stroke-dasharray="2 2"/>
</g>
<g stroke="#000" stroke-width="1" shape-rendering="crispEdges" fill="none">
<line x1="348.0" y1="317.5" x2="842.0" y2="317.5"/><line x1="348.0" y1="318.3" x2="842.0" y2="318.3" stroke-opacity="0.45"/>
<line x1="348.0" y1="395.5" x2="842.0" y2="395.5"/>
<line x1="841.5" y1="317.5" x2="841.5" y2="395.5"/>
<line x1="348.5" y1="317.5" x2="348.5" y2="395.5" stroke-opacity="0.5"/>
<line x1="348.5" y1="317.5" x2="348.5" y2="395.5" stroke-dasharray="2 2"/>
</g>
<g stroke="#333" stroke-width="1" shape-rendering="crispEdges" fill="none">
<line x1="348.0" y1="401.5" x2="842.0" y2="401.5"/><line x1="348.0" y1="402.3" x2="842.0" y2="402.3" stroke-opacity="0.45"/>
<line x1="348.0" y1="432.5" x2="842.0" y2="432.5"/>
<line x1="841.5" y1="401.5" x2="841.5" y2="432.5"/>
<line x1="348.5" y1="401.5" x2="348.5" y2="432.5" stroke-opacity="0.5"/>
</g>
<g stroke="#000" stroke-width="1" shape-rendering="crispEdges" fill="none">
<line x1="348.0" y1="438.5" x2="842.0" y2="438.5"/><line x1="348.0" y1="439.3" x2="842.0" y2="439.3" stroke-opacity="0.45"/>
<line x1="348.0" y1="515.5" x2="842.0" y2="515.5"/>
<line x1="841.5" y1="438.5" x2="841.5" y2="515.5"/>
<line x1="348.5" y1="438.5" x2="348.5" y2="515.5" stroke-opacity="0.5"/>
<line x1="348.5" y1="438.5" x2="348.5" y2="515.5" stroke-dasharray="2 2"/>
</g>
<g stroke="#000" stroke-width="1" shape-rendering="crispEdges" fill="none">
<line x1="348.0" y1="526.5" x2="842.0" y2="526.5"/><line x1="348.0" y1="527.3" x2="842.0" y2="527.3" stroke-opacity="0.45"/>
<line x1="348.0" y1="603.5" x2="842.0" y2="603.5"/>
<line x1="841.5" y1="526.5" x2="841.5" y2="603.5"/>
<line x1="348.5" y1="526.5" x2="348.5" y2="603.5" stroke-opacity="0.5"/>
<line x1="348.5" y1="526.5" x2="348.5" y2="603.5" stroke-dasharray="2 2"/>
</g>
<rect x="420.7" y="220.3" width="3" height="2" fill="#e00000"/>
<rect x="427.0" y="220.3" width="3" height="2" fill="#e00000"/>
<rect x="542.1" y="220.3" width="3" height="2" fill="#e00000"/>
<rect x="548.7" y="220.3" width="3" height="2" fill="#e00000"/>
<rect x="555.2" y="220.3" width="3" height="2" fill="#e00000"/>
<rect x="561.4" y="220.3" width="3" height="2" fill="#e00000"/>
<rect x="567.9" y="220.3" width="3" height="2" fill="#e00000"/>
<rect x="573.9" y="220.3" width="3" height="2" fill="#e00000"/>
<rect x="580.4" y="220.3" width="3" height="2" fill="#e00000"/>
<rect x="587.0" y="220.3" width="3" height="2" fill="#e00000"/>
<rect x="593.5" y="220.3" width="3" height="2" fill="#e00000"/>
<rect x="625.3" y="220.3" width="3" height="2" fill="#e00000"/>
<rect x="631.4" y="220.3" width="3" height="2" fill="#e00000"/>
<rect x="637.8" y="220.3" width="3" height="2" fill="#e00000"/>
<rect x="644.3" y="220.3" width="3" height="2" fill="#e00000"/>
<rect x="650.9" y="220.3" width="3" height="2" fill="#e00000"/>
<rect x="657.4" y="220.3" width="3" height="2" fill="#e00000"/>
<rect x="663.6" y="220.3" width="3" height="2" fill="#e00000"/>
<rect x="670.1" y="220.3" width="3" height="2" fill="#e00000"/>
<rect x="682.8" y="220.3" width="3" height="2" fill="#e00000"/>
<rect x="689.4" y="220.3" width="3" height="2" fill="#e00000"/>
<rect x="695.9" y="220.3" width="3" height="2" fill="#e00000"/>
<rect x="702.1" y="220.3" width="3" height="2" fill="#e00000"/>
<rect x="708.6" y="220.3" width="3" height="2" fill="#e00000"/>
<rect x="715.0" y="220.3" width="3" height="2" fill="#e00000"/>
<rect x="721.5" y="220.3" width="3" height="2" fill="#e00000"/>
<rect x="727.7" y="220.3" width="3" height="2" fill="#e00000"/>
<rect x="734.2" y="220.3" width="3" height="2" fill="#e00000"/>
<rect x="746.9" y="220.3" width="3" height="2" fill="#e00000"/>
<rect x="759.4" y="220.3" width="3" height="2" fill="#e00000"/>
<g stroke="#0000a0" fill="#0000a0" stroke-width="1.1">
<line x1="342.5" y1="419.1" x2="353.4" y2="415.5"/>
<polygon stroke="none" points="355.3,414.9 351.7,418.7 350.2,414.0"/>
<line x1="348.9" y1="419.1" x2="359.8" y2="415.5"/>
<polygon stroke="none" points="361.7,414.9 358.1,418.7 356.6,414.0"/>
<line x1="355.3" y1="419.1" x2="366.2" y2="415.5"/>
<polygon stroke="none" points="368.1,414.9 364.5,418.7 363.0,414.0"/>
<line x1="361.7" y1="419.1" x2="372.6" y2="415.5"/>
<polygon stroke="none" points="374.5,414.9 370.9,418.7 369.3,414.0"/>
<line x1="368.5" y1="420.2" x2="378.7" y2="414.8"/>
<polygon stroke="none" points="380.4,413.8 377.5,418.2 375.2,413.8"/>
<line x1="375.1" y1="420.5" x2="384.9" y2="414.5"/>
<polygon stroke="none" points="386.6,413.5 384.0,418.0 381.4,413.7"/>
<line x1="381.7" y1="420.9" x2="391.1" y2="414.3"/>
<polygon stroke="none" points="392.8,413.1 390.4,417.8 387.6,413.7"/>
<line x1="388.3" y1="421.2" x2="397.3" y2="414.0"/>
<polygon stroke="none" points="398.9,412.8 396.9,417.6 393.8,413.7"/>
<line x1="395.0" y1="421.5" x2="403.5" y2="413.8"/>
<polygon stroke="none" points="405.0,412.5 403.3,417.4 399.9,413.7"/>
<line x1="401.6" y1="421.8" x2="409.8" y2="413.6"/>
<polygon stroke="none" points="411.2,412.2 409.7,417.2 406.2,413.7"/>
<line x1="408.0" y1="421.8" x2="416.2" y2="413.6"/>
<polygon stroke="none" points="417.6,412.2 416.1,417.2 412.6,413.7"/>
<line x1="414.4" y1="421.8" x2="422.5" y2="413.6"/>
<polygon stroke="none" points="424.0,412.2 422.5,417.2 418.9,413.7"/>
<line x1="420.8" y1="421.8" x2="428.9" y2="413.6"/>
<polygon stroke="none" points="430.4,412.2 428.9,417.2 425.3,413.7"/>
<line x1="427.2" y1="421.8" x2="435.3" y2="413.6"/>
<polygon stroke="none" points="436.7,412.2 435.3,417.2 431.7,413.7"/>
<line x1="433.6" y1="421.8" x2="441.7" y2="413.6"/>
<polygon stroke="none" points="443.1,412.2 441.6,417.2 438.1,413.7"/>
<line x1="439.6" y1="421.3" x2="448.4" y2="413.9"/>
<polygon stroke="none" points="449.9,412.7 448.0,417.5 444.8,413.7"/>
<line x1="445.6" y1="420.9" x2="455.0" y2="414.3"/>
<polygon stroke="none" points="456.7,413.1 454.3,417.8 451.5,413.7"/>
<line x1="451.7" y1="420.4" x2="461.6" y2="414.6"/>
<polygon stroke="none" points="463.4,413.6 460.6,418.1 458.1,413.8"/>
<line x1="457.8" y1="419.9" x2="468.2" y2="415.0"/>
<polygon stroke="none" points="470.0,414.1 466.9,418.4 464.8,413.8"/>
<line x1="463.7" y1="418.2" x2="475.0" y2="416.2"/>
<polygon stroke="none" points="477.0,415.8 472.9,419.1 472.0,414.2"/>
<line x1="470.0" y1="418.0" x2="481.4" y2="416.3"/>
<polygon stroke="none" points="483.4,416.0 479.2,419.2 478.5,414.2"/>
<line x1="476.4" y1="417.8" x2="487.8" y2="416.4"/>
<polygon stroke="none" points="489.8,416.2 485.5,419.2 484.9,414.3"/>
<line x1="482.8" y1="417.6" x2="494.2" y2="416.6"/>
<polygon stroke="none" points="496.2,416.4 491.8,419.3 491.4,414.3"/>
<line x1="489.2" y1="418.2" x2="500.5" y2="416.2"/>
<polygon stroke="none" points="502.5,415.8 498.4,419.1 497.6,414.2"/>
<line x1="495.7" y1="418.7" x2="506.8" y2="415.8"/>
<polygon stroke="none" points="508.8,415.3 505.0,418.9 503.7,414.0"/>
<line x1="502.3" y1="419.3" x2="513.1" y2="415.4"/>
<polygon stroke="none" points="515.0,414.7 511.5,418.6 509.8,413.9"/>
<line x1="509.3" y1="420.6" x2="519.1" y2="414.5"/>
<polygon stroke="none" points="520.8,413.4 518.2,418.0 515.5,413.7"/>
<line x1="515.9" y1="420.9" x2="525.3" y2="414.3"/>
<polygon stroke="none" points="526.9,413.1 524.6,417.8 521.7,413.7"/>
<line x1="522.5" y1="421.2" x2="531.5" y2="414.0"/>
<polygon stroke="none" points="533.1,412.8 531.1,417.6 527.9,413.7"/>
<line x1="529.2" y1="421.5" x2="537.8" y2="413.8"/>
<polygon stroke="none" points="539.2,412.5 537.5,417.4 534.1,413.7"/>
<line x1="535.8" y1="421.8" x2="544.0" y2="413.6"/>
<polygon stroke="none" points="545.4,412.2 543.9,417.2 540.4,413.7"/>
<line x1="541.7" y1="421.2" x2="550.7" y2="414.1"/>
<polygon stroke="none" points="552.3,412.8 550.2,417.6 547.1,413.7"/>
<line x1="547.5" y1="420.4" x2="557.5" y2="414.6"/>
<polygon stroke="none" points="559.2,413.6 556.5,418.1 554.0,413.8"/>
<line x1="553.1" y1="418.2" x2="564.4" y2="416.2"/>
<polygon stroke="none" points="566.4,415.8 562.3,419.1 561.5,414.2"/>
<line x1="559.4" y1="417.0" x2="570.9" y2="417.0"/>
<polygon stroke="none" points="572.9,417.0 568.3,419.5 568.3,414.5"/>
<line x1="565.9" y1="415.8" x2="577.2" y2="417.8"/>
<polygon stroke="none" points="579.2,418.2 574.2,419.8 575.1,414.9"/>
<line x1="572.5" y1="414.9" x2="583.5" y2="418.5"/>
<polygon stroke="none" points="585.4,419.1 580.2,420.0 581.8,415.3"/>
<line x1="579.2" y1="414.1" x2="589.6" y2="419.0"/>
<polygon stroke="none" points="591.4,419.9 586.2,420.2 588.3,415.6"/>
<line x1="588.3" y1="411.2" x2="594.1" y2="421.1"/>
<polygon stroke="none" points="595.1,422.8 590.6,420.1 595.0,417.6"/>
<line x1="594.7" y1="411.2" x2="600.5" y2="421.1"/>
<polygon stroke="none" points="601.5,422.8 597.0,420.1 601.4,417.6"/>
<line x1="601.1" y1="411.2" x2="606.9" y2="421.1"/>
<polygon stroke="none" points="607.9,422.8 603.4,420.1 607.7,417.6"/>
<line x1="607.5" y1="411.2" x2="613.3" y2="421.1"/>
<polygon stroke="none" points="614.3,422.8 609.8,420.1 614.1,417.6"/>
<line x1="613.9" y1="411.2" x2="619.7" y2="421.1"/>
<polygon stroke="none" points="620.7,422.8 616.2,420.1 620.5,417.6"/>
<line x1="620.3" y1="411.2" x2="626.0" y2="421.1"/>
<polygon stroke="none" points="627.0,422.8 622.6,420.1 626.9,417.6"/>
<line x1="626.7" y1="411.2" x2="632.4" y2="421.1"/>
<polygon stroke="none" points="633.4,422.8 629.0,420.1 633.3,417.6"/>
<line x1="633.1" y1="411.2" x2="638.8" y2="421.1"/>
<polygon stroke="none" points="639.8,422.8 635.4,420.1 639.7,417.6"/>
<line x1="643.4" y1="410.3" x2="642.4" y2="421.7"/>
<polygon stroke="none" points="642.3,423.7 640.2,418.9 645.1,419.4"/>
<line x1="644.6" y1="412.1" x2="652.5" y2="420.5"/>
<polygon stroke="none" points="653.8,421.9 648.9,420.3 652.5,416.9"/>
<line x1="650.1" y1="413.1" x2="659.5" y2="419.7"/>
<polygon stroke="none" points="661.1,420.9 655.9,420.3 658.8,416.2"/>
<line x1="656.3" y1="413.3" x2="666.0" y2="419.6"/>
<polygon stroke="none" points="667.7,420.7 662.5,420.3 665.2,416.1"/>
<line x1="664.1" y1="411.8" x2="671.5" y2="420.6"/>
<polygon stroke="none" points="672.7,422.2 667.9,420.3 671.7,417.0"/>
<line x1="671.4" y1="411.2" x2="677.2" y2="421.1"/>
<polygon stroke="none" points="678.2,422.8 673.7,420.1 678.0,417.6"/>
<line x1="678.9" y1="410.7" x2="682.8" y2="421.5"/>
<polygon stroke="none" points="683.5,423.3 679.6,419.9 684.3,418.2"/>
<line x1="686.4" y1="410.4" x2="688.4" y2="421.7"/>
<polygon stroke="none" points="688.7,423.6 685.5,419.6 690.4,418.7"/>
<line x1="694.0" y1="410.2" x2="694.0" y2="421.8"/>
<polygon stroke="none" points="694.0,423.8 691.5,419.1 696.5,419.1"/>
<line x1="700.3" y1="410.2" x2="700.3" y2="421.8"/>
<polygon stroke="none" points="700.3,423.8 697.8,419.1 702.8,419.1"/>
<line x1="706.7" y1="410.2" x2="706.7" y2="421.8"/>
<polygon stroke="none" points="706.7,423.8 704.2,419.1 709.2,419.1"/>
<line x1="713.1" y1="410.2" x2="713.1" y2="421.8"/>
<polygon stroke="none" points="713.1,423.8 710.6,419.1 715.6,419.1"/>
<line x1="719.5" y1="410.2" x2="719.5" y2="421.8"/>
<polygon stroke="none" points="719.5,423.8 717.0,419.1 722.0,419.1"/>
<line x1="725.4" y1="410.3" x2="726.2" y2="421.7"/>
<polygon stroke="none" points="726.4,423.7 723.6,419.3 728.6,419.0"/>
<line x1="731.5" y1="410.3" x2="732.9" y2="421.7"/>
<polygon stroke="none" points="733.1,423.7 730.1,419.4 735.0,418.8"/>
<line x1="737.3" y1="410.4" x2="739.7" y2="421.6"/>
<polygon stroke="none" points="740.1,423.6 736.7,419.6 741.6,418.6"/>
<line x1="742.2" y1="410.9" x2="747.1" y2="421.3"/>
<polygon stroke="none" points="747.9,423.1 743.7,420.0 748.3,417.9"/>
<line x1="747.1" y1="411.8" x2="754.5" y2="420.6"/>
<polygon stroke="none" points="755.8,422.2 750.9,420.3 754.8,417.0"/>
<line x1="752.7" y1="412.7" x2="761.5" y2="420.1"/>
<polygon stroke="none" points="763.0,421.3 757.9,420.3 761.1,416.5"/>
<line x1="765.4" y1="410.4" x2="763.4" y2="421.7"/>
<polygon stroke="none" points="763.1,423.6 761.4,418.7 766.3,419.6"/>
<line x1="765.5" y1="412.7" x2="774.3" y2="420.1"/>
<polygon stroke="none" points="775.8,421.3 770.7,420.3 773.9,416.5"/>
<line x1="772.3" y1="412.2" x2="780.4" y2="420.4"/>
<polygon stroke="none" points="781.8,421.8 776.8,420.3 780.3,416.8"/>
<line x1="779.1" y1="411.8" x2="786.5" y2="420.6"/>
<polygon stroke="none" points="787.8,422.2 782.9,420.3 786.7,417.0"/>
<line x1="785.2" y1="412.1" x2="793.0" y2="420.5"/>
<polygon stroke="none" points="794.4,421.9 789.4,420.3 793.1,416.9"/>
<line x1="791.2" y1="412.5" x2="799.7" y2="420.2"/>
<polygon stroke="none" points="801.2,421.5 796.1,420.3 799.5,416.6"/>
<line x1="797.1" y1="413.1" x2="806.5" y2="419.7"/>
<polygon stroke="none" points="808.1,420.9 802.9,420.3 805.8,416.2"/>
<line x1="803.3" y1="413.3" x2="813.0" y2="419.6"/>
<polygon stroke="none" points="814.6,420.7 809.4,420.3 812.1,416.1"/>
<line x1="810.2" y1="412.7" x2="819.0" y2="420.1"/>
<polygon stroke="none" points="820.5,421.3 815.4,420.3 818.6,416.5"/>
<line x1="821.8" y1="410.2" x2="821.8" y2="421.8"/>
<polygon stroke="none" points="821.8,423.8 819.3,419.1 824.3,419.1"/>
<line x1="828.1" y1="410.2" x2="828.1" y2="421.8"/>
<polygon stroke="none" points="828.1,423.8 825.6,419.1 830.6,419.1"/>
<line x1="829.0" y1="419.3" x2="844.5" y2="415.2"/>
<polygon stroke="none" points="846.4,414.7 842.6,418.3 841.3,413.4"/>
</g>
<text x="363.5" y="12.8" fill="#000090" font-size="12" text-anchor="middle" textLength="155" lengthAdjust="spacingAndGlyphs">wschód słońca: 07:03 CEST</text>
<text x="363.3" y="25.8" fill="#000090" font-size="12" text-anchor="middle" textLength="151" lengthAdjust="spacingAndGlyphs">zachód słońca: 17:33 CEST</text>
<text x="595.4" y="12.8" fill="#000090" font-size="12" text-anchor="middle" textLength="128" lengthAdjust="spacingAndGlyphs">21°40'27"E, 54°10'38"N</text>
<text x="595.3" y="25.8" fill="#000090" font-size="12" text-anchor="middle" textLength="83" lengthAdjust="spacingAndGlyphs" xml:space="preserve">(x=260,  y=350)</text>
<text x="818.2" y="12.8" fill="#000090" font-size="12" text-anchor="middle" textLength="158" lengthAdjust="spacingAndGlyphs">wysokość (min, środek, max)</text>
<text x="818" y="25.8" fill="#000090" font-size="12" text-anchor="middle" textLength="88" lengthAdjust="spacingAndGlyphs">75 - 128 - 153 m</text>
<text x="419.2" y="41.6" fill="#000" font-size="12" text-anchor="middle" textLength="61.5" lengthAdjust="spacingAndGlyphs">czw, 16.10</text>
<text x="419.2" y="629.6" fill="#000" font-size="12" text-anchor="middle" textLength="32" lengthAdjust="spacingAndGlyphs">16.10</text>
<text x="572.5" y="41.6" fill="#000" font-size="12" text-anchor="middle" textLength="56" lengthAdjust="spacingAndGlyphs">pią, 17.10</text>
<text x="572.5" y="629.6" fill="#000" font-size="12" text-anchor="middle" textLength="32" lengthAdjust="spacingAndGlyphs">17.10</text>
<text x="725.9" y="41.6" fill="#000" font-size="12" text-anchor="middle" textLength="59.5" lengthAdjust="spacingAndGlyphs">sob, 18.10</text>
<text x="725.9" y="629.6" fill="#000" font-size="12" text-anchor="middle" textLength="32" lengthAdjust="spacingAndGlyphs">18.10</text>
<text x="361.7" y="54.8" fill="#000" font-size="13.3" text-anchor="middle" textLength="13.6" lengthAdjust="spacingAndGlyphs">05</text>
<text x="361.7" y="616.6" fill="#000" font-size="13" text-anchor="middle" textLength="13.6" lengthAdjust="spacingAndGlyphs">03</text>
<text x="400.0" y="54.8" fill="#000" font-size="13.3" text-anchor="middle" textLength="13.6" lengthAdjust="spacingAndGlyphs">11</text>
<text x="400.0" y="616.6" fill="#000" font-size="13" text-anchor="middle" textLength="13.6" lengthAdjust="spacingAndGlyphs">09</text>
<text x="438.4" y="54.8" fill="#000" font-size="13.3" text-anchor="middle" textLength="13.6" lengthAdjust="spacingAndGlyphs">17</text>
<text x="438.4" y="616.6" fill="#000" font-size="13" text-anchor="middle" textLength="13.6" lengthAdjust="spacingAndGlyphs">15</text>
<text x="476.7" y="54.8" fill="#000" font-size="13.3" text-anchor="middle" textLength="13.6" lengthAdjust="spacingAndGlyphs">23</text>
<text x="476.7" y="616.6" fill="#000" font-size="13" text-anchor="middle" textLength="13.6" lengthAdjust="spacingAndGlyphs">21</text>
<text x="515.0" y="54.8" fill="#000" font-size="13.3" text-anchor="middle" textLength="13.6" lengthAdjust="spacingAndGlyphs">05</text>
<text x="515.0" y="616.6" fill="#000" font-size="13" text-anchor="middle" textLength="13.6" lengthAdjust="spacingAndGlyphs">03</text>
<text x="553.4" y="54.8" fill="#000" font-size="13.3" text-anchor="middle" textLength="13.6" lengthAdjust="spacingAndGlyphs">11</text>
<text x="553.4" y="616.6" fill="#000" font-size="13" text-anchor="middle" textLength="13.6" lengthAdjust="spacingAndGlyphs">09</text>
<text x="591.7" y="54.8" fill="#000" font-size="13.3" text-anchor="middle" textLength="13.6" lengthAdjust="spacingAndGlyphs">17</text>
<text x="591.7" y="616.6" fill="#000" font-size="13" text-anchor="middle" textLength="13.6" lengthAdjust="spacingAndGlyphs">15</text>
<text x="630.1" y="54.8" fill="#000" font-size="13.3" text-anchor="middle" textLength="13.6" lengthAdjust="spacingAndGlyphs">23</text>
<text x="630.1" y="616.6" fill="#000" font-size="13" text-anchor="middle" textLength="13.6" lengthAdjust="spacingAndGlyphs">21</text>
<text x="668.4" y="54.8" fill="#000" font-size="13.3" text-anchor="middle" textLength="13.6" lengthAdjust="spacingAndGlyphs">05</text>
<text x="668.4" y="616.6" fill="#000" font-size="13" text-anchor="middle" textLength="13.6" lengthAdjust="spacingAndGlyphs">03</text>
<text x="706.7" y="54.8" fill="#000" font-size="13.3" text-anchor="middle" textLength="13.6" lengthAdjust="spacingAndGlyphs">11</text>
<text x="706.7" y="616.6" fill="#000" font-size="13" text-anchor="middle" textLength="13.6" lengthAdjust="spacingAndGlyphs">09</text>
<text x="745.1" y="54.8" fill="#000" font-size="13.3" text-anchor="middle" textLength="13.6" lengthAdjust="spacingAndGlyphs">17</text>
<text x="745.1" y="616.6" fill="#000" font-size="13" text-anchor="middle" textLength="13.6" lengthAdjust="spacingAndGlyphs">15</text>
<text x="783.4" y="54.8" fill="#000" font-size="13.3" text-anchor="middle" textLength="13.6" lengthAdjust="spacingAndGlyphs">23</text>
<text x="783.4" y="616.6" fill="#000" font-size="13" text-anchor="middle" textLength="13.6" lengthAdjust="spacingAndGlyphs">21</text>
<text x="821.8" y="54.8" fill="#000" font-size="13.3" text-anchor="middle" textLength="13.6" lengthAdjust="spacingAndGlyphs">05</text>
<text x="821.8" y="616.6" fill="#000" font-size="13" text-anchor="middle" textLength="13.6" lengthAdjust="spacingAndGlyphs">03</text>
<text x="302.6" y="54.8" fill="#000" font-size="13.3" text-anchor="start" textLength="33" lengthAdjust="spacingAndGlyphs">CEST</text>
<text x="854.6" y="54.8" fill="#000" font-size="13.3" text-anchor="start" textLength="33" lengthAdjust="spacingAndGlyphs">CEST</text>
<text x="306.7" y="616.7" fill="#000" font-size="13.3" text-anchor="start" textLength="24" lengthAdjust="spacingAndGlyphs">UTC</text>
<text x="859" y="616.7" fill="#000" font-size="13.3" text-anchor="start" textLength="24" lengthAdjust="spacingAndGlyphs">UTC</text>
<text x="344.5" y="79.0" fill="#000" font-size="10.8" text-anchor="end">10</text>
<text x="344.5" y="103.8" fill="#000" font-size="10.8" text-anchor="end">5</text>
<text x="344.5" y="128.4" fill="#000" font-size="10.8" text-anchor="end">0</text>
<text x="850.8" y="79.0" fill="#000" font-size="10.8" text-anchor="middle">10</text>
<text x="850.8" y="103.8" fill="#000" font-size="10.8" text-anchor="middle">5</text>
<text x="850.8" y="128.4" fill="#000" font-size="10.8" text-anchor="middle">0</text>
<text x="344.5" y="151.0" fill="#000" font-size="10.8" text-anchor="end">10</text>
<text x="344.5" y="165.8" fill="#000" font-size="10.8" text-anchor="end">8</text>
<text x="344.5" y="180.7" fill="#000" font-size="10.8" text-anchor="end">6</text>
<text x="344.5" y="195.6" fill="#000" font-size="10.8" text-anchor="end">4</text>
<text x="344.5" y="210.5" fill="#000" font-size="10.8" text-anchor="end">2</text>
<text x="344.5" y="225.3" fill="#000" font-size="10.8" text-anchor="end">0</text>
<text x="854" y="151.0" fill="#e8501e" font-size="10.8" text-anchor="middle">100</text>
<text x="854" y="166.0" fill="#e8501e" font-size="10.8" text-anchor="middle">95</text>
<text x="854" y="181.0" fill="#e8501e" font-size="10.8" text-anchor="middle">90</text>
<text x="854" y="196.0" fill="#e8501e" font-size="10.8" text-anchor="middle">85</text>
<text x="854" y="211.0" fill="#e8501e" font-size="10.8" text-anchor="middle">80</text>
<text x="854" y="226.0" fill="#e8501e" font-size="10.8" text-anchor="middle">75</text>
<text x="344.5" y="247.0" fill="#000" font-size="10.8" text-anchor="end">1025</text>
<text x="344.5" y="267.5" fill="#000" font-size="10.8" text-anchor="end">1020</text>
<text x="344.5" y="288.0" fill="#000" font-size="10.8" text-anchor="end">1015</text>
<text x="344.5" y="309.0" fill="#000" font-size="10.8" text-anchor="end">1010</text>
<text x="854" y="247.0" fill="#000" font-size="10.8" text-anchor="middle">769</text>
<text x="854" y="267.5" fill="#000" font-size="10.8" text-anchor="middle">765</text>
<text x="854" y="288.0" fill="#000" font-size="10.8" text-anchor="middle">761</text>
<text x="854" y="309.0" fill="#000" font-size="10.8" text-anchor="middle">758</text>
<text x="344.5" y="323.0" fill="#000" font-size="10.8" text-anchor="end">15</text>
<text x="344.5" y="348.3" fill="#000" font-size="10.8" text-anchor="end">10</text>
<text x="344.5" y="373.7" fill="#000" font-size="10.8" text-anchor="end">5</text>
<text x="344.5" y="399.2" fill="#000" font-size="10.8" text-anchor="end">0</text>
<text x="850.8" y="323.0" fill="#000" font-size="10.8" text-anchor="middle">54</text>
<text x="850.8" y="348.3" fill="#000" font-size="10.8" text-anchor="middle">36</text>
<text x="850.8" y="373.7" fill="#000" font-size="10.8" text-anchor="middle">18</text>
<text x="850.8" y="399.2" fill="#000" font-size="10.8" text-anchor="middle">0</text>
<text x="344.5" y="443.0" fill="#000" font-size="10.8" text-anchor="end">15.0</text>
<text x="344.5" y="462.0" fill="#000" font-size="10.8" text-anchor="end">7.0</text>
<text x="344.5" y="481.5" fill="#000" font-size="10.8" text-anchor="end">2.0</text>
<text x="344.5" y="501.0" fill="#000" font-size="10.8" text-anchor="end">0.5</text>
<text x="344.5" y="519.5" fill="#000" font-size="10.8" text-anchor="end">0.0</text>
<text x="844.5" y="442.4" fill="#ff8c00" font-size="10.8" text-anchor="start">100</text>
<text x="844.5" y="462.0" fill="#ff8c00" font-size="10.8" text-anchor="start">20</text>
<text x="844.5" y="481.5" fill="#ff8c00" font-size="10.8" text-anchor="start">5</text>
<text x="844.5" y="501.3" fill="#ff8c00" font-size="10.8" text-anchor="start">1</text>
<text x="844.5" y="519.5" fill="#ff8c00" font-size="10.8" text-anchor="start">0</text>
<text x="344.5" y="530.6" fill="#000" font-size="10.8" text-anchor="end">8</text>
<text x="344.5" y="549.2" fill="#000" font-size="10.8" text-anchor="end">6</text>
<text x="344.5" y="568.8" fill="#000" font-size="10.8" text-anchor="end">4</text>
<text x="344.5" y="588.4" fill="#000" font-size="10.8" text-anchor="end">2</text>
<text x="344.5" y="607.3" fill="#000" font-size="10.8" text-anchor="end">0</text>
<text x="844.5" y="531.0" fill="#ff8c00" font-size="10.8" text-anchor="start">1</text>
<text x="844.5" y="549.8" fill="#ff8c00" font-size="10.8" text-anchor="start">0.75</text>
<text x="844.5" y="569.0" fill="#ff8c00" font-size="10.8" text-anchor="start">0.5</text>
<text x="844.5" y="588.4" fill="#ff8c00" font-size="10.8" text-anchor="start">0.25</text>
<text x="844.5" y="608.0" fill="#ff8c00" font-size="10.8" text-anchor="start">0</text>
<text transform="translate(293.3,96) rotate(-90)" fill="#000090" font-size="12" text-anchor="middle" textLength="66" lengthAdjust="spacingAndGlyphs">temperatura</text>
<text transform="translate(307,96.5) rotate(-90)" fill="#000090" font-size="12" text-anchor="middle">(°C)</text>
<text transform="translate(293.3,185) rotate(-90)" fill="#000090" font-size="12" text-anchor="middle">opad</text>
<text transform="translate(307,185) rotate(-90)" fill="#000090" font-size="12" text-anchor="middle" textLength="87" lengthAdjust="spacingAndGlyphs">(mm/h, kg/m²/h)</text>
<text transform="translate(293.3,272) rotate(-90)" fill="#000090" font-size="12" text-anchor="middle">ciśnienie</text>
<text transform="translate(307,273.5) rotate(-90)" fill="#000090" font-size="12" text-anchor="middle">(hPa)</text>
<text transform="translate(293.3,361) rotate(-90)" fill="#000090" font-size="12" text-anchor="middle">wiatr</text>
<text transform="translate(307,361) rotate(-90)" fill="#000090" font-size="12" text-anchor="middle">(m/s)</text>
<text transform="translate(293.3,474) rotate(-90)" fill="#000090" font-size="12" text-anchor="middle" textLength="104" lengthAdjust="spacingAndGlyphs">pion. rozciągł. chm.</text>
<text transform="translate(307,473) rotate(-90)" fill="#000090" font-size="12" text-anchor="middle">(km)</text>
<text transform="translate(293.3,571) rotate(-90)" fill="#000090" font-size="12" text-anchor="middle" textLength="73" lengthAdjust="spacingAndGlyphs">zachmurzenie</text>
<text transform="translate(307,562.5) rotate(-90)" fill="#000090" font-size="12" text-anchor="middle">(oktanty)</text>
<text transform="translate(892.5,96.5) rotate(-90)" fill="#000090" font-size="12" text-anchor="middle">(°C)</text>
<text transform="translate(906,96) rotate(-90)" fill="#000090" font-size="12" text-anchor="middle" textLength="66" lengthAdjust="spacingAndGlyphs">temperatura</text>
<text transform="translate(892.5,185) rotate(-90)" fill="#000090" font-size="12" text-anchor="middle">(%)</text>
<text transform="translate(906,185) rotate(-90)" fill="#000090" font-size="12" text-anchor="middle" textLength="88" lengthAdjust="spacingAndGlyphs">wilgotność wzgl.</text>
<text transform="translate(892.5,273) rotate(-90)" fill="#000090" font-size="12" text-anchor="middle">(mm Hg)</text>
<text transform="translate(906,273) rotate(-90)" fill="#000090" font-size="12" text-anchor="middle">ciśnienie</text>
<text transform="translate(892.5,361) rotate(-90)" fill="#000090" font-size="12" text-anchor="middle">(km/h)</text>
<text transform="translate(906,361) rotate(-90)" fill="#000090" font-size="12" text-anchor="middle">wiatr</text>
<text transform="translate(895,474) rotate(-90)" fill="#000090" font-size="12" text-anchor="middle">(km)</text>
<text transform="translate(906,475) rotate(-90)" fill="#000090" font-size="12" text-anchor="middle" textLength="64" lengthAdjust="spacingAndGlyphs">widzialność</text>
<text transform="translate(895,563) rotate(-90)" fill="#000090" font-size="12" text-anchor="middle">(frakcja)</text>
<text transform="translate(905,563) rotate(-90)" fill="#000090" font-size="12" text-anchor="middle">mgła</text>
<text x="298.8" y="411.6" fill="#000090" font-size="12" text-anchor="middle">N</text>
<text x="289" y="419.8" fill="#000090" font-size="12" text-anchor="middle">W</text>
<text x="305.2" y="419.8" fill="#000090" font-size="12" text-anchor="middle">E</text>
<text x="298" y="427.5" fill="#000090" font-size="11" text-anchor="middle">S</text>
<text x="896.8" y="411.6" fill="#000090" font-size="12" text-anchor="middle">N</text>
<text x="887" y="419.8" fill="#000090" font-size="12" text-anchor="middle">W</text>
<text x="903.2" y="419.8" fill="#000090" font-size="12" text-anchor="middle">E</text>
<text x="896" y="427.5" fill="#000090" font-size="11" text-anchor="middle">S</text>
<text x="309.4" y="652.8" fill="#000090" font-size="13" text-anchor="start" textLength="108.5" lengthAdjust="spacingAndGlyphs">meteo@icm.edu.pl</text>
<text x="623.2" y="652.8" fill="#000090" font-size="13" text-anchor="start" textLength="252" lengthAdjust="spacingAndGlyphs">© 2007-2025 ICM, Uniwersytet Warszawski</text>
</svg></body></html>
